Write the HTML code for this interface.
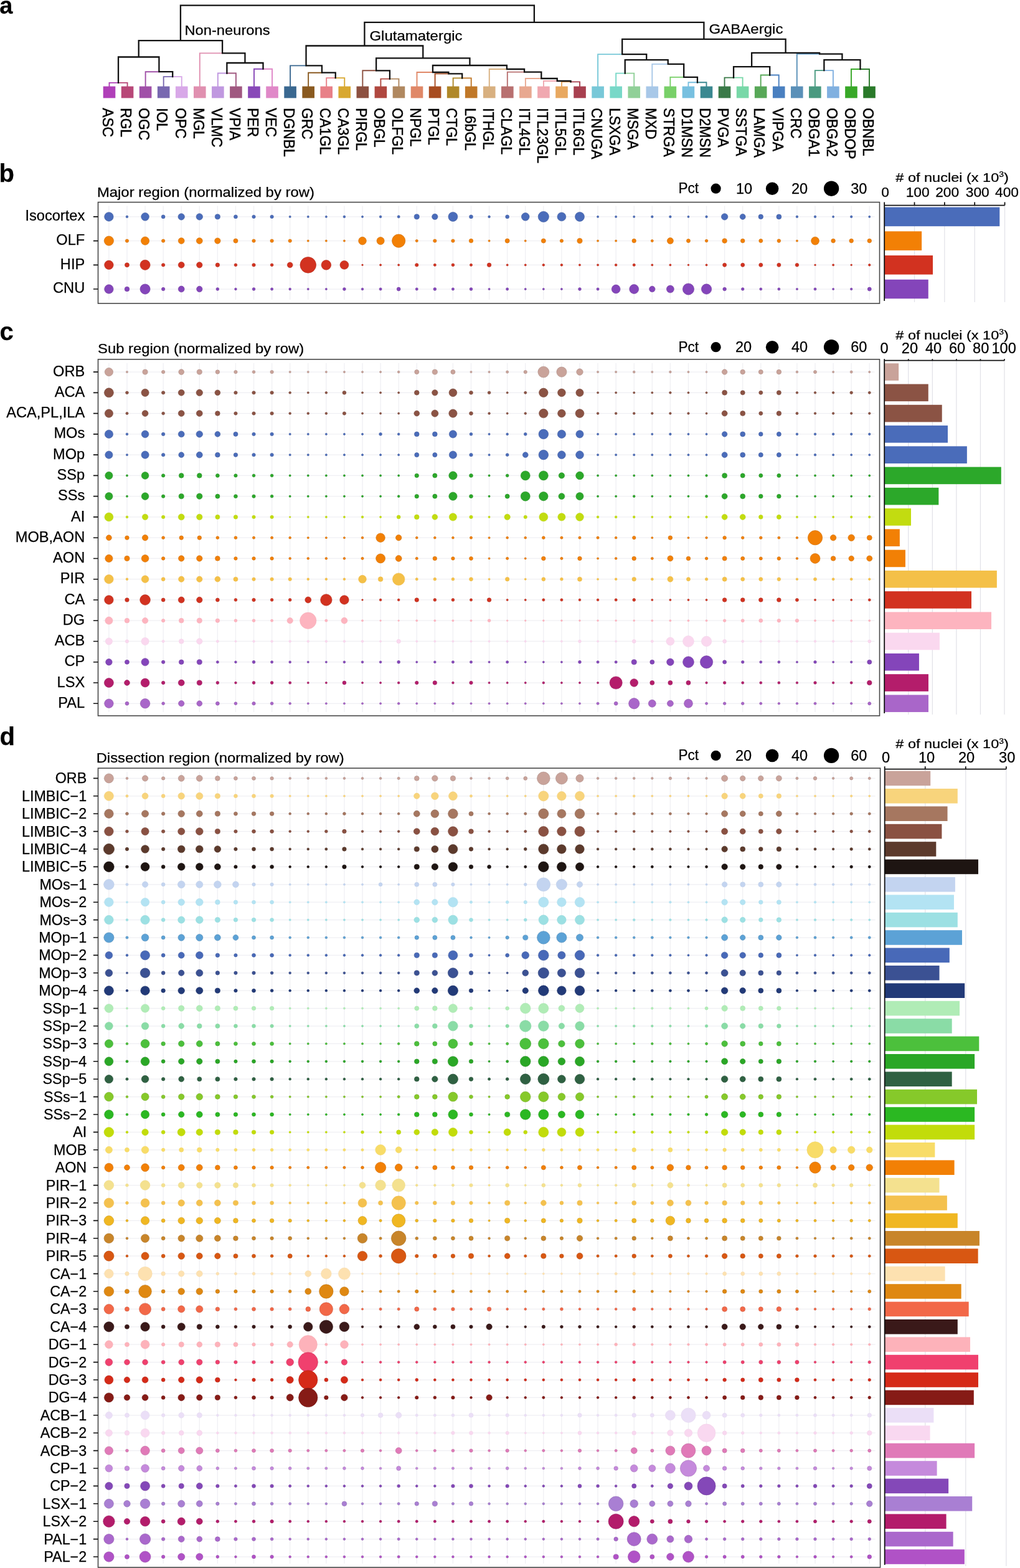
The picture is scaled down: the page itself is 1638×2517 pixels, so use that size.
<!DOCTYPE html>
<html><head><meta charset="utf-8"><title>Figure</title>
<style>html,body{margin:0;padding:0;background:#fff;overflow:hidden;}svg{display:block;}</style>
</head><body>
<svg xmlns="http://www.w3.org/2000/svg" width="1638" height="2517" viewBox="0 0 1638 2517" font-family="'Liberation Sans', Arial, Helvetica, sans-serif" fill="#000">
<style>text{stroke:#000;stroke-width:0.25px;}text.cl{stroke-width:0.5px;}</style>
<g fill="none" stroke-linecap="square" stroke-linejoin="miter">
<path d="M190.03 132.9H175.5V138.6" stroke="#b040b8" stroke-width="1.9"/>
<path d="M190.03 132.9H204.56V138.6" stroke="#b84878" stroke-width="1.9"/>
<path d="M277.21 123.1H262.68V138.6" stroke="#7868b0" stroke-width="1.9"/>
<path d="M277.21 123.1H291.74V138.6" stroke="#d8a8e8" stroke-width="1.9"/>
<path d="M255.42 115.2H233.62V138.6" stroke="#a050a8" stroke-width="1.9"/>
<path d="M364.39 117.5H349.86V138.6" stroke="#c098e0" stroke-width="1.9"/>
<path d="M364.39 117.5H378.92V138.6" stroke="#a05880" stroke-width="1.9"/>
<path d="M422.51 110.7H407.98V138.6" stroke="#8848b8" stroke-width="1.9"/>
<path d="M422.51 110.7H437.04V138.6" stroke="#e088c8" stroke-width="1.9"/>
<path d="M357.12 85.4H320.8V138.6" stroke="#e090b0" stroke-width="1.9"/>
<path d="M538.75 125.1H524.22V138.6" stroke="#e88088" stroke-width="1.9"/>
<path d="M538.75 125.1H553.28V138.6" stroke="#d8a830" stroke-width="1.9"/>
<path d="M516.95 116.7H495.16V138.6" stroke="#8a5a20" stroke-width="1.9"/>
<path d="M491.53 105.4H466.1V138.6" stroke="#3a6890" stroke-width="1.9"/>
<path d="M625.93 126.6H611.4V138.6" stroke="#b04840" stroke-width="1.9"/>
<path d="M625.93 126.6H640.46V138.6" stroke="#b08860" stroke-width="1.9"/>
<path d="M604.13 113.3H582.34V138.6" stroke="#8c5040" stroke-width="1.9"/>
<path d="M742.17 125.4H727.64V138.6" stroke="#b08828" stroke-width="1.9"/>
<path d="M742.17 125.4H756.7V138.6" stroke="#c07828" stroke-width="1.9"/>
<path d="M720.38 118.4H698.58V138.6" stroke="#a84c20" stroke-width="1.9"/>
<path d="M694.95 116H669.52V138.6" stroke="#e08868" stroke-width="1.9"/>
<path d="M916.53 131.4H902V138.6" stroke="#e8a860" stroke-width="1.9"/>
<path d="M916.53 131.4H931.06V138.6" stroke="#a84050" stroke-width="1.9"/>
<path d="M894.73 130H872.94V138.6" stroke="#f0a8b0" stroke-width="1.9"/>
<path d="M869.31 126H843.88V138.6" stroke="#e8a890" stroke-width="1.9"/>
<path d="M842.06 115.6H814.82V138.6" stroke="#b87070" stroke-width="1.9"/>
<path d="M813.91 111H785.76V138.6" stroke="#d8b080" stroke-width="1.9"/>
<path d="M1003.71 117.6H989.18V138.6" stroke="#78d8c8" stroke-width="1.9"/>
<path d="M1003.71 117.6H1018.24V138.6" stroke="#90d098" stroke-width="1.9"/>
<path d="M1119.95 132.3H1105.42V138.6" stroke="#78c0e0" stroke-width="1.9"/>
<path d="M1119.95 132.3H1134.48V138.6" stroke="#3a8890" stroke-width="1.9"/>
<path d="M1098.16 123.9H1076.36V138.6" stroke="#78d068" stroke-width="1.9"/>
<path d="M1072.73 102.9H1047.3V138.6" stroke="#a8c8e8" stroke-width="1.9"/>
<path d="M999.17 87.1H960.12V138.6" stroke="#78c8d8" stroke-width="1.9"/>
<path d="M1178.07 124.6H1163.54V138.6" stroke="#3a7a48" stroke-width="1.9"/>
<path d="M1178.07 124.6H1192.6V138.6" stroke="#78d8a8" stroke-width="1.9"/>
<path d="M1236.19 120.5H1221.66V138.6" stroke="#58a858" stroke-width="1.9"/>
<path d="M1236.19 120.5H1250.72V138.6" stroke="#4a80c0" stroke-width="1.9"/>
<path d="M1323.37 113.1H1308.84V138.6" stroke="#4a9a80" stroke-width="1.9"/>
<path d="M1323.37 113.1H1337.9V138.6" stroke="#80b0e0" stroke-width="1.9"/>
<path d="M1381.49 111H1366.96V138.6" stroke="#38a828" stroke-width="1.9"/>
<path d="M1381.49 111H1396.02V138.6" stroke="#2a7a2a" stroke-width="1.9"/>
<path d="M1316.11 86.6H1279.78V138.6" stroke="#5a90b8" stroke-width="1.9"/>
<path d="M255.42 115.2H277.21V123.1M222.72 91.5H190.03V132.9M222.72 91.5H255.42V115.2M393.45 101H364.39V117.5M393.45 101H422.51V110.7M357.12 85.4H393.45V101M289.92 65.1H222.72V91.5M289.92 65.1H357.12V85.4M516.95 116.7H538.75V125.1M491.53 105.4H516.95V116.7M604.13 113.3H625.93V126.6M720.38 118.4H742.17V125.4M694.95 116H720.38V118.4M894.73 130H916.53V131.4M869.31 126H894.73V130M842.06 115.6H869.31V126M813.91 111H842.06V115.6M754.43 105H694.95V116M754.43 105H813.91V111M679.28 93.4H604.13V113.3M679.28 93.4H754.43V105M585.4 73.5H491.53V105.4M585.4 73.5H679.28V93.4M1098.16 123.9H1119.95V132.3M1072.73 102.9H1098.16V123.9M1038.22 96.1H1003.71V117.6M1038.22 96.1H1072.73V102.9M999.17 87.1H1038.22V96.1M1207.13 107.1H1178.07V124.6M1207.13 107.1H1236.19V120.5M1352.43 96.2H1323.37V113.1M1352.43 96.2H1381.49V111M1316.11 86.6H1352.43V96.2M1261.62 84.9H1207.13V107.1M1261.62 84.9H1316.11V86.6M1130.39 62.9H999.17V87.1M1130.39 62.9H1261.62V84.9M857.9 35.8H585.4V73.5M857.9 35.8H1130.39V62.9M573.91 8.6H289.92V65.1M573.91 8.6H857.9V35.8" stroke="#111" stroke-width="2.3"/>
</g>
<rect x="165.7" y="138.6" width="19.6" height="18.8" fill="#b040b8"/>
<rect x="194.76" y="138.6" width="19.6" height="18.8" fill="#b84878"/>
<rect x="223.82" y="138.6" width="19.6" height="18.8" fill="#a050a8"/>
<rect x="252.88" y="138.6" width="19.6" height="18.8" fill="#7868b0"/>
<rect x="281.94" y="138.6" width="19.6" height="18.8" fill="#d8a8e8"/>
<rect x="311" y="138.6" width="19.6" height="18.8" fill="#e090b0"/>
<rect x="340.06" y="138.6" width="19.6" height="18.8" fill="#c098e0"/>
<rect x="369.12" y="138.6" width="19.6" height="18.8" fill="#a05880"/>
<rect x="398.18" y="138.6" width="19.6" height="18.8" fill="#8848b8"/>
<rect x="427.24" y="138.6" width="19.6" height="18.8" fill="#e088c8"/>
<rect x="456.3" y="138.6" width="19.6" height="18.8" fill="#3a6890"/>
<rect x="485.36" y="138.6" width="19.6" height="18.8" fill="#8a5a20"/>
<rect x="514.42" y="138.6" width="19.6" height="18.8" fill="#e88088"/>
<rect x="543.48" y="138.6" width="19.6" height="18.8" fill="#d8a830"/>
<rect x="572.54" y="138.6" width="19.6" height="18.8" fill="#8c5040"/>
<rect x="601.6" y="138.6" width="19.6" height="18.8" fill="#b04840"/>
<rect x="630.66" y="138.6" width="19.6" height="18.8" fill="#b08860"/>
<rect x="659.72" y="138.6" width="19.6" height="18.8" fill="#e08868"/>
<rect x="688.78" y="138.6" width="19.6" height="18.8" fill="#a84c20"/>
<rect x="717.84" y="138.6" width="19.6" height="18.8" fill="#b08828"/>
<rect x="746.9" y="138.6" width="19.6" height="18.8" fill="#c07828"/>
<rect x="775.96" y="138.6" width="19.6" height="18.8" fill="#d8b080"/>
<rect x="805.02" y="138.6" width="19.6" height="18.8" fill="#b87070"/>
<rect x="834.08" y="138.6" width="19.6" height="18.8" fill="#e8a890"/>
<rect x="863.14" y="138.6" width="19.6" height="18.8" fill="#f0a8b0"/>
<rect x="892.2" y="138.6" width="19.6" height="18.8" fill="#e8a860"/>
<rect x="921.26" y="138.6" width="19.6" height="18.8" fill="#a84050"/>
<rect x="950.32" y="138.6" width="19.6" height="18.8" fill="#78c8d8"/>
<rect x="979.38" y="138.6" width="19.6" height="18.8" fill="#78d8c8"/>
<rect x="1008.44" y="138.6" width="19.6" height="18.8" fill="#90d098"/>
<rect x="1037.5" y="138.6" width="19.6" height="18.8" fill="#a8c8e8"/>
<rect x="1066.56" y="138.6" width="19.6" height="18.8" fill="#78d068"/>
<rect x="1095.62" y="138.6" width="19.6" height="18.8" fill="#78c0e0"/>
<rect x="1124.68" y="138.6" width="19.6" height="18.8" fill="#3a8890"/>
<rect x="1153.74" y="138.6" width="19.6" height="18.8" fill="#3a7a48"/>
<rect x="1182.8" y="138.6" width="19.6" height="18.8" fill="#78d8a8"/>
<rect x="1211.86" y="138.6" width="19.6" height="18.8" fill="#58a858"/>
<rect x="1240.92" y="138.6" width="19.6" height="18.8" fill="#4a80c0"/>
<rect x="1269.98" y="138.6" width="19.6" height="18.8" fill="#5a90b8"/>
<rect x="1299.04" y="138.6" width="19.6" height="18.8" fill="#4a9a80"/>
<rect x="1328.1" y="138.6" width="19.6" height="18.8" fill="#80b0e0"/>
<rect x="1357.16" y="138.6" width="19.6" height="18.8" fill="#38a828"/>
<rect x="1386.22" y="138.6" width="19.6" height="18.8" fill="#2a7a2a"/>
<text x="296.5" y="56" font-size="22.3" textLength="137" lengthAdjust="spacingAndGlyphs">Non-neurons</text>
<text x="593.5" y="65.2" font-size="22.3" textLength="149" lengthAdjust="spacingAndGlyphs">Glutamatergic</text>
<text x="1138.5" y="54.3" font-size="22.3" textLength="119" lengthAdjust="spacingAndGlyphs">GABAergic</text>
<text class="cl" transform="translate(165.3 173.2) scale(1.09 1) rotate(90)" font-size="22.8">ASC</text>
<text class="cl" transform="translate(194.36 173.2) scale(1.09 1) rotate(90)" font-size="22.8">RGL</text>
<text class="cl" transform="translate(223.42 173.2) scale(1.09 1) rotate(90)" font-size="22.8">OGC</text>
<text class="cl" transform="translate(252.48 173.2) scale(1.09 1) rotate(90)" font-size="22.8">IOL</text>
<text class="cl" transform="translate(281.54 173.2) scale(1.09 1) rotate(90)" font-size="22.8">OPC</text>
<text class="cl" transform="translate(310.6 173.2) scale(1.09 1) rotate(90)" font-size="22.8">MGL</text>
<text class="cl" transform="translate(339.66 173.2) scale(1.09 1) rotate(90)" font-size="22.8">VLMC</text>
<text class="cl" transform="translate(368.72 173.2) scale(1.09 1) rotate(90)" font-size="22.8">VPIA</text>
<text class="cl" transform="translate(397.78 173.2) scale(1.09 1) rotate(90)" font-size="22.8">PER</text>
<text class="cl" transform="translate(426.84 173.2) scale(1.09 1) rotate(90)" font-size="22.8">VEC</text>
<text class="cl" transform="translate(455.9 173.2) scale(1.09 1) rotate(90)" font-size="22.8">DGNBL</text>
<text class="cl" transform="translate(484.96 173.2) scale(1.09 1) rotate(90)" font-size="22.8">GRC</text>
<text class="cl" transform="translate(514.02 173.2) scale(1.09 1) rotate(90)" font-size="22.8">CA1GL</text>
<text class="cl" transform="translate(543.08 173.2) scale(1.09 1) rotate(90)" font-size="22.8">CA3GL</text>
<text class="cl" transform="translate(572.14 173.2) scale(1.09 1) rotate(90)" font-size="22.8">PIRGL</text>
<text class="cl" transform="translate(601.2 173.2) scale(1.09 1) rotate(90)" font-size="22.8">OBGL</text>
<text class="cl" transform="translate(630.26 173.2) scale(1.09 1) rotate(90)" font-size="22.8">OLFGL</text>
<text class="cl" transform="translate(659.32 173.2) scale(1.09 1) rotate(90)" font-size="22.8">NPGL</text>
<text class="cl" transform="translate(688.38 173.2) scale(1.09 1) rotate(90)" font-size="22.8">PTGL</text>
<text class="cl" transform="translate(717.44 173.2) scale(1.09 1) rotate(90)" font-size="22.8">CTGL</text>
<text class="cl" transform="translate(746.5 173.2) scale(1.09 1) rotate(90)" font-size="22.8">L6bGL</text>
<text class="cl" transform="translate(775.56 173.2) scale(1.09 1) rotate(90)" font-size="22.8">ITHGL</text>
<text class="cl" transform="translate(804.62 173.2) scale(1.09 1) rotate(90)" font-size="22.8">CLAGL</text>
<text class="cl" transform="translate(833.68 173.2) scale(1.09 1) rotate(90)" font-size="22.8">ITL4GL</text>
<text class="cl" transform="translate(862.74 173.2) scale(1.09 1) rotate(90)" font-size="22.8">ITL23GL</text>
<text class="cl" transform="translate(891.8 173.2) scale(1.09 1) rotate(90)" font-size="22.8">ITL5GL</text>
<text class="cl" transform="translate(920.86 173.2) scale(1.09 1) rotate(90)" font-size="22.8">ITL6GL</text>
<text class="cl" transform="translate(949.92 173.2) scale(1.09 1) rotate(90)" font-size="22.8">CNUGA</text>
<text class="cl" transform="translate(978.98 173.2) scale(1.09 1) rotate(90)" font-size="22.8">LSXGA</text>
<text class="cl" transform="translate(1008.04 173.2) scale(1.09 1) rotate(90)" font-size="22.8">MSGA</text>
<text class="cl" transform="translate(1037.1 173.2) scale(1.09 1) rotate(90)" font-size="22.8">MXD</text>
<text class="cl" transform="translate(1066.16 173.2) scale(1.09 1) rotate(90)" font-size="22.8">STRGA</text>
<text class="cl" transform="translate(1095.22 173.2) scale(1.09 1) rotate(90)" font-size="22.8">D1MSN</text>
<text class="cl" transform="translate(1124.28 173.2) scale(1.09 1) rotate(90)" font-size="22.8">D2MSN</text>
<text class="cl" transform="translate(1153.34 173.2) scale(1.09 1) rotate(90)" font-size="22.8">PVGA</text>
<text class="cl" transform="translate(1182.4 173.2) scale(1.09 1) rotate(90)" font-size="22.8">SSTGA</text>
<text class="cl" transform="translate(1211.46 173.2) scale(1.09 1) rotate(90)" font-size="22.8">LAMGA</text>
<text class="cl" transform="translate(1240.52 173.2) scale(1.09 1) rotate(90)" font-size="22.8">VIPGA</text>
<text class="cl" transform="translate(1269.58 173.2) scale(1.09 1) rotate(90)" font-size="22.8">CRC</text>
<text class="cl" transform="translate(1298.64 173.2) scale(1.09 1) rotate(90)" font-size="22.8">OBGA1</text>
<text class="cl" transform="translate(1327.7 173.2) scale(1.09 1) rotate(90)" font-size="22.8">OBGA2</text>
<text class="cl" transform="translate(1356.76 173.2) scale(1.09 1) rotate(90)" font-size="22.8">OBDOP</text>
<text class="cl" transform="translate(1385.82 173.2) scale(1.09 1) rotate(90)" font-size="22.8">OBNBL</text>
<path d="M174.9 330.6V481.1M203.98 330.6V481.1M233.06 330.6V481.1M262.14 330.6V481.1M291.22 330.6V481.1M320.3 330.6V481.1M349.38 330.6V481.1M378.46 330.6V481.1M407.54 330.6V481.1M436.62 330.6V481.1M465.7 330.6V481.1M494.78 330.6V481.1M523.86 330.6V481.1M552.94 330.6V481.1M582.02 330.6V481.1M611.1 330.6V481.1M640.18 330.6V481.1M669.26 330.6V481.1M698.34 330.6V481.1M727.42 330.6V481.1M756.5 330.6V481.1M785.58 330.6V481.1M814.66 330.6V481.1M843.74 330.6V481.1M872.82 330.6V481.1M901.9 330.6V481.1M930.98 330.6V481.1M960.06 330.6V481.1M989.14 330.6V481.1M1018.22 330.6V481.1M1047.3 330.6V481.1M1076.38 330.6V481.1M1105.46 330.6V481.1M1134.54 330.6V481.1M1163.62 330.6V481.1M1192.7 330.6V481.1M1221.78 330.6V481.1M1250.86 330.6V481.1M1279.94 330.6V481.1M1309.02 330.6V481.1M1338.1 330.6V481.1M1367.18 330.6V481.1M1396.26 330.6V481.1M165.5 347.9H1404.5M165.5 386.62H1404.5M165.5 425.34H1404.5M165.5 464.06H1404.5" stroke="#efeff3" stroke-width="1.25" fill="none"/>
<rect x="157.5" y="324.6" width="1255" height="162.5" fill="none" stroke="#484848" stroke-width="1.6"/>
<text x="136.2" y="354.1" font-size="23.6" text-anchor="end">Isocortex</text>
<text x="136.2" y="392.82" font-size="23.6" text-anchor="end">OLF</text>
<text x="136.2" y="431.54" font-size="23.6" text-anchor="end">HIP</text>
<text x="136.2" y="470.26" font-size="23.6" text-anchor="end">CNU</text>
<path d="M149.9 347.9H157.5M149.9 386.62H157.5M149.9 425.34H157.5M149.9 464.06H157.5" stroke="#111" stroke-width="1.6"/>
<g fill="#4a6cba" stroke="#3e5a9c" stroke-width="0.55">
<circle cx="174.9" cy="347.9" r="7.25"/>
<circle cx="203.98" cy="347.9" r="1.85"/>
<circle cx="233.06" cy="347.9" r="6.35"/>
<circle cx="262.14" cy="347.9" r="2.95"/>
<circle cx="291.22" cy="347.9" r="5.25"/>
<circle cx="320.3" cy="347.9" r="5.25"/>
<circle cx="349.38" cy="347.9" r="4.1"/>
<circle cx="378.46" cy="347.9" r="2.95"/>
<circle cx="407.54" cy="347.9" r="2.7"/>
<circle cx="436.62" cy="347.9" r="2.7"/>
<circle cx="465.7" cy="347.9" r="1.55"/>
<circle cx="494.78" cy="347.9" r="1.55"/>
<circle cx="523.86" cy="347.9" r="1.55"/>
<circle cx="552.94" cy="347.9" r="1.85"/>
<circle cx="582.02" cy="347.9" r="1.55"/>
<circle cx="611.1" cy="347.9" r="1.85"/>
<circle cx="640.18" cy="347.9" r="2.1"/>
<circle cx="669.26" cy="347.9" r="4.1"/>
<circle cx="698.34" cy="347.9" r="4.7"/>
<circle cx="727.42" cy="347.9" r="7.5"/>
<circle cx="756.5" cy="347.9" r="2.95"/>
<circle cx="785.58" cy="347.9" r="1.85"/>
<circle cx="814.66" cy="347.9" r="2.95"/>
<circle cx="843.74" cy="347.9" r="6.35"/>
<circle cx="872.82" cy="347.9" r="8.65"/>
<circle cx="901.9" cy="347.9" r="6.95"/>
<circle cx="930.98" cy="347.9" r="7.5"/>
<circle cx="960.06" cy="347.9" r="1.55"/>
<circle cx="989.14" cy="347.9" r="1.55"/>
<circle cx="1018.22" cy="347.9" r="1.55"/>
<circle cx="1047.3" cy="347.9" r="1.8"/>
<circle cx="1076.38" cy="347.9" r="1.8"/>
<circle cx="1105.46" cy="347.9" r="1.55"/>
<circle cx="1134.54" cy="347.9" r="1.8"/>
<circle cx="1163.62" cy="347.9" r="5.25"/>
<circle cx="1192.7" cy="347.9" r="4.5"/>
<circle cx="1221.78" cy="347.9" r="3.8"/>
<circle cx="1250.86" cy="347.9" r="4"/>
<circle cx="1279.94" cy="347.9" r="1.8"/>
<circle cx="1309.02" cy="347.9" r="1.8"/>
<circle cx="1338.1" cy="347.9" r="1.55"/>
<circle cx="1367.18" cy="347.9" r="1.8"/>
<circle cx="1396.26" cy="347.9" r="1.55"/>
</g>
<g fill="#f28005" stroke="#cb6b04" stroke-width="0.55">
<circle cx="174.9" cy="386.62" r="7.65"/>
<circle cx="203.98" cy="386.62" r="2.7"/>
<circle cx="233.06" cy="386.62" r="6.65"/>
<circle cx="262.14" cy="386.62" r="2.7"/>
<circle cx="291.22" cy="386.62" r="4.95"/>
<circle cx="320.3" cy="386.62" r="4.95"/>
<circle cx="349.38" cy="386.62" r="4.7"/>
<circle cx="378.46" cy="386.62" r="3.55"/>
<circle cx="407.54" cy="386.62" r="2.7"/>
<circle cx="436.62" cy="386.62" r="2.7"/>
<circle cx="465.7" cy="386.62" r="2.7"/>
<circle cx="494.78" cy="386.62" r="1.55"/>
<circle cx="523.86" cy="386.62" r="1.55"/>
<circle cx="552.94" cy="386.62" r="1.55"/>
<circle cx="582.02" cy="386.62" r="6.35"/>
<circle cx="611.1" cy="386.62" r="6.1"/>
<circle cx="640.18" cy="386.62" r="10.65"/>
<circle cx="669.26" cy="386.62" r="2.1"/>
<circle cx="698.34" cy="386.62" r="2.7"/>
<circle cx="727.42" cy="386.62" r="2.7"/>
<circle cx="756.5" cy="386.62" r="3.25"/>
<circle cx="785.58" cy="386.62" r="1.55"/>
<circle cx="814.66" cy="386.62" r="3.55"/>
<circle cx="843.74" cy="386.62" r="1.55"/>
<circle cx="872.82" cy="386.62" r="3.55"/>
<circle cx="901.9" cy="386.62" r="2.7"/>
<circle cx="930.98" cy="386.62" r="4.1"/>
<circle cx="960.06" cy="386.62" r="1.55"/>
<circle cx="989.14" cy="386.62" r="1.55"/>
<circle cx="1018.22" cy="386.62" r="3.25"/>
<circle cx="1047.3" cy="386.62" r="2.05"/>
<circle cx="1076.38" cy="386.62" r="5"/>
<circle cx="1105.46" cy="386.62" r="3.05"/>
<circle cx="1134.54" cy="386.62" r="2.3"/>
<circle cx="1163.62" cy="386.62" r="3.8"/>
<circle cx="1192.7" cy="386.62" r="3.3"/>
<circle cx="1221.78" cy="386.62" r="3.05"/>
<circle cx="1250.86" cy="386.62" r="2.8"/>
<circle cx="1279.94" cy="386.62" r="1.55"/>
<circle cx="1309.02" cy="386.62" r="6.45"/>
<circle cx="1338.1" cy="386.62" r="3.3"/>
<circle cx="1367.18" cy="386.62" r="3.3"/>
<circle cx="1396.26" cy="386.62" r="3.3"/>
</g>
<g fill="#d23220" stroke="#b02a1a" stroke-width="0.55">
<circle cx="174.9" cy="425.34" r="7.25"/>
<circle cx="203.98" cy="425.34" r="3.55"/>
<circle cx="233.06" cy="425.34" r="8.1"/>
<circle cx="262.14" cy="425.34" r="2.7"/>
<circle cx="291.22" cy="425.34" r="4.95"/>
<circle cx="320.3" cy="425.34" r="4.7"/>
<circle cx="349.38" cy="425.34" r="3.25"/>
<circle cx="378.46" cy="425.34" r="2.4"/>
<circle cx="407.54" cy="425.34" r="2.7"/>
<circle cx="436.62" cy="425.34" r="2.4"/>
<circle cx="465.7" cy="425.34" r="4.4"/>
<circle cx="494.78" cy="425.34" r="12.85"/>
<circle cx="523.86" cy="425.34" r="7.85"/>
<circle cx="552.94" cy="425.34" r="6.95"/>
<circle cx="582.02" cy="425.34" r="1.25"/>
<circle cx="611.1" cy="425.34" r="1.55"/>
<circle cx="640.18" cy="425.34" r="1.55"/>
<circle cx="669.26" cy="425.34" r="2.7"/>
<circle cx="698.34" cy="425.34" r="2.1"/>
<circle cx="727.42" cy="425.34" r="2.4"/>
<circle cx="756.5" cy="425.34" r="2.1"/>
<circle cx="785.58" cy="425.34" r="3.25"/>
<circle cx="814.66" cy="425.34" r="1.55"/>
<circle cx="843.74" cy="425.34" r="1.55"/>
<circle cx="872.82" cy="425.34" r="1.85"/>
<circle cx="901.9" cy="425.34" r="1.85"/>
<circle cx="930.98" cy="425.34" r="1.55"/>
<circle cx="960.06" cy="425.34" r="1.55"/>
<circle cx="989.14" cy="425.34" r="1.85"/>
<circle cx="1018.22" cy="425.34" r="2.1"/>
<circle cx="1047.3" cy="425.34" r="1.55"/>
<circle cx="1076.38" cy="425.34" r="1.55"/>
<circle cx="1105.46" cy="425.34" r="1.3"/>
<circle cx="1134.54" cy="425.34" r="1.55"/>
<circle cx="1163.62" cy="425.34" r="3.05"/>
<circle cx="1192.7" cy="425.34" r="3.05"/>
<circle cx="1221.78" cy="425.34" r="3.05"/>
<circle cx="1250.86" cy="425.34" r="3.05"/>
<circle cx="1279.94" cy="425.34" r="2.8"/>
<circle cx="1309.02" cy="425.34" r="1.3"/>
<circle cx="1338.1" cy="425.34" r="1.55"/>
<circle cx="1367.18" cy="425.34" r="1.3"/>
<circle cx="1396.26" cy="425.34" r="1.8"/>
</g>
<g fill="#8445ba" stroke="#6e399c" stroke-width="0.55">
<circle cx="174.9" cy="464.06" r="7.25"/>
<circle cx="203.98" cy="464.06" r="3.85"/>
<circle cx="233.06" cy="464.06" r="8.1"/>
<circle cx="262.14" cy="464.06" r="2.7"/>
<circle cx="291.22" cy="464.06" r="4.95"/>
<circle cx="320.3" cy="464.06" r="4.7"/>
<circle cx="349.38" cy="464.06" r="2.4"/>
<circle cx="378.46" cy="464.06" r="1.85"/>
<circle cx="407.54" cy="464.06" r="2.4"/>
<circle cx="436.62" cy="464.06" r="2.1"/>
<circle cx="465.7" cy="464.06" r="1.85"/>
<circle cx="494.78" cy="464.06" r="1.55"/>
<circle cx="523.86" cy="464.06" r="1.55"/>
<circle cx="552.94" cy="464.06" r="2.4"/>
<circle cx="582.02" cy="464.06" r="1.85"/>
<circle cx="611.1" cy="464.06" r="2.1"/>
<circle cx="640.18" cy="464.06" r="2.95"/>
<circle cx="669.26" cy="464.06" r="2.1"/>
<circle cx="698.34" cy="464.06" r="2.4"/>
<circle cx="727.42" cy="464.06" r="2.1"/>
<circle cx="756.5" cy="464.06" r="2.4"/>
<circle cx="785.58" cy="464.06" r="1.55"/>
<circle cx="814.66" cy="464.06" r="2.1"/>
<circle cx="843.74" cy="464.06" r="1.55"/>
<circle cx="872.82" cy="464.06" r="1.55"/>
<circle cx="901.9" cy="464.06" r="1.55"/>
<circle cx="930.98" cy="464.06" r="2.4"/>
<circle cx="960.06" cy="464.06" r="2.1"/>
<circle cx="989.14" cy="464.06" r="6.95"/>
<circle cx="1018.22" cy="464.06" r="7.5"/>
<circle cx="1047.3" cy="464.06" r="4.75"/>
<circle cx="1076.38" cy="464.06" r="6"/>
<circle cx="1105.46" cy="464.06" r="9.15"/>
<circle cx="1134.54" cy="464.06" r="8.2"/>
<circle cx="1163.62" cy="464.06" r="2.8"/>
<circle cx="1192.7" cy="464.06" r="2.3"/>
<circle cx="1221.78" cy="464.06" r="2.05"/>
<circle cx="1250.86" cy="464.06" r="2.05"/>
<circle cx="1279.94" cy="464.06" r="1.55"/>
<circle cx="1309.02" cy="464.06" r="2.05"/>
<circle cx="1338.1" cy="464.06" r="1.55"/>
<circle cx="1367.18" cy="464.06" r="1.8"/>
<circle cx="1396.26" cy="464.06" r="3.05"/>
</g>
<text x="155.9" y="315.8" font-size="22.3" textLength="349" lengthAdjust="spacingAndGlyphs">Major region (normalized by row)</text>
<text x="1089.5" y="310.2" font-size="23" textLength="32.6" lengthAdjust="spacingAndGlyphs">Pct</text>
<circle cx="1149.6" cy="302.7" r="8.1" fill="#000"/>
<text x="1182" y="310.9" font-size="23.5">10</text>
<circle cx="1240.1" cy="302.7" r="10.3" fill="#000"/>
<text x="1271" y="310.9" font-size="23.5">20</text>
<circle cx="1335.1" cy="302.7" r="12.2" fill="#000"/>
<text x="1366.3" y="310.9" font-size="23.5">30</text>
<path d="M1468.53 329.6V485.1M1516.86 329.6V485.1M1565.19 329.6V485.1M1613.52 329.6V485.1" stroke="#e2e2e8" stroke-width="1.25"/>
<rect x="1420.2" y="332.6" width="185.1" height="30.6" fill="#4a6cba"/>
<rect x="1420.2" y="371.32" width="59.93" height="30.6" fill="#f28005"/>
<rect x="1420.2" y="410.04" width="77.81" height="30.6" fill="#d23220"/>
<rect x="1420.2" y="448.76" width="70.56" height="30.6" fill="#8445ba"/>
<path d="M1420.2 324.6V483.1M1420.2 329.6H1613.52M1468.53 329.6V324.6M1516.86 329.6V324.6M1565.19 329.6V324.6M1613.52 329.6V324.6" stroke="#111" stroke-width="1.8" fill="none"/>
<text x="1421.7" y="315.8" font-size="22.8" text-anchor="middle">0</text>
<text x="1473.7" y="315.8" font-size="22.8" text-anchor="middle">100</text>
<text x="1521.2" y="315.8" font-size="22.8" text-anchor="middle">200</text>
<text x="1569.8" y="315.8" font-size="22.8" text-anchor="middle">300</text>
<text x="1617" y="315.8" font-size="22.8" text-anchor="middle">400</text>
<text transform="translate(1438.3 291.5) scale(1.12 1)" font-size="21"># of nuclei (x 10<tspan dy="-7.2" font-size="12.5">3</tspan><tspan dy="7.2">)</tspan></text>
<path d="M174.9 582.8V1143M203.98 582.8V1143M233.06 582.8V1143M262.14 582.8V1143M291.22 582.8V1143M320.3 582.8V1143M349.38 582.8V1143M378.46 582.8V1143M407.54 582.8V1143M436.62 582.8V1143M465.7 582.8V1143M494.78 582.8V1143M523.86 582.8V1143M552.94 582.8V1143M582.02 582.8V1143M611.1 582.8V1143M640.18 582.8V1143M669.26 582.8V1143M698.34 582.8V1143M727.42 582.8V1143M756.5 582.8V1143M785.58 582.8V1143M814.66 582.8V1143M843.74 582.8V1143M872.82 582.8V1143M901.9 582.8V1143M930.98 582.8V1143M960.06 582.8V1143M989.14 582.8V1143M1018.22 582.8V1143M1047.3 582.8V1143M1076.38 582.8V1143M1105.46 582.8V1143M1134.54 582.8V1143M1163.62 582.8V1143M1192.7 582.8V1143M1221.78 582.8V1143M1250.86 582.8V1143M1279.94 582.8V1143M1309.02 582.8V1143M1338.1 582.8V1143M1367.18 582.8V1143M1396.26 582.8V1143M165.5 597.1H1404.5M165.5 630.36H1404.5M165.5 663.62H1404.5M165.5 696.88H1404.5M165.5 730.14H1404.5M165.5 763.4H1404.5M165.5 796.66H1404.5M165.5 829.92H1404.5M165.5 863.18H1404.5M165.5 896.44H1404.5M165.5 929.7H1404.5M165.5 962.96H1404.5M165.5 996.22H1404.5M165.5 1029.48H1404.5M165.5 1062.74H1404.5M165.5 1096H1404.5M165.5 1129.26H1404.5" stroke="#efeff3" stroke-width="1.25" fill="none"/>
<rect x="157.5" y="576.8" width="1255" height="572.2" fill="none" stroke="#484848" stroke-width="1.6"/>
<text x="136.2" y="603.7" font-size="23.6" text-anchor="end">ORB</text>
<text x="136.2" y="636.96" font-size="23.6" text-anchor="end">ACA</text>
<text x="136.2" y="670.22" font-size="23.6" text-anchor="end">ACA,PL,ILA</text>
<text x="136.2" y="703.48" font-size="23.6" text-anchor="end">MOs</text>
<text x="136.2" y="736.74" font-size="23.6" text-anchor="end">MOp</text>
<text x="136.2" y="770" font-size="23.6" text-anchor="end">SSp</text>
<text x="136.2" y="803.26" font-size="23.6" text-anchor="end">SSs</text>
<text x="136.2" y="836.52" font-size="23.6" text-anchor="end">AI</text>
<text x="136.2" y="869.78" font-size="23.6" text-anchor="end">MOB,AON</text>
<text x="136.2" y="903.04" font-size="23.6" text-anchor="end">AON</text>
<text x="136.2" y="936.3" font-size="23.6" text-anchor="end">PIR</text>
<text x="136.2" y="969.56" font-size="23.6" text-anchor="end">CA</text>
<text x="136.2" y="1002.82" font-size="23.6" text-anchor="end">DG</text>
<text x="136.2" y="1036.08" font-size="23.6" text-anchor="end">ACB</text>
<text x="136.2" y="1069.34" font-size="23.6" text-anchor="end">CP</text>
<text x="136.2" y="1102.6" font-size="23.6" text-anchor="end">LSX</text>
<text x="136.2" y="1135.86" font-size="23.6" text-anchor="end">PAL</text>
<path d="M149.9 597.1H157.5M149.9 630.36H157.5M149.9 663.62H157.5M149.9 696.88H157.5M149.9 730.14H157.5M149.9 763.4H157.5M149.9 796.66H157.5M149.9 829.92H157.5M149.9 863.18H157.5M149.9 896.44H157.5M149.9 929.7H157.5M149.9 962.96H157.5M149.9 996.22H157.5M149.9 1029.48H157.5M149.9 1062.74H157.5M149.9 1096H157.5M149.9 1129.26H157.5" stroke="#111" stroke-width="1.6"/>
<g fill="#c9a39a" stroke="#a88881" stroke-width="0.55">
<circle cx="174.9" cy="597.1" r="6.65"/>
<circle cx="203.98" cy="597.1" r="1.55"/>
<circle cx="233.06" cy="597.1" r="4.1"/>
<circle cx="262.14" cy="597.1" r="2.7"/>
<circle cx="291.22" cy="597.1" r="4.4"/>
<circle cx="320.3" cy="597.1" r="4.1"/>
<circle cx="349.38" cy="597.1" r="3.25"/>
<circle cx="378.46" cy="597.1" r="2.7"/>
<circle cx="407.54" cy="597.1" r="2.4"/>
<circle cx="436.62" cy="597.1" r="2.7"/>
<circle cx="465.7" cy="597.1" r="1.55"/>
<circle cx="494.78" cy="597.1" r="1.55"/>
<circle cx="523.86" cy="597.1" r="1.55"/>
<circle cx="552.94" cy="597.1" r="1.55"/>
<circle cx="582.02" cy="597.1" r="1.55"/>
<circle cx="611.1" cy="597.1" r="1.55"/>
<circle cx="640.18" cy="597.1" r="1.85"/>
<circle cx="669.26" cy="597.1" r="3.55"/>
<circle cx="698.34" cy="597.1" r="4.1"/>
<circle cx="727.42" cy="597.1" r="3.55"/>
<circle cx="756.5" cy="597.1" r="1.55"/>
<circle cx="785.58" cy="597.1" r="1.55"/>
<circle cx="814.66" cy="597.1" r="2.1"/>
<circle cx="843.74" cy="597.1" r="2.7"/>
<circle cx="872.82" cy="597.1" r="8.95"/>
<circle cx="901.9" cy="597.1" r="8.1"/>
<circle cx="930.98" cy="597.1" r="5.25"/>
<circle cx="960.06" cy="597.1" r="1.55"/>
<circle cx="989.14" cy="597.1" r="1.55"/>
<circle cx="1018.22" cy="597.1" r="1.85"/>
<circle cx="1047.3" cy="597.1" r="1.55"/>
<circle cx="1076.38" cy="597.1" r="1.8"/>
<circle cx="1105.46" cy="597.1" r="1.55"/>
<circle cx="1134.54" cy="597.1" r="1.55"/>
<circle cx="1163.62" cy="597.1" r="4.25"/>
<circle cx="1192.7" cy="597.1" r="3.8"/>
<circle cx="1221.78" cy="597.1" r="3.55"/>
<circle cx="1250.86" cy="597.1" r="3.8"/>
<circle cx="1279.94" cy="597.1" r="1.8"/>
<circle cx="1309.02" cy="597.1" r="2.55"/>
<circle cx="1338.1" cy="597.1" r="1.55"/>
<circle cx="1367.18" cy="597.1" r="2.05"/>
<circle cx="1396.26" cy="597.1" r="1.55"/>
</g>
<g fill="#8b5344" stroke="#744539" stroke-width="0.55">
<circle cx="174.9" cy="630.36" r="7.5"/>
<circle cx="203.98" cy="630.36" r="2.4"/>
<circle cx="233.06" cy="630.36" r="6.1"/>
<circle cx="262.14" cy="630.36" r="2.7"/>
<circle cx="291.22" cy="630.36" r="4.95"/>
<circle cx="320.3" cy="630.36" r="5.25"/>
<circle cx="349.38" cy="630.36" r="4.4"/>
<circle cx="378.46" cy="630.36" r="2.7"/>
<circle cx="407.54" cy="630.36" r="2.7"/>
<circle cx="436.62" cy="630.36" r="2.7"/>
<circle cx="465.7" cy="630.36" r="1.85"/>
<circle cx="494.78" cy="630.36" r="1.55"/>
<circle cx="523.86" cy="630.36" r="1.85"/>
<circle cx="552.94" cy="630.36" r="2.95"/>
<circle cx="582.02" cy="630.36" r="1.55"/>
<circle cx="611.1" cy="630.36" r="1.55"/>
<circle cx="640.18" cy="630.36" r="1.55"/>
<circle cx="669.26" cy="630.36" r="3.85"/>
<circle cx="698.34" cy="630.36" r="4.7"/>
<circle cx="727.42" cy="630.36" r="6.35"/>
<circle cx="756.5" cy="630.36" r="2.95"/>
<circle cx="785.58" cy="630.36" r="2.4"/>
<circle cx="814.66" cy="630.36" r="1.55"/>
<circle cx="843.74" cy="630.36" r="2.1"/>
<circle cx="872.82" cy="630.36" r="7.25"/>
<circle cx="901.9" cy="630.36" r="6.35"/>
<circle cx="930.98" cy="630.36" r="6.1"/>
<circle cx="960.06" cy="630.36" r="1.55"/>
<circle cx="989.14" cy="630.36" r="1.55"/>
<circle cx="1018.22" cy="630.36" r="1.55"/>
<circle cx="1047.3" cy="630.36" r="1.55"/>
<circle cx="1076.38" cy="630.36" r="1.8"/>
<circle cx="1105.46" cy="630.36" r="1.55"/>
<circle cx="1134.54" cy="630.36" r="1.55"/>
<circle cx="1163.62" cy="630.36" r="4"/>
<circle cx="1192.7" cy="630.36" r="3.55"/>
<circle cx="1221.78" cy="630.36" r="3.05"/>
<circle cx="1250.86" cy="630.36" r="3.55"/>
<circle cx="1279.94" cy="630.36" r="1.8"/>
<circle cx="1309.02" cy="630.36" r="1.8"/>
<circle cx="1338.1" cy="630.36" r="1.8"/>
<circle cx="1367.18" cy="630.36" r="2.3"/>
<circle cx="1396.26" cy="630.36" r="2.05"/>
</g>
<g fill="#8b5344" stroke="#744539" stroke-width="0.55">
<circle cx="174.9" cy="663.62" r="6.65"/>
<circle cx="203.98" cy="663.62" r="2.1"/>
<circle cx="233.06" cy="663.62" r="4.95"/>
<circle cx="262.14" cy="663.62" r="2.4"/>
<circle cx="291.22" cy="663.62" r="4.95"/>
<circle cx="320.3" cy="663.62" r="4.95"/>
<circle cx="349.38" cy="663.62" r="3.85"/>
<circle cx="378.46" cy="663.62" r="2.7"/>
<circle cx="407.54" cy="663.62" r="2.7"/>
<circle cx="436.62" cy="663.62" r="2.7"/>
<circle cx="465.7" cy="663.62" r="1.85"/>
<circle cx="494.78" cy="663.62" r="1.85"/>
<circle cx="523.86" cy="663.62" r="1.85"/>
<circle cx="552.94" cy="663.62" r="2.7"/>
<circle cx="582.02" cy="663.62" r="1.55"/>
<circle cx="611.1" cy="663.62" r="1.55"/>
<circle cx="640.18" cy="663.62" r="1.55"/>
<circle cx="669.26" cy="663.62" r="4.4"/>
<circle cx="698.34" cy="663.62" r="5.55"/>
<circle cx="727.42" cy="663.62" r="6.65"/>
<circle cx="756.5" cy="663.62" r="2.95"/>
<circle cx="785.58" cy="663.62" r="1.85"/>
<circle cx="814.66" cy="663.62" r="1.55"/>
<circle cx="843.74" cy="663.62" r="1.85"/>
<circle cx="872.82" cy="663.62" r="7.25"/>
<circle cx="901.9" cy="663.62" r="6.35"/>
<circle cx="930.98" cy="663.62" r="6.95"/>
<circle cx="960.06" cy="663.62" r="1.85"/>
<circle cx="989.14" cy="663.62" r="1.85"/>
<circle cx="1018.22" cy="663.62" r="1.85"/>
<circle cx="1047.3" cy="663.62" r="1.8"/>
<circle cx="1076.38" cy="663.62" r="1.8"/>
<circle cx="1105.46" cy="663.62" r="1.8"/>
<circle cx="1134.54" cy="663.62" r="1.55"/>
<circle cx="1163.62" cy="663.62" r="4.5"/>
<circle cx="1192.7" cy="663.62" r="4"/>
<circle cx="1221.78" cy="663.62" r="3.05"/>
<circle cx="1250.86" cy="663.62" r="3.8"/>
<circle cx="1279.94" cy="663.62" r="2.05"/>
<circle cx="1309.02" cy="663.62" r="1.8"/>
<circle cx="1338.1" cy="663.62" r="1.8"/>
<circle cx="1367.18" cy="663.62" r="1.8"/>
<circle cx="1396.26" cy="663.62" r="1.8"/>
</g>
<g fill="#4a6cba" stroke="#3e5a9c" stroke-width="0.55">
<circle cx="174.9" cy="696.88" r="6.65"/>
<circle cx="203.98" cy="696.88" r="1.85"/>
<circle cx="233.06" cy="696.88" r="5.85"/>
<circle cx="262.14" cy="696.88" r="2.7"/>
<circle cx="291.22" cy="696.88" r="4.95"/>
<circle cx="320.3" cy="696.88" r="5.25"/>
<circle cx="349.38" cy="696.88" r="4.4"/>
<circle cx="378.46" cy="696.88" r="3.55"/>
<circle cx="407.54" cy="696.88" r="2.7"/>
<circle cx="436.62" cy="696.88" r="2.7"/>
<circle cx="465.7" cy="696.88" r="1.55"/>
<circle cx="494.78" cy="696.88" r="1.55"/>
<circle cx="523.86" cy="696.88" r="1.55"/>
<circle cx="552.94" cy="696.88" r="1.55"/>
<circle cx="582.02" cy="696.88" r="1.55"/>
<circle cx="611.1" cy="696.88" r="2.4"/>
<circle cx="640.18" cy="696.88" r="1.85"/>
<circle cx="669.26" cy="696.88" r="3.85"/>
<circle cx="698.34" cy="696.88" r="3.85"/>
<circle cx="727.42" cy="696.88" r="6.1"/>
<circle cx="756.5" cy="696.88" r="2.4"/>
<circle cx="785.58" cy="696.88" r="1.55"/>
<circle cx="814.66" cy="696.88" r="1.85"/>
<circle cx="843.74" cy="696.88" r="2.4"/>
<circle cx="872.82" cy="696.88" r="7.8"/>
<circle cx="901.9" cy="696.88" r="6.65"/>
<circle cx="930.98" cy="696.88" r="6.1"/>
<circle cx="960.06" cy="696.88" r="1.55"/>
<circle cx="989.14" cy="696.88" r="1.55"/>
<circle cx="1018.22" cy="696.88" r="1.55"/>
<circle cx="1047.3" cy="696.88" r="1.55"/>
<circle cx="1076.38" cy="696.88" r="1.8"/>
<circle cx="1105.46" cy="696.88" r="1.55"/>
<circle cx="1134.54" cy="696.88" r="1.55"/>
<circle cx="1163.62" cy="696.88" r="4.25"/>
<circle cx="1192.7" cy="696.88" r="4"/>
<circle cx="1221.78" cy="696.88" r="3.3"/>
<circle cx="1250.86" cy="696.88" r="3.55"/>
<circle cx="1279.94" cy="696.88" r="1.8"/>
<circle cx="1309.02" cy="696.88" r="1.8"/>
<circle cx="1338.1" cy="696.88" r="1.8"/>
<circle cx="1367.18" cy="696.88" r="1.8"/>
<circle cx="1396.26" cy="696.88" r="1.8"/>
</g>
<g fill="#4a6cba" stroke="#3e5a9c" stroke-width="0.55">
<circle cx="174.9" cy="730.14" r="6.1"/>
<circle cx="203.98" cy="730.14" r="1.55"/>
<circle cx="233.06" cy="730.14" r="6.1"/>
<circle cx="262.14" cy="730.14" r="2.7"/>
<circle cx="291.22" cy="730.14" r="4.4"/>
<circle cx="320.3" cy="730.14" r="4.95"/>
<circle cx="349.38" cy="730.14" r="3.85"/>
<circle cx="378.46" cy="730.14" r="3.25"/>
<circle cx="407.54" cy="730.14" r="2.7"/>
<circle cx="436.62" cy="730.14" r="2.7"/>
<circle cx="465.7" cy="730.14" r="1.55"/>
<circle cx="494.78" cy="730.14" r="1.55"/>
<circle cx="523.86" cy="730.14" r="1.55"/>
<circle cx="552.94" cy="730.14" r="1.55"/>
<circle cx="582.02" cy="730.14" r="1.55"/>
<circle cx="611.1" cy="730.14" r="1.55"/>
<circle cx="640.18" cy="730.14" r="1.55"/>
<circle cx="669.26" cy="730.14" r="3.55"/>
<circle cx="698.34" cy="730.14" r="3.55"/>
<circle cx="727.42" cy="730.14" r="6.1"/>
<circle cx="756.5" cy="730.14" r="2.7"/>
<circle cx="785.58" cy="730.14" r="1.55"/>
<circle cx="814.66" cy="730.14" r="2.4"/>
<circle cx="843.74" cy="730.14" r="4.4"/>
<circle cx="872.82" cy="730.14" r="7.8"/>
<circle cx="901.9" cy="730.14" r="6.35"/>
<circle cx="930.98" cy="730.14" r="6.35"/>
<circle cx="960.06" cy="730.14" r="1.55"/>
<circle cx="989.14" cy="730.14" r="1.55"/>
<circle cx="1018.22" cy="730.14" r="1.55"/>
<circle cx="1047.3" cy="730.14" r="1.55"/>
<circle cx="1076.38" cy="730.14" r="1.55"/>
<circle cx="1105.46" cy="730.14" r="1.55"/>
<circle cx="1134.54" cy="730.14" r="1.55"/>
<circle cx="1163.62" cy="730.14" r="4.5"/>
<circle cx="1192.7" cy="730.14" r="4"/>
<circle cx="1221.78" cy="730.14" r="3.55"/>
<circle cx="1250.86" cy="730.14" r="3.55"/>
<circle cx="1279.94" cy="730.14" r="1.55"/>
<circle cx="1309.02" cy="730.14" r="1.8"/>
<circle cx="1338.1" cy="730.14" r="1.55"/>
<circle cx="1367.18" cy="730.14" r="1.55"/>
<circle cx="1396.26" cy="730.14" r="1.55"/>
</g>
<g fill="#2ca82a" stroke="#248d23" stroke-width="0.55">
<circle cx="174.9" cy="763.4" r="6.1"/>
<circle cx="203.98" cy="763.4" r="1.55"/>
<circle cx="233.06" cy="763.4" r="5.85"/>
<circle cx="262.14" cy="763.4" r="2.7"/>
<circle cx="291.22" cy="763.4" r="3.85"/>
<circle cx="320.3" cy="763.4" r="3.85"/>
<circle cx="349.38" cy="763.4" r="2.95"/>
<circle cx="378.46" cy="763.4" r="2.7"/>
<circle cx="407.54" cy="763.4" r="2.4"/>
<circle cx="436.62" cy="763.4" r="2.4"/>
<circle cx="465.7" cy="763.4" r="1.55"/>
<circle cx="494.78" cy="763.4" r="1.55"/>
<circle cx="523.86" cy="763.4" r="1.55"/>
<circle cx="552.94" cy="763.4" r="1.55"/>
<circle cx="582.02" cy="763.4" r="1.55"/>
<circle cx="611.1" cy="763.4" r="1.55"/>
<circle cx="640.18" cy="763.4" r="1.55"/>
<circle cx="669.26" cy="763.4" r="3.25"/>
<circle cx="698.34" cy="763.4" r="3.55"/>
<circle cx="727.42" cy="763.4" r="6.65"/>
<circle cx="756.5" cy="763.4" r="2.95"/>
<circle cx="785.58" cy="763.4" r="1.55"/>
<circle cx="814.66" cy="763.4" r="2.4"/>
<circle cx="843.74" cy="763.4" r="7.5"/>
<circle cx="872.82" cy="763.4" r="7.5"/>
<circle cx="901.9" cy="763.4" r="4.7"/>
<circle cx="930.98" cy="763.4" r="6.35"/>
<circle cx="960.06" cy="763.4" r="1.55"/>
<circle cx="989.14" cy="763.4" r="1.55"/>
<circle cx="1018.22" cy="763.4" r="1.55"/>
<circle cx="1047.3" cy="763.4" r="1.55"/>
<circle cx="1076.38" cy="763.4" r="1.55"/>
<circle cx="1105.46" cy="763.4" r="1.55"/>
<circle cx="1134.54" cy="763.4" r="1.8"/>
<circle cx="1163.62" cy="763.4" r="4"/>
<circle cx="1192.7" cy="763.4" r="3.55"/>
<circle cx="1221.78" cy="763.4" r="3.05"/>
<circle cx="1250.86" cy="763.4" r="3.05"/>
<circle cx="1279.94" cy="763.4" r="1.55"/>
<circle cx="1309.02" cy="763.4" r="1.55"/>
<circle cx="1338.1" cy="763.4" r="1.55"/>
<circle cx="1367.18" cy="763.4" r="1.55"/>
<circle cx="1396.26" cy="763.4" r="1.55"/>
</g>
<g fill="#2ca82a" stroke="#248d23" stroke-width="0.55">
<circle cx="174.9" cy="796.66" r="6.1"/>
<circle cx="203.98" cy="796.66" r="1.55"/>
<circle cx="233.06" cy="796.66" r="5.85"/>
<circle cx="262.14" cy="796.66" r="2.7"/>
<circle cx="291.22" cy="796.66" r="4.1"/>
<circle cx="320.3" cy="796.66" r="4.7"/>
<circle cx="349.38" cy="796.66" r="3.55"/>
<circle cx="378.46" cy="796.66" r="2.95"/>
<circle cx="407.54" cy="796.66" r="2.7"/>
<circle cx="436.62" cy="796.66" r="2.4"/>
<circle cx="465.7" cy="796.66" r="1.55"/>
<circle cx="494.78" cy="796.66" r="1.55"/>
<circle cx="523.86" cy="796.66" r="1.55"/>
<circle cx="552.94" cy="796.66" r="1.55"/>
<circle cx="582.02" cy="796.66" r="1.55"/>
<circle cx="611.1" cy="796.66" r="1.55"/>
<circle cx="640.18" cy="796.66" r="1.85"/>
<circle cx="669.26" cy="796.66" r="3.25"/>
<circle cx="698.34" cy="796.66" r="3.55"/>
<circle cx="727.42" cy="796.66" r="6.65"/>
<circle cx="756.5" cy="796.66" r="2.95"/>
<circle cx="785.58" cy="796.66" r="1.55"/>
<circle cx="814.66" cy="796.66" r="3.55"/>
<circle cx="843.74" cy="796.66" r="7.5"/>
<circle cx="872.82" cy="796.66" r="7.25"/>
<circle cx="901.9" cy="796.66" r="4.95"/>
<circle cx="930.98" cy="796.66" r="6.1"/>
<circle cx="960.06" cy="796.66" r="1.55"/>
<circle cx="989.14" cy="796.66" r="1.55"/>
<circle cx="1018.22" cy="796.66" r="1.85"/>
<circle cx="1047.3" cy="796.66" r="1.55"/>
<circle cx="1076.38" cy="796.66" r="1.55"/>
<circle cx="1105.46" cy="796.66" r="1.55"/>
<circle cx="1134.54" cy="796.66" r="2.05"/>
<circle cx="1163.62" cy="796.66" r="4.5"/>
<circle cx="1192.7" cy="796.66" r="4"/>
<circle cx="1221.78" cy="796.66" r="3.3"/>
<circle cx="1250.86" cy="796.66" r="3.3"/>
<circle cx="1279.94" cy="796.66" r="1.55"/>
<circle cx="1309.02" cy="796.66" r="1.55"/>
<circle cx="1338.1" cy="796.66" r="1.55"/>
<circle cx="1367.18" cy="796.66" r="1.55"/>
<circle cx="1396.26" cy="796.66" r="1.55"/>
</g>
<g fill="#c2dc10" stroke="#bcd50f" stroke-width="0.55">
<circle cx="174.9" cy="829.92" r="6.95"/>
<circle cx="203.98" cy="829.92" r="1.85"/>
<circle cx="233.06" cy="829.92" r="4.7"/>
<circle cx="262.14" cy="829.92" r="2.7"/>
<circle cx="291.22" cy="829.92" r="4.95"/>
<circle cx="320.3" cy="829.92" r="4.7"/>
<circle cx="349.38" cy="829.92" r="3.55"/>
<circle cx="378.46" cy="829.92" r="3.25"/>
<circle cx="407.54" cy="829.92" r="2.7"/>
<circle cx="436.62" cy="829.92" r="2.7"/>
<circle cx="465.7" cy="829.92" r="1.25"/>
<circle cx="494.78" cy="829.92" r="1.55"/>
<circle cx="523.86" cy="829.92" r="1.55"/>
<circle cx="552.94" cy="829.92" r="1.55"/>
<circle cx="582.02" cy="829.92" r="1.85"/>
<circle cx="611.1" cy="829.92" r="1.55"/>
<circle cx="640.18" cy="829.92" r="2.95"/>
<circle cx="669.26" cy="829.92" r="3.85"/>
<circle cx="698.34" cy="829.92" r="4.4"/>
<circle cx="727.42" cy="829.92" r="6.1"/>
<circle cx="756.5" cy="829.92" r="2.7"/>
<circle cx="785.58" cy="829.92" r="1.55"/>
<circle cx="814.66" cy="829.92" r="4.7"/>
<circle cx="843.74" cy="829.92" r="2.7"/>
<circle cx="872.82" cy="829.92" r="6.95"/>
<circle cx="901.9" cy="829.92" r="6.1"/>
<circle cx="930.98" cy="829.92" r="6.35"/>
<circle cx="960.06" cy="829.92" r="1.85"/>
<circle cx="989.14" cy="829.92" r="1.85"/>
<circle cx="1018.22" cy="829.92" r="1.85"/>
<circle cx="1047.3" cy="829.92" r="1.55"/>
<circle cx="1076.38" cy="829.92" r="1.8"/>
<circle cx="1105.46" cy="829.92" r="1.55"/>
<circle cx="1134.54" cy="829.92" r="1.8"/>
<circle cx="1163.62" cy="829.92" r="4.5"/>
<circle cx="1192.7" cy="829.92" r="4.5"/>
<circle cx="1221.78" cy="829.92" r="3.3"/>
<circle cx="1250.86" cy="829.92" r="3.55"/>
<circle cx="1279.94" cy="829.92" r="1.55"/>
<circle cx="1309.02" cy="829.92" r="1.55"/>
<circle cx="1338.1" cy="829.92" r="1.55"/>
<circle cx="1367.18" cy="829.92" r="1.8"/>
<circle cx="1396.26" cy="829.92" r="1.8"/>
</g>
<g fill="#f28005" stroke="#cb6b04" stroke-width="0.55">
<circle cx="174.9" cy="863.18" r="4.4"/>
<circle cx="203.98" cy="863.18" r="3.25"/>
<circle cx="233.06" cy="863.18" r="4.7"/>
<circle cx="262.14" cy="863.18" r="2.4"/>
<circle cx="291.22" cy="863.18" r="3.25"/>
<circle cx="320.3" cy="863.18" r="3.25"/>
<circle cx="349.38" cy="863.18" r="2.4"/>
<circle cx="378.46" cy="863.18" r="2.4"/>
<circle cx="407.54" cy="863.18" r="2.1"/>
<circle cx="436.62" cy="863.18" r="2.1"/>
<circle cx="465.7" cy="863.18" r="1.85"/>
<circle cx="494.78" cy="863.18" r="1.55"/>
<circle cx="523.86" cy="863.18" r="1.55"/>
<circle cx="552.94" cy="863.18" r="1.55"/>
<circle cx="582.02" cy="863.18" r="1.85"/>
<circle cx="611.1" cy="863.18" r="7.25"/>
<circle cx="640.18" cy="863.18" r="4.7"/>
<circle cx="669.26" cy="863.18" r="1.85"/>
<circle cx="698.34" cy="863.18" r="1.85"/>
<circle cx="727.42" cy="863.18" r="1.85"/>
<circle cx="756.5" cy="863.18" r="2.1"/>
<circle cx="785.58" cy="863.18" r="1.55"/>
<circle cx="814.66" cy="863.18" r="1.85"/>
<circle cx="843.74" cy="863.18" r="1.85"/>
<circle cx="872.82" cy="863.18" r="2.4"/>
<circle cx="901.9" cy="863.18" r="2.1"/>
<circle cx="930.98" cy="863.18" r="2.1"/>
<circle cx="960.06" cy="863.18" r="2.1"/>
<circle cx="989.14" cy="863.18" r="1.85"/>
<circle cx="1018.22" cy="863.18" r="2.7"/>
<circle cx="1047.3" cy="863.18" r="1.55"/>
<circle cx="1076.38" cy="863.18" r="3.3"/>
<circle cx="1105.46" cy="863.18" r="1.55"/>
<circle cx="1134.54" cy="863.18" r="1.8"/>
<circle cx="1163.62" cy="863.18" r="2.8"/>
<circle cx="1192.7" cy="863.18" r="2.3"/>
<circle cx="1221.78" cy="863.18" r="2.3"/>
<circle cx="1250.86" cy="863.18" r="2.05"/>
<circle cx="1279.94" cy="863.18" r="1.8"/>
<circle cx="1309.02" cy="863.18" r="11.65"/>
<circle cx="1338.1" cy="863.18" r="4.75"/>
<circle cx="1367.18" cy="863.18" r="5.25"/>
<circle cx="1396.26" cy="863.18" r="4"/>
</g>
<g fill="#f28005" stroke="#cb6b04" stroke-width="0.55">
<circle cx="174.9" cy="896.44" r="6.1"/>
<circle cx="203.98" cy="896.44" r="4.1"/>
<circle cx="233.06" cy="896.44" r="5.85"/>
<circle cx="262.14" cy="896.44" r="2.7"/>
<circle cx="291.22" cy="896.44" r="4.7"/>
<circle cx="320.3" cy="896.44" r="4.7"/>
<circle cx="349.38" cy="896.44" r="3.85"/>
<circle cx="378.46" cy="896.44" r="2.7"/>
<circle cx="407.54" cy="896.44" r="2.7"/>
<circle cx="436.62" cy="896.44" r="2.7"/>
<circle cx="465.7" cy="896.44" r="1.85"/>
<circle cx="494.78" cy="896.44" r="1.85"/>
<circle cx="523.86" cy="896.44" r="1.85"/>
<circle cx="552.94" cy="896.44" r="1.85"/>
<circle cx="582.02" cy="896.44" r="2.1"/>
<circle cx="611.1" cy="896.44" r="7.5"/>
<circle cx="640.18" cy="896.44" r="4.95"/>
<circle cx="669.26" cy="896.44" r="2.1"/>
<circle cx="698.34" cy="896.44" r="3.25"/>
<circle cx="727.42" cy="896.44" r="2.7"/>
<circle cx="756.5" cy="896.44" r="2.95"/>
<circle cx="785.58" cy="896.44" r="1.55"/>
<circle cx="814.66" cy="896.44" r="2.1"/>
<circle cx="843.74" cy="896.44" r="1.55"/>
<circle cx="872.82" cy="896.44" r="3.25"/>
<circle cx="901.9" cy="896.44" r="2.1"/>
<circle cx="930.98" cy="896.44" r="3.25"/>
<circle cx="960.06" cy="896.44" r="1.55"/>
<circle cx="989.14" cy="896.44" r="1.85"/>
<circle cx="1018.22" cy="896.44" r="3.25"/>
<circle cx="1047.3" cy="896.44" r="2.05"/>
<circle cx="1076.38" cy="896.44" r="4.5"/>
<circle cx="1105.46" cy="896.44" r="3.3"/>
<circle cx="1134.54" cy="896.44" r="2.3"/>
<circle cx="1163.62" cy="896.44" r="3.55"/>
<circle cx="1192.7" cy="896.44" r="3.05"/>
<circle cx="1221.78" cy="896.44" r="2.55"/>
<circle cx="1250.86" cy="896.44" r="2.8"/>
<circle cx="1279.94" cy="896.44" r="1.8"/>
<circle cx="1309.02" cy="896.44" r="7.95"/>
<circle cx="1338.1" cy="896.44" r="3.8"/>
<circle cx="1367.18" cy="896.44" r="4.25"/>
<circle cx="1396.26" cy="896.44" r="4.5"/>
</g>
<g fill="#f4c048" stroke="#ecba45" stroke-width="0.55">
<circle cx="174.9" cy="929.7" r="7.25"/>
<circle cx="203.98" cy="929.7" r="1.85"/>
<circle cx="233.06" cy="929.7" r="5.85"/>
<circle cx="262.14" cy="929.7" r="2.95"/>
<circle cx="291.22" cy="929.7" r="4.7"/>
<circle cx="320.3" cy="929.7" r="4.7"/>
<circle cx="349.38" cy="929.7" r="4.4"/>
<circle cx="378.46" cy="929.7" r="3.55"/>
<circle cx="407.54" cy="929.7" r="2.7"/>
<circle cx="436.62" cy="929.7" r="2.7"/>
<circle cx="465.7" cy="929.7" r="2.7"/>
<circle cx="494.78" cy="929.7" r="1.85"/>
<circle cx="523.86" cy="929.7" r="1.85"/>
<circle cx="552.94" cy="929.7" r="1.85"/>
<circle cx="582.02" cy="929.7" r="6.35"/>
<circle cx="611.1" cy="929.7" r="3.85"/>
<circle cx="640.18" cy="929.7" r="9.8"/>
<circle cx="669.26" cy="929.7" r="2.1"/>
<circle cx="698.34" cy="929.7" r="2.4"/>
<circle cx="727.42" cy="929.7" r="2.4"/>
<circle cx="756.5" cy="929.7" r="2.95"/>
<circle cx="785.58" cy="929.7" r="1.55"/>
<circle cx="814.66" cy="929.7" r="3.25"/>
<circle cx="843.74" cy="929.7" r="1.55"/>
<circle cx="872.82" cy="929.7" r="2.95"/>
<circle cx="901.9" cy="929.7" r="2.4"/>
<circle cx="930.98" cy="929.7" r="3.55"/>
<circle cx="960.06" cy="929.7" r="1.55"/>
<circle cx="989.14" cy="929.7" r="1.85"/>
<circle cx="1018.22" cy="929.7" r="3.25"/>
<circle cx="1047.3" cy="929.7" r="2.05"/>
<circle cx="1076.38" cy="929.7" r="4.5"/>
<circle cx="1105.46" cy="929.7" r="3.05"/>
<circle cx="1134.54" cy="929.7" r="2.3"/>
<circle cx="1163.62" cy="929.7" r="3.55"/>
<circle cx="1192.7" cy="929.7" r="3.05"/>
<circle cx="1221.78" cy="929.7" r="3.05"/>
<circle cx="1250.86" cy="929.7" r="2.8"/>
<circle cx="1279.94" cy="929.7" r="1.8"/>
<circle cx="1309.02" cy="929.7" r="2.55"/>
<circle cx="1338.1" cy="929.7" r="2.05"/>
<circle cx="1367.18" cy="929.7" r="2.05"/>
<circle cx="1396.26" cy="929.7" r="1.8"/>
</g>
<g fill="#d23220" stroke="#b02a1a" stroke-width="0.55">
<circle cx="174.9" cy="962.96" r="7.25"/>
<circle cx="203.98" cy="962.96" r="3.25"/>
<circle cx="233.06" cy="962.96" r="8.35"/>
<circle cx="262.14" cy="962.96" r="2.95"/>
<circle cx="291.22" cy="962.96" r="4.95"/>
<circle cx="320.3" cy="962.96" r="4.7"/>
<circle cx="349.38" cy="962.96" r="2.95"/>
<circle cx="378.46" cy="962.96" r="2.4"/>
<circle cx="407.54" cy="962.96" r="2.7"/>
<circle cx="436.62" cy="962.96" r="2.4"/>
<circle cx="465.7" cy="962.96" r="2.4"/>
<circle cx="494.78" cy="962.96" r="4.95"/>
<circle cx="523.86" cy="962.96" r="9.25"/>
<circle cx="552.94" cy="962.96" r="7.25"/>
<circle cx="582.02" cy="962.96" r="1.25"/>
<circle cx="611.1" cy="962.96" r="1.85"/>
<circle cx="640.18" cy="962.96" r="1.85"/>
<circle cx="669.26" cy="962.96" r="3.25"/>
<circle cx="698.34" cy="962.96" r="2.4"/>
<circle cx="727.42" cy="962.96" r="2.4"/>
<circle cx="756.5" cy="962.96" r="2.1"/>
<circle cx="785.58" cy="962.96" r="3.25"/>
<circle cx="814.66" cy="962.96" r="1.55"/>
<circle cx="843.74" cy="962.96" r="1.55"/>
<circle cx="872.82" cy="962.96" r="2.1"/>
<circle cx="901.9" cy="962.96" r="2.1"/>
<circle cx="930.98" cy="962.96" r="1.85"/>
<circle cx="960.06" cy="962.96" r="1.85"/>
<circle cx="989.14" cy="962.96" r="2.1"/>
<circle cx="1018.22" cy="962.96" r="2.4"/>
<circle cx="1047.3" cy="962.96" r="1.55"/>
<circle cx="1076.38" cy="962.96" r="1.55"/>
<circle cx="1105.46" cy="962.96" r="1.55"/>
<circle cx="1134.54" cy="962.96" r="1.55"/>
<circle cx="1163.62" cy="962.96" r="3.3"/>
<circle cx="1192.7" cy="962.96" r="3.3"/>
<circle cx="1221.78" cy="962.96" r="3.3"/>
<circle cx="1250.86" cy="962.96" r="3.3"/>
<circle cx="1279.94" cy="962.96" r="2.55"/>
<circle cx="1309.02" cy="962.96" r="1.55"/>
<circle cx="1338.1" cy="962.96" r="1.55"/>
<circle cx="1367.18" cy="962.96" r="1.55"/>
<circle cx="1396.26" cy="962.96" r="2.05"/>
</g>
<g fill="#fdb4bf" stroke="#f5aeb9" stroke-width="0.55">
<circle cx="174.9" cy="996.22" r="6.1"/>
<circle cx="203.98" cy="996.22" r="3.85"/>
<circle cx="233.06" cy="996.22" r="4.7"/>
<circle cx="262.14" cy="996.22" r="2.7"/>
<circle cx="291.22" cy="996.22" r="3.85"/>
<circle cx="320.3" cy="996.22" r="4.1"/>
<circle cx="349.38" cy="996.22" r="3.25"/>
<circle cx="378.46" cy="996.22" r="2.4"/>
<circle cx="407.54" cy="996.22" r="2.4"/>
<circle cx="436.62" cy="996.22" r="2.1"/>
<circle cx="465.7" cy="996.22" r="4.7"/>
<circle cx="494.78" cy="996.22" r="13.2"/>
<circle cx="523.86" cy="996.22" r="2.1"/>
<circle cx="552.94" cy="996.22" r="4.95"/>
<circle cx="582.02" cy="996.22" r="1.55"/>
<circle cx="611.1" cy="996.22" r="1.25"/>
<circle cx="640.18" cy="996.22" r="1.25"/>
<circle cx="669.26" cy="996.22" r="1.55"/>
<circle cx="698.34" cy="996.22" r="1.55"/>
<circle cx="727.42" cy="996.22" r="1.55"/>
<circle cx="756.5" cy="996.22" r="1.55"/>
<circle cx="785.58" cy="996.22" r="2.4"/>
<circle cx="814.66" cy="996.22" r="1.25"/>
<circle cx="843.74" cy="996.22" r="1.25"/>
<circle cx="872.82" cy="996.22" r="1.35"/>
<circle cx="901.9" cy="996.22" r="1.35"/>
<circle cx="930.98" cy="996.22" r="1.35"/>
<circle cx="960.06" cy="996.22" r="1.35"/>
<circle cx="989.14" cy="996.22" r="1.35"/>
<circle cx="1018.22" cy="996.22" r="1.35"/>
<circle cx="1047.3" cy="996.22" r="1.55"/>
<circle cx="1076.38" cy="996.22" r="1.55"/>
<circle cx="1105.46" cy="996.22" r="1.55"/>
<circle cx="1134.54" cy="996.22" r="1.55"/>
<circle cx="1163.62" cy="996.22" r="2.3"/>
<circle cx="1192.7" cy="996.22" r="2.55"/>
<circle cx="1221.78" cy="996.22" r="3.05"/>
<circle cx="1250.86" cy="996.22" r="2.8"/>
<circle cx="1279.94" cy="996.22" r="2.8"/>
<circle cx="1309.02" cy="996.22" r="1.55"/>
<circle cx="1338.1" cy="996.22" r="1.55"/>
<circle cx="1367.18" cy="996.22" r="1.55"/>
<circle cx="1396.26" cy="996.22" r="1.55"/>
</g>
<g fill="#fad8ef" stroke="#f2d1e7" stroke-width="0.55">
<circle cx="174.9" cy="1029.48" r="5.55"/>
<circle cx="203.98" cy="1029.48" r="2.7"/>
<circle cx="233.06" cy="1029.48" r="6.1"/>
<circle cx="262.14" cy="1029.48" r="2.1"/>
<circle cx="291.22" cy="1029.48" r="3.85"/>
<circle cx="320.3" cy="1029.48" r="4.7"/>
<circle cx="349.38" cy="1029.48" r="2.1"/>
<circle cx="378.46" cy="1029.48" r="1.55"/>
<circle cx="407.54" cy="1029.48" r="1.85"/>
<circle cx="436.62" cy="1029.48" r="1.85"/>
<circle cx="465.7" cy="1029.48" r="1.85"/>
<circle cx="494.78" cy="1029.48" r="1.85"/>
<circle cx="523.86" cy="1029.48" r="1.85"/>
<circle cx="552.94" cy="1029.48" r="1.85"/>
<circle cx="582.02" cy="1029.48" r="1.85"/>
<circle cx="611.1" cy="1029.48" r="1.55"/>
<circle cx="640.18" cy="1029.48" r="3.25"/>
<circle cx="669.26" cy="1029.48" r="1.55"/>
<circle cx="698.34" cy="1029.48" r="1.55"/>
<circle cx="727.42" cy="1029.48" r="1.55"/>
<circle cx="756.5" cy="1029.48" r="1.55"/>
<circle cx="785.58" cy="1029.48" r="1.55"/>
<circle cx="814.66" cy="1029.48" r="1.55"/>
<circle cx="843.74" cy="1029.48" r="1.55"/>
<circle cx="872.82" cy="1029.48" r="1.55"/>
<circle cx="901.9" cy="1029.48" r="1.55"/>
<circle cx="930.98" cy="1029.48" r="2.4"/>
<circle cx="960.06" cy="1029.48" r="1.55"/>
<circle cx="989.14" cy="1029.48" r="1.55"/>
<circle cx="1018.22" cy="1029.48" r="2.95"/>
<circle cx="1047.3" cy="1029.48" r="2.05"/>
<circle cx="1076.38" cy="1029.48" r="6.45"/>
<circle cx="1105.46" cy="1029.48" r="8.95"/>
<circle cx="1134.54" cy="1029.48" r="8.2"/>
<circle cx="1163.62" cy="1029.48" r="3.05"/>
<circle cx="1192.7" cy="1029.48" r="2.05"/>
<circle cx="1221.78" cy="1029.48" r="1.8"/>
<circle cx="1250.86" cy="1029.48" r="1.8"/>
<circle cx="1279.94" cy="1029.48" r="1.8"/>
<circle cx="1309.02" cy="1029.48" r="1.8"/>
<circle cx="1338.1" cy="1029.48" r="1.8"/>
<circle cx="1367.18" cy="1029.48" r="1.8"/>
<circle cx="1396.26" cy="1029.48" r="2.55"/>
</g>
<g fill="#8445ba" stroke="#6e399c" stroke-width="0.55">
<circle cx="174.9" cy="1062.74" r="5.25"/>
<circle cx="203.98" cy="1062.74" r="3.55"/>
<circle cx="233.06" cy="1062.74" r="6.1"/>
<circle cx="262.14" cy="1062.74" r="2.7"/>
<circle cx="291.22" cy="1062.74" r="3.85"/>
<circle cx="320.3" cy="1062.74" r="4.1"/>
<circle cx="349.38" cy="1062.74" r="2.1"/>
<circle cx="378.46" cy="1062.74" r="1.85"/>
<circle cx="407.54" cy="1062.74" r="2.4"/>
<circle cx="436.62" cy="1062.74" r="2.1"/>
<circle cx="465.7" cy="1062.74" r="1.85"/>
<circle cx="494.78" cy="1062.74" r="1.55"/>
<circle cx="523.86" cy="1062.74" r="1.55"/>
<circle cx="552.94" cy="1062.74" r="1.85"/>
<circle cx="582.02" cy="1062.74" r="1.85"/>
<circle cx="611.1" cy="1062.74" r="1.85"/>
<circle cx="640.18" cy="1062.74" r="2.4"/>
<circle cx="669.26" cy="1062.74" r="1.55"/>
<circle cx="698.34" cy="1062.74" r="1.85"/>
<circle cx="727.42" cy="1062.74" r="2.1"/>
<circle cx="756.5" cy="1062.74" r="2.1"/>
<circle cx="785.58" cy="1062.74" r="1.55"/>
<circle cx="814.66" cy="1062.74" r="2.1"/>
<circle cx="843.74" cy="1062.74" r="1.55"/>
<circle cx="872.82" cy="1062.74" r="1.55"/>
<circle cx="901.9" cy="1062.74" r="1.55"/>
<circle cx="930.98" cy="1062.74" r="2.4"/>
<circle cx="960.06" cy="1062.74" r="2.1"/>
<circle cx="989.14" cy="1062.74" r="2.1"/>
<circle cx="1018.22" cy="1062.74" r="4.1"/>
<circle cx="1047.3" cy="1062.74" r="3.55"/>
<circle cx="1076.38" cy="1062.74" r="5.75"/>
<circle cx="1105.46" cy="1062.74" r="8.95"/>
<circle cx="1134.54" cy="1062.74" r="10.15"/>
<circle cx="1163.62" cy="1062.74" r="3.05"/>
<circle cx="1192.7" cy="1062.74" r="2.3"/>
<circle cx="1221.78" cy="1062.74" r="2.05"/>
<circle cx="1250.86" cy="1062.74" r="2.05"/>
<circle cx="1279.94" cy="1062.74" r="1.55"/>
<circle cx="1309.02" cy="1062.74" r="2.3"/>
<circle cx="1338.1" cy="1062.74" r="1.55"/>
<circle cx="1367.18" cy="1062.74" r="1.8"/>
<circle cx="1396.26" cy="1062.74" r="3.55"/>
</g>
<g fill="#b41d6b" stroke="#971859" stroke-width="0.55">
<circle cx="174.9" cy="1096" r="7.5"/>
<circle cx="203.98" cy="1096" r="4.4"/>
<circle cx="233.06" cy="1096" r="6.95"/>
<circle cx="262.14" cy="1096" r="2.7"/>
<circle cx="291.22" cy="1096" r="4.95"/>
<circle cx="320.3" cy="1096" r="4.1"/>
<circle cx="349.38" cy="1096" r="2.4"/>
<circle cx="378.46" cy="1096" r="1.85"/>
<circle cx="407.54" cy="1096" r="2.4"/>
<circle cx="436.62" cy="1096" r="2.4"/>
<circle cx="465.7" cy="1096" r="2.1"/>
<circle cx="494.78" cy="1096" r="1.55"/>
<circle cx="523.86" cy="1096" r="1.55"/>
<circle cx="552.94" cy="1096" r="2.95"/>
<circle cx="582.02" cy="1096" r="1.55"/>
<circle cx="611.1" cy="1096" r="1.55"/>
<circle cx="640.18" cy="1096" r="1.85"/>
<circle cx="669.26" cy="1096" r="2.7"/>
<circle cx="698.34" cy="1096" r="3.25"/>
<circle cx="727.42" cy="1096" r="1.85"/>
<circle cx="756.5" cy="1096" r="2.7"/>
<circle cx="785.58" cy="1096" r="1.55"/>
<circle cx="814.66" cy="1096" r="1.55"/>
<circle cx="843.74" cy="1096" r="1.55"/>
<circle cx="872.82" cy="1096" r="1.85"/>
<circle cx="901.9" cy="1096" r="1.55"/>
<circle cx="930.98" cy="1096" r="1.55"/>
<circle cx="960.06" cy="1096" r="1.55"/>
<circle cx="989.14" cy="1096" r="10.1"/>
<circle cx="1018.22" cy="1096" r="6.35"/>
<circle cx="1047.3" cy="1096" r="3.55"/>
<circle cx="1076.38" cy="1096" r="3.55"/>
<circle cx="1105.46" cy="1096" r="3.55"/>
<circle cx="1134.54" cy="1096" r="1.8"/>
<circle cx="1163.62" cy="1096" r="2.3"/>
<circle cx="1192.7" cy="1096" r="2.05"/>
<circle cx="1221.78" cy="1096" r="2.05"/>
<circle cx="1250.86" cy="1096" r="2.05"/>
<circle cx="1279.94" cy="1096" r="1.8"/>
<circle cx="1309.02" cy="1096" r="2.3"/>
<circle cx="1338.1" cy="1096" r="1.8"/>
<circle cx="1367.18" cy="1096" r="2.05"/>
<circle cx="1396.26" cy="1096" r="3.8"/>
</g>
<g fill="#a966c9" stroke="#8d55a8" stroke-width="0.55">
<circle cx="174.9" cy="1129.26" r="7.25"/>
<circle cx="203.98" cy="1129.26" r="2.95"/>
<circle cx="233.06" cy="1129.26" r="7.8"/>
<circle cx="262.14" cy="1129.26" r="2.4"/>
<circle cx="291.22" cy="1129.26" r="4.7"/>
<circle cx="320.3" cy="1129.26" r="4.4"/>
<circle cx="349.38" cy="1129.26" r="2.95"/>
<circle cx="378.46" cy="1129.26" r="2.4"/>
<circle cx="407.54" cy="1129.26" r="2.7"/>
<circle cx="436.62" cy="1129.26" r="2.4"/>
<circle cx="465.7" cy="1129.26" r="1.85"/>
<circle cx="494.78" cy="1129.26" r="1.55"/>
<circle cx="523.86" cy="1129.26" r="1.55"/>
<circle cx="552.94" cy="1129.26" r="1.55"/>
<circle cx="582.02" cy="1129.26" r="1.55"/>
<circle cx="611.1" cy="1129.26" r="1.55"/>
<circle cx="640.18" cy="1129.26" r="1.85"/>
<circle cx="669.26" cy="1129.26" r="1.55"/>
<circle cx="698.34" cy="1129.26" r="1.55"/>
<circle cx="727.42" cy="1129.26" r="1.85"/>
<circle cx="756.5" cy="1129.26" r="1.55"/>
<circle cx="785.58" cy="1129.26" r="1.55"/>
<circle cx="814.66" cy="1129.26" r="1.55"/>
<circle cx="843.74" cy="1129.26" r="1.55"/>
<circle cx="872.82" cy="1129.26" r="1.55"/>
<circle cx="901.9" cy="1129.26" r="1.55"/>
<circle cx="930.98" cy="1129.26" r="1.55"/>
<circle cx="960.06" cy="1129.26" r="2.1"/>
<circle cx="989.14" cy="1129.26" r="2.95"/>
<circle cx="1018.22" cy="1129.26" r="8.65"/>
<circle cx="1047.3" cy="1129.26" r="6"/>
<circle cx="1076.38" cy="1129.26" r="5"/>
<circle cx="1105.46" cy="1129.26" r="6.95"/>
<circle cx="1134.54" cy="1129.26" r="2.05"/>
<circle cx="1163.62" cy="1129.26" r="2.3"/>
<circle cx="1192.7" cy="1129.26" r="2.3"/>
<circle cx="1221.78" cy="1129.26" r="2.05"/>
<circle cx="1250.86" cy="1129.26" r="1.8"/>
<circle cx="1279.94" cy="1129.26" r="1.8"/>
<circle cx="1309.02" cy="1129.26" r="2.05"/>
<circle cx="1338.1" cy="1129.26" r="1.55"/>
<circle cx="1367.18" cy="1129.26" r="1.8"/>
<circle cx="1396.26" cy="1129.26" r="2.55"/>
</g>
<text x="157.1" y="567.4" font-size="22.3" textLength="331" lengthAdjust="spacingAndGlyphs">Sub region (normalized by row)</text>
<text x="1089.5" y="564.7" font-size="23" textLength="32.6" lengthAdjust="spacingAndGlyphs">Pct</text>
<circle cx="1149.6" cy="557.2" r="8.1" fill="#000"/>
<text x="1181" y="565.4" font-size="23.5">20</text>
<circle cx="1240.1" cy="557.2" r="10.3" fill="#000"/>
<text x="1271" y="565.4" font-size="23.5">40</text>
<circle cx="1335.1" cy="557.2" r="12.2" fill="#000"/>
<text x="1366.3" y="565.4" font-size="23.5">60</text>
<path d="M1458.76 578.7V1147M1497.32 578.7V1147M1535.88 578.7V1147M1574.44 578.7V1147M1613 578.7V1147" stroke="#e2e2e8" stroke-width="1.25"/>
<rect x="1420.2" y="583.3" width="22.94" height="27.6" fill="#c9a39a"/>
<rect x="1420.2" y="616.56" width="70.56" height="27.6" fill="#8b5344"/>
<rect x="1420.2" y="649.82" width="92.54" height="27.6" fill="#8b5344"/>
<rect x="1420.2" y="683.08" width="101.8" height="27.6" fill="#4a6cba"/>
<rect x="1420.2" y="716.34" width="132.65" height="27.6" fill="#4a6cba"/>
<rect x="1420.2" y="749.6" width="187.59" height="27.6" fill="#2ca82a"/>
<rect x="1420.2" y="782.86" width="87.15" height="27.6" fill="#2ca82a"/>
<rect x="1420.2" y="816.12" width="42.8" height="27.6" fill="#c2dc10"/>
<rect x="1420.2" y="849.38" width="24.68" height="27.6" fill="#f28005"/>
<rect x="1420.2" y="882.64" width="33.74" height="27.6" fill="#f28005"/>
<rect x="1420.2" y="915.9" width="180.65" height="27.6" fill="#f4c048"/>
<rect x="1420.2" y="949.16" width="139.78" height="27.6" fill="#d23220"/>
<rect x="1420.2" y="982.42" width="171.78" height="27.6" fill="#fdb4bf"/>
<rect x="1420.2" y="1015.68" width="88.69" height="27.6" fill="#fad8ef"/>
<rect x="1420.2" y="1048.94" width="55.72" height="27.6" fill="#8445ba"/>
<rect x="1420.2" y="1082.2" width="70.76" height="27.6" fill="#b41d6b"/>
<rect x="1420.2" y="1115.46" width="70.76" height="27.6" fill="#a966c9"/>
<path d="M1420.2 576.2V1145M1420.2 578.7H1613M1458.76 578.7V576.2M1497.32 578.7V576.2M1535.88 578.7V576.2M1574.44 578.7V576.2M1613 578.7V576.2" stroke="#111" stroke-width="1.8" fill="none"/>
<text x="1420" y="566.9" font-size="23.6" text-anchor="middle">0</text>
<text x="1460.9" y="566.9" font-size="23.6" text-anchor="middle">20</text>
<text x="1499" y="566.9" font-size="23.6" text-anchor="middle">40</text>
<text x="1537" y="566.9" font-size="23.6" text-anchor="middle">60</text>
<text x="1575.2" y="566.9" font-size="23.6" text-anchor="middle">80</text>
<text x="1612.2" y="566.9" font-size="23.6" text-anchor="middle">100</text>
<text transform="translate(1438.3 544.6) scale(1.12 1)" font-size="21"># of nuclei (x 10<tspan dy="-7.2" font-size="12.5">3</tspan><tspan dy="7.2">)</tspan></text>
<path d="M174.9 1239.1V2510M203.98 1239.1V2510M233.06 1239.1V2510M262.14 1239.1V2510M291.22 1239.1V2510M320.3 1239.1V2510M349.38 1239.1V2510M378.46 1239.1V2510M407.54 1239.1V2510M436.62 1239.1V2510M465.7 1239.1V2510M494.78 1239.1V2510M523.86 1239.1V2510M552.94 1239.1V2510M582.02 1239.1V2510M611.1 1239.1V2510M640.18 1239.1V2510M669.26 1239.1V2510M698.34 1239.1V2510M727.42 1239.1V2510M756.5 1239.1V2510M785.58 1239.1V2510M814.66 1239.1V2510M843.74 1239.1V2510M872.82 1239.1V2510M901.9 1239.1V2510M930.98 1239.1V2510M960.06 1239.1V2510M989.14 1239.1V2510M1018.22 1239.1V2510M1047.3 1239.1V2510M1076.38 1239.1V2510M1105.46 1239.1V2510M1134.54 1239.1V2510M1163.62 1239.1V2510M1192.7 1239.1V2510M1221.78 1239.1V2510M1250.86 1239.1V2510M1279.94 1239.1V2510M1309.02 1239.1V2510M1338.1 1239.1V2510M1367.18 1239.1V2510M1396.26 1239.1V2510M165.5 1249.4H1405.6M165.5 1277.8H1405.6M165.5 1306.2H1405.6M165.5 1334.6H1405.6M165.5 1363H1405.6M165.5 1391.4H1405.6M165.5 1419.8H1405.6M165.5 1448.2H1405.6M165.5 1476.6H1405.6M165.5 1505H1405.6M165.5 1533.4H1405.6M165.5 1561.8H1405.6M165.5 1590.2H1405.6M165.5 1618.6H1405.6M165.5 1647H1405.6M165.5 1675.4H1405.6M165.5 1703.8H1405.6M165.5 1732.2H1405.6M165.5 1760.6H1405.6M165.5 1789H1405.6M165.5 1817.4H1405.6M165.5 1845.8H1405.6M165.5 1874.2H1405.6M165.5 1902.6H1405.6M165.5 1931H1405.6M165.5 1959.4H1405.6M165.5 1987.8H1405.6M165.5 2016.2H1405.6M165.5 2044.6H1405.6M165.5 2073H1405.6M165.5 2101.4H1405.6M165.5 2129.8H1405.6M165.5 2158.2H1405.6M165.5 2186.6H1405.6M165.5 2215H1405.6M165.5 2243.4H1405.6M165.5 2271.8H1405.6M165.5 2300.2H1405.6M165.5 2328.6H1405.6M165.5 2357H1405.6M165.5 2385.4H1405.6M165.5 2413.8H1405.6M165.5 2442.2H1405.6M165.5 2470.6H1405.6M165.5 2499H1405.6" stroke="#efeff3" stroke-width="1.25" fill="none"/>
<rect x="157.5" y="1233.1" width="1256.1" height="1282.9" fill="none" stroke="#484848" stroke-width="1.6"/>
<text x="139.2" y="1257.3" font-size="23.3" text-anchor="end">ORB</text>
<text x="139.2" y="1285.7" font-size="23.3" text-anchor="end">LIMBIC−1</text>
<text x="139.2" y="1314.1" font-size="23.3" text-anchor="end">LIMBIC−2</text>
<text x="139.2" y="1342.5" font-size="23.3" text-anchor="end">LIMBIC−3</text>
<text x="139.2" y="1370.9" font-size="23.3" text-anchor="end">LIMBIC−4</text>
<text x="139.2" y="1399.3" font-size="23.3" text-anchor="end">LIMBIC−5</text>
<text x="139.2" y="1427.7" font-size="23.3" text-anchor="end">MOs−1</text>
<text x="139.2" y="1456.1" font-size="23.3" text-anchor="end">MOs−2</text>
<text x="139.2" y="1484.5" font-size="23.3" text-anchor="end">MOs−3</text>
<text x="139.2" y="1512.9" font-size="23.3" text-anchor="end">MOp−1</text>
<text x="139.2" y="1541.3" font-size="23.3" text-anchor="end">MOp−2</text>
<text x="139.2" y="1569.7" font-size="23.3" text-anchor="end">MOp−3</text>
<text x="139.2" y="1598.1" font-size="23.3" text-anchor="end">MOp−4</text>
<text x="139.2" y="1626.5" font-size="23.3" text-anchor="end">SSp−1</text>
<text x="139.2" y="1654.9" font-size="23.3" text-anchor="end">SSp−2</text>
<text x="139.2" y="1683.3" font-size="23.3" text-anchor="end">SSp−3</text>
<text x="139.2" y="1711.7" font-size="23.3" text-anchor="end">SSp−4</text>
<text x="139.2" y="1740.1" font-size="23.3" text-anchor="end">SSp−5</text>
<text x="139.2" y="1768.5" font-size="23.3" text-anchor="end">SSs−1</text>
<text x="139.2" y="1796.9" font-size="23.3" text-anchor="end">SSs−2</text>
<text x="139.2" y="1825.3" font-size="23.3" text-anchor="end">AI</text>
<text x="139.2" y="1853.7" font-size="23.3" text-anchor="end">MOB</text>
<text x="139.2" y="1882.1" font-size="23.3" text-anchor="end">AON</text>
<text x="139.2" y="1910.5" font-size="23.3" text-anchor="end">PIR−1</text>
<text x="139.2" y="1938.9" font-size="23.3" text-anchor="end">PIR−2</text>
<text x="139.2" y="1967.3" font-size="23.3" text-anchor="end">PIR−3</text>
<text x="139.2" y="1995.7" font-size="23.3" text-anchor="end">PIR−4</text>
<text x="139.2" y="2024.1" font-size="23.3" text-anchor="end">PIR−5</text>
<text x="139.2" y="2052.5" font-size="23.3" text-anchor="end">CA−1</text>
<text x="139.2" y="2080.9" font-size="23.3" text-anchor="end">CA−2</text>
<text x="139.2" y="2109.3" font-size="23.3" text-anchor="end">CA−3</text>
<text x="139.2" y="2137.7" font-size="23.3" text-anchor="end">CA−4</text>
<text x="139.2" y="2166.1" font-size="23.3" text-anchor="end">DG−1</text>
<text x="139.2" y="2194.5" font-size="23.3" text-anchor="end">DG−2</text>
<text x="139.2" y="2222.9" font-size="23.3" text-anchor="end">DG−3</text>
<text x="139.2" y="2251.3" font-size="23.3" text-anchor="end">DG−4</text>
<text x="139.2" y="2279.7" font-size="23.3" text-anchor="end">ACB−1</text>
<text x="139.2" y="2308.1" font-size="23.3" text-anchor="end">ACB−2</text>
<text x="139.2" y="2336.5" font-size="23.3" text-anchor="end">ACB−3</text>
<text x="139.2" y="2364.9" font-size="23.3" text-anchor="end">CP−1</text>
<text x="139.2" y="2393.3" font-size="23.3" text-anchor="end">CP−2</text>
<text x="139.2" y="2421.7" font-size="23.3" text-anchor="end">LSX−1</text>
<text x="139.2" y="2450.1" font-size="23.3" text-anchor="end">LSX−2</text>
<text x="139.2" y="2478.5" font-size="23.3" text-anchor="end">PAL−1</text>
<text x="139.2" y="2506.9" font-size="23.3" text-anchor="end">PAL−2</text>
<path d="M149.9 1249.4H157.5M149.9 1277.8H157.5M149.9 1306.2H157.5M149.9 1334.6H157.5M149.9 1363H157.5M149.9 1391.4H157.5M149.9 1419.8H157.5M149.9 1448.2H157.5M149.9 1476.6H157.5M149.9 1505H157.5M149.9 1533.4H157.5M149.9 1561.8H157.5M149.9 1590.2H157.5M149.9 1618.6H157.5M149.9 1647H157.5M149.9 1675.4H157.5M149.9 1703.8H157.5M149.9 1732.2H157.5M149.9 1760.6H157.5M149.9 1789H157.5M149.9 1817.4H157.5M149.9 1845.8H157.5M149.9 1874.2H157.5M149.9 1902.6H157.5M149.9 1931H157.5M149.9 1959.4H157.5M149.9 1987.8H157.5M149.9 2016.2H157.5M149.9 2044.6H157.5M149.9 2073H157.5M149.9 2101.4H157.5M149.9 2129.8H157.5M149.9 2158.2H157.5M149.9 2186.6H157.5M149.9 2215H157.5M149.9 2243.4H157.5M149.9 2271.8H157.5M149.9 2300.2H157.5M149.9 2328.6H157.5M149.9 2357H157.5M149.9 2385.4H157.5M149.9 2413.8H157.5M149.9 2442.2H157.5M149.9 2470.6H157.5M149.9 2499H157.5" stroke="#111" stroke-width="1.6"/>
<g fill="#c9a39a" stroke="#a88881" stroke-width="0.55">
<circle cx="174.9" cy="1249.4" r="7.5"/>
<circle cx="203.98" cy="1249.4" r="1.85"/>
<circle cx="233.06" cy="1249.4" r="4.7"/>
<circle cx="262.14" cy="1249.4" r="2.7"/>
<circle cx="291.22" cy="1249.4" r="4.95"/>
<circle cx="320.3" cy="1249.4" r="4.95"/>
<circle cx="349.38" cy="1249.4" r="3.85"/>
<circle cx="378.46" cy="1249.4" r="2.95"/>
<circle cx="407.54" cy="1249.4" r="2.95"/>
<circle cx="436.62" cy="1249.4" r="2.7"/>
<circle cx="465.7" cy="1249.4" r="1.85"/>
<circle cx="494.78" cy="1249.4" r="1.85"/>
<circle cx="523.86" cy="1249.4" r="1.85"/>
<circle cx="552.94" cy="1249.4" r="1.85"/>
<circle cx="582.02" cy="1249.4" r="1.85"/>
<circle cx="611.1" cy="1249.4" r="1.85"/>
<circle cx="640.18" cy="1249.4" r="2.1"/>
<circle cx="669.26" cy="1249.4" r="3.85"/>
<circle cx="698.34" cy="1249.4" r="4.7"/>
<circle cx="727.42" cy="1249.4" r="4.1"/>
<circle cx="756.5" cy="1249.4" r="1.85"/>
<circle cx="785.58" cy="1249.4" r="1.85"/>
<circle cx="814.66" cy="1249.4" r="2.4"/>
<circle cx="843.74" cy="1249.4" r="2.95"/>
<circle cx="872.82" cy="1249.4" r="10.35"/>
<circle cx="901.9" cy="1249.4" r="9.5"/>
<circle cx="930.98" cy="1249.4" r="6.1"/>
<circle cx="960.06" cy="1249.4" r="1.85"/>
<circle cx="989.14" cy="1249.4" r="1.85"/>
<circle cx="1018.22" cy="1249.4" r="1.85"/>
<circle cx="1047.3" cy="1249.4" r="1.8"/>
<circle cx="1076.38" cy="1249.4" r="2.3"/>
<circle cx="1105.46" cy="1249.4" r="1.8"/>
<circle cx="1134.54" cy="1249.4" r="1.8"/>
<circle cx="1163.62" cy="1249.4" r="5"/>
<circle cx="1192.7" cy="1249.4" r="4.25"/>
<circle cx="1221.78" cy="1249.4" r="4.25"/>
<circle cx="1250.86" cy="1249.4" r="4.5"/>
<circle cx="1279.94" cy="1249.4" r="2.05"/>
<circle cx="1309.02" cy="1249.4" r="2.8"/>
<circle cx="1338.1" cy="1249.4" r="1.8"/>
<circle cx="1367.18" cy="1249.4" r="2.55"/>
<circle cx="1396.26" cy="1249.4" r="2.05"/>
</g>
<g fill="#f8d47c" stroke="#f0cd78" stroke-width="0.55">
<circle cx="174.9" cy="1277.8" r="7.5"/>
<circle cx="203.98" cy="1277.8" r="2.1"/>
<circle cx="233.06" cy="1277.8" r="4.95"/>
<circle cx="262.14" cy="1277.8" r="2.95"/>
<circle cx="291.22" cy="1277.8" r="5.25"/>
<circle cx="320.3" cy="1277.8" r="5.55"/>
<circle cx="349.38" cy="1277.8" r="4.1"/>
<circle cx="378.46" cy="1277.8" r="2.95"/>
<circle cx="407.54" cy="1277.8" r="2.95"/>
<circle cx="436.62" cy="1277.8" r="2.7"/>
<circle cx="465.7" cy="1277.8" r="1.55"/>
<circle cx="494.78" cy="1277.8" r="1.55"/>
<circle cx="523.86" cy="1277.8" r="1.55"/>
<circle cx="552.94" cy="1277.8" r="1.55"/>
<circle cx="582.02" cy="1277.8" r="1.55"/>
<circle cx="611.1" cy="1277.8" r="1.55"/>
<circle cx="640.18" cy="1277.8" r="1.55"/>
<circle cx="669.26" cy="1277.8" r="4.7"/>
<circle cx="698.34" cy="1277.8" r="5.85"/>
<circle cx="727.42" cy="1277.8" r="6.95"/>
<circle cx="756.5" cy="1277.8" r="2.1"/>
<circle cx="785.58" cy="1277.8" r="1.55"/>
<circle cx="814.66" cy="1277.8" r="1.55"/>
<circle cx="843.74" cy="1277.8" r="1.55"/>
<circle cx="872.82" cy="1277.8" r="8.1"/>
<circle cx="901.9" cy="1277.8" r="7.25"/>
<circle cx="930.98" cy="1277.8" r="7.5"/>
<circle cx="960.06" cy="1277.8" r="1.55"/>
<circle cx="989.14" cy="1277.8" r="1.55"/>
<circle cx="1018.22" cy="1277.8" r="1.85"/>
<circle cx="1047.3" cy="1277.8" r="1.55"/>
<circle cx="1076.38" cy="1277.8" r="1.55"/>
<circle cx="1105.46" cy="1277.8" r="1.55"/>
<circle cx="1134.54" cy="1277.8" r="1.55"/>
<circle cx="1163.62" cy="1277.8" r="4.75"/>
<circle cx="1192.7" cy="1277.8" r="4.5"/>
<circle cx="1221.78" cy="1277.8" r="3.55"/>
<circle cx="1250.86" cy="1277.8" r="3.8"/>
<circle cx="1279.94" cy="1277.8" r="1.55"/>
<circle cx="1309.02" cy="1277.8" r="1.55"/>
<circle cx="1338.1" cy="1277.8" r="1.55"/>
<circle cx="1367.18" cy="1277.8" r="1.8"/>
<circle cx="1396.26" cy="1277.8" r="1.55"/>
</g>
<g fill="#a67760" stroke="#8b6350" stroke-width="0.55">
<circle cx="174.9" cy="1306.2" r="7.25"/>
<circle cx="203.98" cy="1306.2" r="2.4"/>
<circle cx="233.06" cy="1306.2" r="5.55"/>
<circle cx="262.14" cy="1306.2" r="2.7"/>
<circle cx="291.22" cy="1306.2" r="5.25"/>
<circle cx="320.3" cy="1306.2" r="4.95"/>
<circle cx="349.38" cy="1306.2" r="4.1"/>
<circle cx="378.46" cy="1306.2" r="2.95"/>
<circle cx="407.54" cy="1306.2" r="3.25"/>
<circle cx="436.62" cy="1306.2" r="3.25"/>
<circle cx="465.7" cy="1306.2" r="1.85"/>
<circle cx="494.78" cy="1306.2" r="1.85"/>
<circle cx="523.86" cy="1306.2" r="1.85"/>
<circle cx="552.94" cy="1306.2" r="2.4"/>
<circle cx="582.02" cy="1306.2" r="1.85"/>
<circle cx="611.1" cy="1306.2" r="1.85"/>
<circle cx="640.18" cy="1306.2" r="1.85"/>
<circle cx="669.26" cy="1306.2" r="4.95"/>
<circle cx="698.34" cy="1306.2" r="6.35"/>
<circle cx="727.42" cy="1306.2" r="7.8"/>
<circle cx="756.5" cy="1306.2" r="3.55"/>
<circle cx="785.58" cy="1306.2" r="1.85"/>
<circle cx="814.66" cy="1306.2" r="1.85"/>
<circle cx="843.74" cy="1306.2" r="2.1"/>
<circle cx="872.82" cy="1306.2" r="8.1"/>
<circle cx="901.9" cy="1306.2" r="6.95"/>
<circle cx="930.98" cy="1306.2" r="7.8"/>
<circle cx="960.06" cy="1306.2" r="1.85"/>
<circle cx="989.14" cy="1306.2" r="1.85"/>
<circle cx="1018.22" cy="1306.2" r="2.1"/>
<circle cx="1047.3" cy="1306.2" r="1.8"/>
<circle cx="1076.38" cy="1306.2" r="2.05"/>
<circle cx="1105.46" cy="1306.2" r="1.8"/>
<circle cx="1134.54" cy="1306.2" r="1.8"/>
<circle cx="1163.62" cy="1306.2" r="5"/>
<circle cx="1192.7" cy="1306.2" r="4.5"/>
<circle cx="1221.78" cy="1306.2" r="3.55"/>
<circle cx="1250.86" cy="1306.2" r="4.5"/>
<circle cx="1279.94" cy="1306.2" r="2.05"/>
<circle cx="1309.02" cy="1306.2" r="1.8"/>
<circle cx="1338.1" cy="1306.2" r="1.8"/>
<circle cx="1367.18" cy="1306.2" r="2.3"/>
<circle cx="1396.26" cy="1306.2" r="2.05"/>
</g>
<g fill="#8a5142" stroke="#734437" stroke-width="0.55">
<circle cx="174.9" cy="1334.6" r="7.25"/>
<circle cx="203.98" cy="1334.6" r="2.4"/>
<circle cx="233.06" cy="1334.6" r="6.1"/>
<circle cx="262.14" cy="1334.6" r="2.7"/>
<circle cx="291.22" cy="1334.6" r="5.55"/>
<circle cx="320.3" cy="1334.6" r="5.85"/>
<circle cx="349.38" cy="1334.6" r="4.1"/>
<circle cx="378.46" cy="1334.6" r="2.7"/>
<circle cx="407.54" cy="1334.6" r="2.95"/>
<circle cx="436.62" cy="1334.6" r="2.95"/>
<circle cx="465.7" cy="1334.6" r="1.85"/>
<circle cx="494.78" cy="1334.6" r="1.85"/>
<circle cx="523.86" cy="1334.6" r="2.4"/>
<circle cx="552.94" cy="1334.6" r="3.25"/>
<circle cx="582.02" cy="1334.6" r="1.85"/>
<circle cx="611.1" cy="1334.6" r="1.85"/>
<circle cx="640.18" cy="1334.6" r="1.85"/>
<circle cx="669.26" cy="1334.6" r="4.95"/>
<circle cx="698.34" cy="1334.6" r="6.35"/>
<circle cx="727.42" cy="1334.6" r="7.8"/>
<circle cx="756.5" cy="1334.6" r="3.85"/>
<circle cx="785.58" cy="1334.6" r="1.85"/>
<circle cx="814.66" cy="1334.6" r="1.85"/>
<circle cx="843.74" cy="1334.6" r="2.1"/>
<circle cx="872.82" cy="1334.6" r="8.1"/>
<circle cx="901.9" cy="1334.6" r="7.25"/>
<circle cx="930.98" cy="1334.6" r="8.1"/>
<circle cx="960.06" cy="1334.6" r="1.85"/>
<circle cx="989.14" cy="1334.6" r="1.85"/>
<circle cx="1018.22" cy="1334.6" r="1.85"/>
<circle cx="1047.3" cy="1334.6" r="1.8"/>
<circle cx="1076.38" cy="1334.6" r="1.8"/>
<circle cx="1105.46" cy="1334.6" r="1.8"/>
<circle cx="1134.54" cy="1334.6" r="1.8"/>
<circle cx="1163.62" cy="1334.6" r="5"/>
<circle cx="1192.7" cy="1334.6" r="4.5"/>
<circle cx="1221.78" cy="1334.6" r="3.55"/>
<circle cx="1250.86" cy="1334.6" r="4.25"/>
<circle cx="1279.94" cy="1334.6" r="2.05"/>
<circle cx="1309.02" cy="1334.6" r="1.8"/>
<circle cx="1338.1" cy="1334.6" r="1.8"/>
<circle cx="1367.18" cy="1334.6" r="2.3"/>
<circle cx="1396.26" cy="1334.6" r="2.05"/>
</g>
<g fill="#5c3a2c" stroke="#4d3024" stroke-width="0.55">
<circle cx="174.9" cy="1363" r="8.65"/>
<circle cx="203.98" cy="1363" r="2.7"/>
<circle cx="233.06" cy="1363" r="6.35"/>
<circle cx="262.14" cy="1363" r="2.7"/>
<circle cx="291.22" cy="1363" r="5.85"/>
<circle cx="320.3" cy="1363" r="5.85"/>
<circle cx="349.38" cy="1363" r="5.25"/>
<circle cx="378.46" cy="1363" r="2.7"/>
<circle cx="407.54" cy="1363" r="2.95"/>
<circle cx="436.62" cy="1363" r="2.95"/>
<circle cx="465.7" cy="1363" r="1.85"/>
<circle cx="494.78" cy="1363" r="1.85"/>
<circle cx="523.86" cy="1363" r="2.1"/>
<circle cx="552.94" cy="1363" r="3.25"/>
<circle cx="582.02" cy="1363" r="1.85"/>
<circle cx="611.1" cy="1363" r="1.85"/>
<circle cx="640.18" cy="1363" r="1.85"/>
<circle cx="669.26" cy="1363" r="4.1"/>
<circle cx="698.34" cy="1363" r="5.55"/>
<circle cx="727.42" cy="1363" r="7.5"/>
<circle cx="756.5" cy="1363" r="3.25"/>
<circle cx="785.58" cy="1363" r="1.85"/>
<circle cx="814.66" cy="1363" r="1.85"/>
<circle cx="843.74" cy="1363" r="2.4"/>
<circle cx="872.82" cy="1363" r="8.1"/>
<circle cx="901.9" cy="1363" r="7.25"/>
<circle cx="930.98" cy="1363" r="7.25"/>
<circle cx="960.06" cy="1363" r="1.85"/>
<circle cx="989.14" cy="1363" r="1.85"/>
<circle cx="1018.22" cy="1363" r="1.85"/>
<circle cx="1047.3" cy="1363" r="2.05"/>
<circle cx="1076.38" cy="1363" r="2.05"/>
<circle cx="1105.46" cy="1363" r="1.8"/>
<circle cx="1134.54" cy="1363" r="1.8"/>
<circle cx="1163.62" cy="1363" r="4.75"/>
<circle cx="1192.7" cy="1363" r="4"/>
<circle cx="1221.78" cy="1363" r="3.3"/>
<circle cx="1250.86" cy="1363" r="3.8"/>
<circle cx="1279.94" cy="1363" r="2.05"/>
<circle cx="1309.02" cy="1363" r="2.05"/>
<circle cx="1338.1" cy="1363" r="1.8"/>
<circle cx="1367.18" cy="1363" r="2.3"/>
<circle cx="1396.26" cy="1363" r="2.05"/>
</g>
<g fill="#1e1512" stroke="#19110f" stroke-width="0.55">
<circle cx="174.9" cy="1391.4" r="8.35"/>
<circle cx="203.98" cy="1391.4" r="2.4"/>
<circle cx="233.06" cy="1391.4" r="6.95"/>
<circle cx="262.14" cy="1391.4" r="2.95"/>
<circle cx="291.22" cy="1391.4" r="5.85"/>
<circle cx="320.3" cy="1391.4" r="5.85"/>
<circle cx="349.38" cy="1391.4" r="4.95"/>
<circle cx="378.46" cy="1391.4" r="2.7"/>
<circle cx="407.54" cy="1391.4" r="2.95"/>
<circle cx="436.62" cy="1391.4" r="2.95"/>
<circle cx="465.7" cy="1391.4" r="1.85"/>
<circle cx="494.78" cy="1391.4" r="1.85"/>
<circle cx="523.86" cy="1391.4" r="1.85"/>
<circle cx="552.94" cy="1391.4" r="3.25"/>
<circle cx="582.02" cy="1391.4" r="1.85"/>
<circle cx="611.1" cy="1391.4" r="1.85"/>
<circle cx="640.18" cy="1391.4" r="1.85"/>
<circle cx="669.26" cy="1391.4" r="4.1"/>
<circle cx="698.34" cy="1391.4" r="5.25"/>
<circle cx="727.42" cy="1391.4" r="7.25"/>
<circle cx="756.5" cy="1391.4" r="3.25"/>
<circle cx="785.58" cy="1391.4" r="2.95"/>
<circle cx="814.66" cy="1391.4" r="1.85"/>
<circle cx="843.74" cy="1391.4" r="2.1"/>
<circle cx="872.82" cy="1391.4" r="8.35"/>
<circle cx="901.9" cy="1391.4" r="7.5"/>
<circle cx="930.98" cy="1391.4" r="6.65"/>
<circle cx="960.06" cy="1391.4" r="1.85"/>
<circle cx="989.14" cy="1391.4" r="1.85"/>
<circle cx="1018.22" cy="1391.4" r="1.85"/>
<circle cx="1047.3" cy="1391.4" r="2.05"/>
<circle cx="1076.38" cy="1391.4" r="1.8"/>
<circle cx="1105.46" cy="1391.4" r="1.8"/>
<circle cx="1134.54" cy="1391.4" r="2.05"/>
<circle cx="1163.62" cy="1391.4" r="4.75"/>
<circle cx="1192.7" cy="1391.4" r="4.25"/>
<circle cx="1221.78" cy="1391.4" r="3.8"/>
<circle cx="1250.86" cy="1391.4" r="4.25"/>
<circle cx="1279.94" cy="1391.4" r="2.05"/>
<circle cx="1309.02" cy="1391.4" r="1.8"/>
<circle cx="1338.1" cy="1391.4" r="1.8"/>
<circle cx="1367.18" cy="1391.4" r="2.3"/>
<circle cx="1396.26" cy="1391.4" r="2.05"/>
</g>
<g fill="#c3d4f0" stroke="#bdcde8" stroke-width="0.55">
<circle cx="174.9" cy="1419.8" r="8.35"/>
<circle cx="203.98" cy="1419.8" r="2.1"/>
<circle cx="233.06" cy="1419.8" r="4.7"/>
<circle cx="262.14" cy="1419.8" r="2.95"/>
<circle cx="291.22" cy="1419.8" r="5.85"/>
<circle cx="320.3" cy="1419.8" r="5.55"/>
<circle cx="349.38" cy="1419.8" r="5.85"/>
<circle cx="378.46" cy="1419.8" r="4.95"/>
<circle cx="407.54" cy="1419.8" r="2.7"/>
<circle cx="436.62" cy="1419.8" r="2.7"/>
<circle cx="465.7" cy="1419.8" r="1.55"/>
<circle cx="494.78" cy="1419.8" r="1.55"/>
<circle cx="523.86" cy="1419.8" r="1.55"/>
<circle cx="552.94" cy="1419.8" r="1.55"/>
<circle cx="582.02" cy="1419.8" r="1.55"/>
<circle cx="611.1" cy="1419.8" r="2.95"/>
<circle cx="640.18" cy="1419.8" r="1.55"/>
<circle cx="669.26" cy="1419.8" r="3.55"/>
<circle cx="698.34" cy="1419.8" r="3.55"/>
<circle cx="727.42" cy="1419.8" r="2.7"/>
<circle cx="756.5" cy="1419.8" r="1.55"/>
<circle cx="785.58" cy="1419.8" r="1.55"/>
<circle cx="814.66" cy="1419.8" r="1.55"/>
<circle cx="843.74" cy="1419.8" r="2.4"/>
<circle cx="872.82" cy="1419.8" r="10.85"/>
<circle cx="901.9" cy="1419.8" r="8.65"/>
<circle cx="930.98" cy="1419.8" r="4.7"/>
<circle cx="960.06" cy="1419.8" r="1.55"/>
<circle cx="989.14" cy="1419.8" r="1.55"/>
<circle cx="1018.22" cy="1419.8" r="1.55"/>
<circle cx="1047.3" cy="1419.8" r="1.55"/>
<circle cx="1076.38" cy="1419.8" r="1.55"/>
<circle cx="1105.46" cy="1419.8" r="1.55"/>
<circle cx="1134.54" cy="1419.8" r="1.55"/>
<circle cx="1163.62" cy="1419.8" r="4.25"/>
<circle cx="1192.7" cy="1419.8" r="4"/>
<circle cx="1221.78" cy="1419.8" r="4"/>
<circle cx="1250.86" cy="1419.8" r="4.25"/>
<circle cx="1279.94" cy="1419.8" r="1.8"/>
<circle cx="1309.02" cy="1419.8" r="2.05"/>
<circle cx="1338.1" cy="1419.8" r="1.8"/>
<circle cx="1367.18" cy="1419.8" r="1.8"/>
<circle cx="1396.26" cy="1419.8" r="1.8"/>
</g>
<g fill="#b3e3f3" stroke="#addceb" stroke-width="0.55">
<circle cx="174.9" cy="1448.2" r="7.25"/>
<circle cx="203.98" cy="1448.2" r="1.55"/>
<circle cx="233.06" cy="1448.2" r="6.65"/>
<circle cx="262.14" cy="1448.2" r="2.95"/>
<circle cx="291.22" cy="1448.2" r="5.25"/>
<circle cx="320.3" cy="1448.2" r="5.85"/>
<circle cx="349.38" cy="1448.2" r="3.85"/>
<circle cx="378.46" cy="1448.2" r="3.25"/>
<circle cx="407.54" cy="1448.2" r="2.95"/>
<circle cx="436.62" cy="1448.2" r="2.95"/>
<circle cx="465.7" cy="1448.2" r="1.55"/>
<circle cx="494.78" cy="1448.2" r="1.55"/>
<circle cx="523.86" cy="1448.2" r="1.55"/>
<circle cx="552.94" cy="1448.2" r="1.55"/>
<circle cx="582.02" cy="1448.2" r="1.55"/>
<circle cx="611.1" cy="1448.2" r="1.55"/>
<circle cx="640.18" cy="1448.2" r="1.55"/>
<circle cx="669.26" cy="1448.2" r="4.4"/>
<circle cx="698.34" cy="1448.2" r="4.7"/>
<circle cx="727.42" cy="1448.2" r="7.8"/>
<circle cx="756.5" cy="1448.2" r="2.1"/>
<circle cx="785.58" cy="1448.2" r="1.55"/>
<circle cx="814.66" cy="1448.2" r="2.4"/>
<circle cx="843.74" cy="1448.2" r="2.7"/>
<circle cx="872.82" cy="1448.2" r="8.1"/>
<circle cx="901.9" cy="1448.2" r="7.25"/>
<circle cx="930.98" cy="1448.2" r="7.8"/>
<circle cx="960.06" cy="1448.2" r="1.55"/>
<circle cx="989.14" cy="1448.2" r="1.55"/>
<circle cx="1018.22" cy="1448.2" r="1.55"/>
<circle cx="1047.3" cy="1448.2" r="1.55"/>
<circle cx="1076.38" cy="1448.2" r="1.8"/>
<circle cx="1105.46" cy="1448.2" r="1.55"/>
<circle cx="1134.54" cy="1448.2" r="1.55"/>
<circle cx="1163.62" cy="1448.2" r="4.75"/>
<circle cx="1192.7" cy="1448.2" r="4.25"/>
<circle cx="1221.78" cy="1448.2" r="3.3"/>
<circle cx="1250.86" cy="1448.2" r="3.55"/>
<circle cx="1279.94" cy="1448.2" r="1.55"/>
<circle cx="1309.02" cy="1448.2" r="1.8"/>
<circle cx="1338.1" cy="1448.2" r="1.55"/>
<circle cx="1367.18" cy="1448.2" r="1.55"/>
<circle cx="1396.26" cy="1448.2" r="1.55"/>
</g>
<g fill="#9ce0e3" stroke="#97d9dc" stroke-width="0.55">
<circle cx="174.9" cy="1476.6" r="7.25"/>
<circle cx="203.98" cy="1476.6" r="1.85"/>
<circle cx="233.06" cy="1476.6" r="7.25"/>
<circle cx="262.14" cy="1476.6" r="2.95"/>
<circle cx="291.22" cy="1476.6" r="5.55"/>
<circle cx="320.3" cy="1476.6" r="5.85"/>
<circle cx="349.38" cy="1476.6" r="4.1"/>
<circle cx="378.46" cy="1476.6" r="3.25"/>
<circle cx="407.54" cy="1476.6" r="3.25"/>
<circle cx="436.62" cy="1476.6" r="2.95"/>
<circle cx="465.7" cy="1476.6" r="1.55"/>
<circle cx="494.78" cy="1476.6" r="1.55"/>
<circle cx="523.86" cy="1476.6" r="1.55"/>
<circle cx="552.94" cy="1476.6" r="1.55"/>
<circle cx="582.02" cy="1476.6" r="1.55"/>
<circle cx="611.1" cy="1476.6" r="1.55"/>
<circle cx="640.18" cy="1476.6" r="1.55"/>
<circle cx="669.26" cy="1476.6" r="4.4"/>
<circle cx="698.34" cy="1476.6" r="4.4"/>
<circle cx="727.42" cy="1476.6" r="7.5"/>
<circle cx="756.5" cy="1476.6" r="2.95"/>
<circle cx="785.58" cy="1476.6" r="1.55"/>
<circle cx="814.66" cy="1476.6" r="1.55"/>
<circle cx="843.74" cy="1476.6" r="2.4"/>
<circle cx="872.82" cy="1476.6" r="7.8"/>
<circle cx="901.9" cy="1476.6" r="7.25"/>
<circle cx="930.98" cy="1476.6" r="7.5"/>
<circle cx="960.06" cy="1476.6" r="1.55"/>
<circle cx="989.14" cy="1476.6" r="1.55"/>
<circle cx="1018.22" cy="1476.6" r="1.85"/>
<circle cx="1047.3" cy="1476.6" r="1.55"/>
<circle cx="1076.38" cy="1476.6" r="1.8"/>
<circle cx="1105.46" cy="1476.6" r="1.55"/>
<circle cx="1134.54" cy="1476.6" r="1.8"/>
<circle cx="1163.62" cy="1476.6" r="4.75"/>
<circle cx="1192.7" cy="1476.6" r="4.25"/>
<circle cx="1221.78" cy="1476.6" r="3.3"/>
<circle cx="1250.86" cy="1476.6" r="3.8"/>
<circle cx="1279.94" cy="1476.6" r="1.55"/>
<circle cx="1309.02" cy="1476.6" r="1.8"/>
<circle cx="1338.1" cy="1476.6" r="1.55"/>
<circle cx="1367.18" cy="1476.6" r="1.8"/>
<circle cx="1396.26" cy="1476.6" r="1.55"/>
</g>
<g fill="#5ca2d6" stroke="#4d88b3" stroke-width="0.55">
<circle cx="174.9" cy="1505" r="8.1"/>
<circle cx="203.98" cy="1505" r="2.1"/>
<circle cx="233.06" cy="1505" r="5.85"/>
<circle cx="262.14" cy="1505" r="2.95"/>
<circle cx="291.22" cy="1505" r="5.25"/>
<circle cx="320.3" cy="1505" r="5.55"/>
<circle cx="349.38" cy="1505" r="4.95"/>
<circle cx="378.46" cy="1505" r="4.4"/>
<circle cx="407.54" cy="1505" r="2.95"/>
<circle cx="436.62" cy="1505" r="2.95"/>
<circle cx="465.7" cy="1505" r="1.85"/>
<circle cx="494.78" cy="1505" r="1.85"/>
<circle cx="523.86" cy="1505" r="1.85"/>
<circle cx="552.94" cy="1505" r="1.85"/>
<circle cx="582.02" cy="1505" r="1.85"/>
<circle cx="611.1" cy="1505" r="1.85"/>
<circle cx="640.18" cy="1505" r="1.85"/>
<circle cx="669.26" cy="1505" r="3.25"/>
<circle cx="698.34" cy="1505" r="3.55"/>
<circle cx="727.42" cy="1505" r="3.55"/>
<circle cx="756.5" cy="1505" r="1.85"/>
<circle cx="785.58" cy="1505" r="1.55"/>
<circle cx="814.66" cy="1505" r="2.7"/>
<circle cx="843.74" cy="1505" r="4.1"/>
<circle cx="872.82" cy="1505" r="10.35"/>
<circle cx="901.9" cy="1505" r="8.1"/>
<circle cx="930.98" cy="1505" r="5.55"/>
<circle cx="960.06" cy="1505" r="1.85"/>
<circle cx="989.14" cy="1505" r="1.85"/>
<circle cx="1018.22" cy="1505" r="1.85"/>
<circle cx="1047.3" cy="1505" r="2.05"/>
<circle cx="1076.38" cy="1505" r="1.8"/>
<circle cx="1105.46" cy="1505" r="1.8"/>
<circle cx="1134.54" cy="1505" r="1.8"/>
<circle cx="1163.62" cy="1505" r="5"/>
<circle cx="1192.7" cy="1505" r="4.25"/>
<circle cx="1221.78" cy="1505" r="4"/>
<circle cx="1250.86" cy="1505" r="4.25"/>
<circle cx="1279.94" cy="1505" r="1.8"/>
<circle cx="1309.02" cy="1505" r="2.05"/>
<circle cx="1338.1" cy="1505" r="1.8"/>
<circle cx="1367.18" cy="1505" r="2.05"/>
<circle cx="1396.26" cy="1505" r="2.05"/>
</g>
<g fill="#4869b8" stroke="#3c589a" stroke-width="0.55">
<circle cx="174.9" cy="1533.4" r="5.85"/>
<circle cx="203.98" cy="1533.4" r="1.85"/>
<circle cx="233.06" cy="1533.4" r="7.5"/>
<circle cx="262.14" cy="1533.4" r="2.95"/>
<circle cx="291.22" cy="1533.4" r="4.95"/>
<circle cx="320.3" cy="1533.4" r="5.85"/>
<circle cx="349.38" cy="1533.4" r="3.25"/>
<circle cx="378.46" cy="1533.4" r="2.7"/>
<circle cx="407.54" cy="1533.4" r="2.95"/>
<circle cx="436.62" cy="1533.4" r="2.95"/>
<circle cx="465.7" cy="1533.4" r="1.85"/>
<circle cx="494.78" cy="1533.4" r="1.85"/>
<circle cx="523.86" cy="1533.4" r="1.85"/>
<circle cx="552.94" cy="1533.4" r="1.85"/>
<circle cx="582.02" cy="1533.4" r="1.85"/>
<circle cx="611.1" cy="1533.4" r="1.85"/>
<circle cx="640.18" cy="1533.4" r="1.85"/>
<circle cx="669.26" cy="1533.4" r="4.1"/>
<circle cx="698.34" cy="1533.4" r="4.1"/>
<circle cx="727.42" cy="1533.4" r="7.5"/>
<circle cx="756.5" cy="1533.4" r="2.95"/>
<circle cx="785.58" cy="1533.4" r="1.55"/>
<circle cx="814.66" cy="1533.4" r="2.95"/>
<circle cx="843.74" cy="1533.4" r="5.85"/>
<circle cx="872.82" cy="1533.4" r="8.35"/>
<circle cx="901.9" cy="1533.4" r="6.1"/>
<circle cx="930.98" cy="1533.4" r="7.8"/>
<circle cx="960.06" cy="1533.4" r="1.85"/>
<circle cx="989.14" cy="1533.4" r="1.85"/>
<circle cx="1018.22" cy="1533.4" r="1.85"/>
<circle cx="1047.3" cy="1533.4" r="1.8"/>
<circle cx="1076.38" cy="1533.4" r="1.8"/>
<circle cx="1105.46" cy="1533.4" r="1.55"/>
<circle cx="1134.54" cy="1533.4" r="1.8"/>
<circle cx="1163.62" cy="1533.4" r="5.25"/>
<circle cx="1192.7" cy="1533.4" r="4.75"/>
<circle cx="1221.78" cy="1533.4" r="3.8"/>
<circle cx="1250.86" cy="1533.4" r="4"/>
<circle cx="1279.94" cy="1533.4" r="1.55"/>
<circle cx="1309.02" cy="1533.4" r="1.8"/>
<circle cx="1338.1" cy="1533.4" r="1.55"/>
<circle cx="1367.18" cy="1533.4" r="1.8"/>
<circle cx="1396.26" cy="1533.4" r="1.8"/>
</g>
<g fill="#3b5193" stroke="#31447b" stroke-width="0.55">
<circle cx="174.9" cy="1561.8" r="5.85"/>
<circle cx="203.98" cy="1561.8" r="1.55"/>
<circle cx="233.06" cy="1561.8" r="7.8"/>
<circle cx="262.14" cy="1561.8" r="2.95"/>
<circle cx="291.22" cy="1561.8" r="4.7"/>
<circle cx="320.3" cy="1561.8" r="5.55"/>
<circle cx="349.38" cy="1561.8" r="3.25"/>
<circle cx="378.46" cy="1561.8" r="2.7"/>
<circle cx="407.54" cy="1561.8" r="2.7"/>
<circle cx="436.62" cy="1561.8" r="2.4"/>
<circle cx="465.7" cy="1561.8" r="1.85"/>
<circle cx="494.78" cy="1561.8" r="1.85"/>
<circle cx="523.86" cy="1561.8" r="1.85"/>
<circle cx="552.94" cy="1561.8" r="1.85"/>
<circle cx="582.02" cy="1561.8" r="1.85"/>
<circle cx="611.1" cy="1561.8" r="1.85"/>
<circle cx="640.18" cy="1561.8" r="1.85"/>
<circle cx="669.26" cy="1561.8" r="4.1"/>
<circle cx="698.34" cy="1561.8" r="4.4"/>
<circle cx="727.42" cy="1561.8" r="8.1"/>
<circle cx="756.5" cy="1561.8" r="3.25"/>
<circle cx="785.58" cy="1561.8" r="1.55"/>
<circle cx="814.66" cy="1561.8" r="1.55"/>
<circle cx="843.74" cy="1561.8" r="4.95"/>
<circle cx="872.82" cy="1561.8" r="8.65"/>
<circle cx="901.9" cy="1561.8" r="6.65"/>
<circle cx="930.98" cy="1561.8" r="7.8"/>
<circle cx="960.06" cy="1561.8" r="1.85"/>
<circle cx="989.14" cy="1561.8" r="1.85"/>
<circle cx="1018.22" cy="1561.8" r="1.85"/>
<circle cx="1047.3" cy="1561.8" r="2.05"/>
<circle cx="1076.38" cy="1561.8" r="2.05"/>
<circle cx="1105.46" cy="1561.8" r="2.05"/>
<circle cx="1134.54" cy="1561.8" r="2.05"/>
<circle cx="1163.62" cy="1561.8" r="5.5"/>
<circle cx="1192.7" cy="1561.8" r="4.75"/>
<circle cx="1221.78" cy="1561.8" r="4"/>
<circle cx="1250.86" cy="1561.8" r="3.8"/>
<circle cx="1279.94" cy="1561.8" r="2.05"/>
<circle cx="1309.02" cy="1561.8" r="2.05"/>
<circle cx="1338.1" cy="1561.8" r="2.05"/>
<circle cx="1367.18" cy="1561.8" r="2.05"/>
<circle cx="1396.26" cy="1561.8" r="2.05"/>
</g>
<g fill="#223a78" stroke="#1c3064" stroke-width="0.55">
<circle cx="174.9" cy="1590.2" r="7.5"/>
<circle cx="203.98" cy="1590.2" r="1.85"/>
<circle cx="233.06" cy="1590.2" r="7.25"/>
<circle cx="262.14" cy="1590.2" r="3.25"/>
<circle cx="291.22" cy="1590.2" r="5.25"/>
<circle cx="320.3" cy="1590.2" r="5.55"/>
<circle cx="349.38" cy="1590.2" r="4.1"/>
<circle cx="378.46" cy="1590.2" r="2.7"/>
<circle cx="407.54" cy="1590.2" r="2.95"/>
<circle cx="436.62" cy="1590.2" r="2.4"/>
<circle cx="465.7" cy="1590.2" r="1.85"/>
<circle cx="494.78" cy="1590.2" r="1.85"/>
<circle cx="523.86" cy="1590.2" r="1.85"/>
<circle cx="552.94" cy="1590.2" r="1.85"/>
<circle cx="582.02" cy="1590.2" r="1.85"/>
<circle cx="611.1" cy="1590.2" r="1.85"/>
<circle cx="640.18" cy="1590.2" r="1.85"/>
<circle cx="669.26" cy="1590.2" r="4.4"/>
<circle cx="698.34" cy="1590.2" r="4.7"/>
<circle cx="727.42" cy="1590.2" r="8.1"/>
<circle cx="756.5" cy="1590.2" r="3.25"/>
<circle cx="785.58" cy="1590.2" r="1.55"/>
<circle cx="814.66" cy="1590.2" r="1.55"/>
<circle cx="843.74" cy="1590.2" r="4.7"/>
<circle cx="872.82" cy="1590.2" r="8.35"/>
<circle cx="901.9" cy="1590.2" r="7.25"/>
<circle cx="930.98" cy="1590.2" r="7.8"/>
<circle cx="960.06" cy="1590.2" r="1.85"/>
<circle cx="989.14" cy="1590.2" r="1.85"/>
<circle cx="1018.22" cy="1590.2" r="1.85"/>
<circle cx="1047.3" cy="1590.2" r="2.05"/>
<circle cx="1076.38" cy="1590.2" r="2.05"/>
<circle cx="1105.46" cy="1590.2" r="2.05"/>
<circle cx="1134.54" cy="1590.2" r="1.8"/>
<circle cx="1163.62" cy="1590.2" r="5.25"/>
<circle cx="1192.7" cy="1590.2" r="4.75"/>
<circle cx="1221.78" cy="1590.2" r="4"/>
<circle cx="1250.86" cy="1590.2" r="4"/>
<circle cx="1279.94" cy="1590.2" r="1.8"/>
<circle cx="1309.02" cy="1590.2" r="2.05"/>
<circle cx="1338.1" cy="1590.2" r="1.8"/>
<circle cx="1367.18" cy="1590.2" r="2.05"/>
<circle cx="1396.26" cy="1590.2" r="2.05"/>
</g>
<g fill="#b0ecb6" stroke="#aae4b0" stroke-width="0.55">
<circle cx="174.9" cy="1618.6" r="6.95"/>
<circle cx="203.98" cy="1618.6" r="1.55"/>
<circle cx="233.06" cy="1618.6" r="6.65"/>
<circle cx="262.14" cy="1618.6" r="2.95"/>
<circle cx="291.22" cy="1618.6" r="4.7"/>
<circle cx="320.3" cy="1618.6" r="4.95"/>
<circle cx="349.38" cy="1618.6" r="4.1"/>
<circle cx="378.46" cy="1618.6" r="3.55"/>
<circle cx="407.54" cy="1618.6" r="3.25"/>
<circle cx="436.62" cy="1618.6" r="3.25"/>
<circle cx="465.7" cy="1618.6" r="1.55"/>
<circle cx="494.78" cy="1618.6" r="1.55"/>
<circle cx="523.86" cy="1618.6" r="1.55"/>
<circle cx="552.94" cy="1618.6" r="1.55"/>
<circle cx="582.02" cy="1618.6" r="1.55"/>
<circle cx="611.1" cy="1618.6" r="1.55"/>
<circle cx="640.18" cy="1618.6" r="1.55"/>
<circle cx="669.26" cy="1618.6" r="3.55"/>
<circle cx="698.34" cy="1618.6" r="3.85"/>
<circle cx="727.42" cy="1618.6" r="6.95"/>
<circle cx="756.5" cy="1618.6" r="2.7"/>
<circle cx="785.58" cy="1618.6" r="1.55"/>
<circle cx="814.66" cy="1618.6" r="2.95"/>
<circle cx="843.74" cy="1618.6" r="8.35"/>
<circle cx="872.82" cy="1618.6" r="8.1"/>
<circle cx="901.9" cy="1618.6" r="4.95"/>
<circle cx="930.98" cy="1618.6" r="6.95"/>
<circle cx="960.06" cy="1618.6" r="1.55"/>
<circle cx="989.14" cy="1618.6" r="1.55"/>
<circle cx="1018.22" cy="1618.6" r="1.55"/>
<circle cx="1047.3" cy="1618.6" r="1.8"/>
<circle cx="1076.38" cy="1618.6" r="1.8"/>
<circle cx="1105.46" cy="1618.6" r="1.55"/>
<circle cx="1134.54" cy="1618.6" r="2.55"/>
<circle cx="1163.62" cy="1618.6" r="4.75"/>
<circle cx="1192.7" cy="1618.6" r="4"/>
<circle cx="1221.78" cy="1618.6" r="3.55"/>
<circle cx="1250.86" cy="1618.6" r="3.3"/>
<circle cx="1279.94" cy="1618.6" r="1.55"/>
<circle cx="1309.02" cy="1618.6" r="1.55"/>
<circle cx="1338.1" cy="1618.6" r="1.55"/>
<circle cx="1367.18" cy="1618.6" r="1.55"/>
<circle cx="1396.26" cy="1618.6" r="1.55"/>
</g>
<g fill="#8adca6" stroke="#85d5a1" stroke-width="0.55">
<circle cx="174.9" cy="1647" r="6.35"/>
<circle cx="203.98" cy="1647" r="1.55"/>
<circle cx="233.06" cy="1647" r="5.85"/>
<circle cx="262.14" cy="1647" r="2.95"/>
<circle cx="291.22" cy="1647" r="4.4"/>
<circle cx="320.3" cy="1647" r="3.85"/>
<circle cx="349.38" cy="1647" r="3.55"/>
<circle cx="378.46" cy="1647" r="2.95"/>
<circle cx="407.54" cy="1647" r="2.95"/>
<circle cx="436.62" cy="1647" r="2.7"/>
<circle cx="465.7" cy="1647" r="1.55"/>
<circle cx="494.78" cy="1647" r="1.55"/>
<circle cx="523.86" cy="1647" r="1.55"/>
<circle cx="552.94" cy="1647" r="1.55"/>
<circle cx="582.02" cy="1647" r="1.55"/>
<circle cx="611.1" cy="1647" r="1.55"/>
<circle cx="640.18" cy="1647" r="1.55"/>
<circle cx="669.26" cy="1647" r="3.55"/>
<circle cx="698.34" cy="1647" r="3.85"/>
<circle cx="727.42" cy="1647" r="7.8"/>
<circle cx="756.5" cy="1647" r="2.95"/>
<circle cx="785.58" cy="1647" r="1.55"/>
<circle cx="814.66" cy="1647" r="2.7"/>
<circle cx="843.74" cy="1647" r="9.25"/>
<circle cx="872.82" cy="1647" r="8.35"/>
<circle cx="901.9" cy="1647" r="4.7"/>
<circle cx="930.98" cy="1647" r="7.25"/>
<circle cx="960.06" cy="1647" r="1.55"/>
<circle cx="989.14" cy="1647" r="1.55"/>
<circle cx="1018.22" cy="1647" r="1.85"/>
<circle cx="1047.3" cy="1647" r="1.8"/>
<circle cx="1076.38" cy="1647" r="1.8"/>
<circle cx="1105.46" cy="1647" r="1.55"/>
<circle cx="1134.54" cy="1647" r="2.3"/>
<circle cx="1163.62" cy="1647" r="5"/>
<circle cx="1192.7" cy="1647" r="4.25"/>
<circle cx="1221.78" cy="1647" r="3.8"/>
<circle cx="1250.86" cy="1647" r="3.3"/>
<circle cx="1279.94" cy="1647" r="1.55"/>
<circle cx="1309.02" cy="1647" r="1.55"/>
<circle cx="1338.1" cy="1647" r="1.55"/>
<circle cx="1367.18" cy="1647" r="1.55"/>
<circle cx="1396.26" cy="1647" r="1.55"/>
</g>
<g fill="#4cc03c" stroke="#3fa132" stroke-width="0.55">
<circle cx="174.9" cy="1675.4" r="6.65"/>
<circle cx="203.98" cy="1675.4" r="1.85"/>
<circle cx="233.06" cy="1675.4" r="6.95"/>
<circle cx="262.14" cy="1675.4" r="3.25"/>
<circle cx="291.22" cy="1675.4" r="4.7"/>
<circle cx="320.3" cy="1675.4" r="4.95"/>
<circle cx="349.38" cy="1675.4" r="3.55"/>
<circle cx="378.46" cy="1675.4" r="2.95"/>
<circle cx="407.54" cy="1675.4" r="2.95"/>
<circle cx="436.62" cy="1675.4" r="2.95"/>
<circle cx="465.7" cy="1675.4" r="1.55"/>
<circle cx="494.78" cy="1675.4" r="1.55"/>
<circle cx="523.86" cy="1675.4" r="1.55"/>
<circle cx="552.94" cy="1675.4" r="1.55"/>
<circle cx="582.02" cy="1675.4" r="1.55"/>
<circle cx="611.1" cy="1675.4" r="1.55"/>
<circle cx="640.18" cy="1675.4" r="1.85"/>
<circle cx="669.26" cy="1675.4" r="3.85"/>
<circle cx="698.34" cy="1675.4" r="3.55"/>
<circle cx="727.42" cy="1675.4" r="7.5"/>
<circle cx="756.5" cy="1675.4" r="2.95"/>
<circle cx="785.58" cy="1675.4" r="1.55"/>
<circle cx="814.66" cy="1675.4" r="2.1"/>
<circle cx="843.74" cy="1675.4" r="8.95"/>
<circle cx="872.82" cy="1675.4" r="8.35"/>
<circle cx="901.9" cy="1675.4" r="5.25"/>
<circle cx="930.98" cy="1675.4" r="7.25"/>
<circle cx="960.06" cy="1675.4" r="1.55"/>
<circle cx="989.14" cy="1675.4" r="1.55"/>
<circle cx="1018.22" cy="1675.4" r="1.55"/>
<circle cx="1047.3" cy="1675.4" r="1.8"/>
<circle cx="1076.38" cy="1675.4" r="1.8"/>
<circle cx="1105.46" cy="1675.4" r="1.55"/>
<circle cx="1134.54" cy="1675.4" r="2.05"/>
<circle cx="1163.62" cy="1675.4" r="4.75"/>
<circle cx="1192.7" cy="1675.4" r="4"/>
<circle cx="1221.78" cy="1675.4" r="3.3"/>
<circle cx="1250.86" cy="1675.4" r="3.55"/>
<circle cx="1279.94" cy="1675.4" r="1.55"/>
<circle cx="1309.02" cy="1675.4" r="1.55"/>
<circle cx="1338.1" cy="1675.4" r="1.55"/>
<circle cx="1367.18" cy="1675.4" r="1.55"/>
<circle cx="1396.26" cy="1675.4" r="1.55"/>
</g>
<g fill="#2aa726" stroke="#238c1f" stroke-width="0.55">
<circle cx="174.9" cy="1703.8" r="6.95"/>
<circle cx="203.98" cy="1703.8" r="2.1"/>
<circle cx="233.06" cy="1703.8" r="6.95"/>
<circle cx="262.14" cy="1703.8" r="2.95"/>
<circle cx="291.22" cy="1703.8" r="4.7"/>
<circle cx="320.3" cy="1703.8" r="4.7"/>
<circle cx="349.38" cy="1703.8" r="3.55"/>
<circle cx="378.46" cy="1703.8" r="2.7"/>
<circle cx="407.54" cy="1703.8" r="2.95"/>
<circle cx="436.62" cy="1703.8" r="2.7"/>
<circle cx="465.7" cy="1703.8" r="1.85"/>
<circle cx="494.78" cy="1703.8" r="1.85"/>
<circle cx="523.86" cy="1703.8" r="1.85"/>
<circle cx="552.94" cy="1703.8" r="1.85"/>
<circle cx="582.02" cy="1703.8" r="1.85"/>
<circle cx="611.1" cy="1703.8" r="1.85"/>
<circle cx="640.18" cy="1703.8" r="1.85"/>
<circle cx="669.26" cy="1703.8" r="3.85"/>
<circle cx="698.34" cy="1703.8" r="4.1"/>
<circle cx="727.42" cy="1703.8" r="8.1"/>
<circle cx="756.5" cy="1703.8" r="3.25"/>
<circle cx="785.58" cy="1703.8" r="1.55"/>
<circle cx="814.66" cy="1703.8" r="2.1"/>
<circle cx="843.74" cy="1703.8" r="8.35"/>
<circle cx="872.82" cy="1703.8" r="8.35"/>
<circle cx="901.9" cy="1703.8" r="5.85"/>
<circle cx="930.98" cy="1703.8" r="7.5"/>
<circle cx="960.06" cy="1703.8" r="1.85"/>
<circle cx="989.14" cy="1703.8" r="1.85"/>
<circle cx="1018.22" cy="1703.8" r="1.85"/>
<circle cx="1047.3" cy="1703.8" r="1.8"/>
<circle cx="1076.38" cy="1703.8" r="1.8"/>
<circle cx="1105.46" cy="1703.8" r="1.8"/>
<circle cx="1134.54" cy="1703.8" r="1.8"/>
<circle cx="1163.62" cy="1703.8" r="5"/>
<circle cx="1192.7" cy="1703.8" r="4.25"/>
<circle cx="1221.78" cy="1703.8" r="3.55"/>
<circle cx="1250.86" cy="1703.8" r="3.8"/>
<circle cx="1279.94" cy="1703.8" r="1.8"/>
<circle cx="1309.02" cy="1703.8" r="1.8"/>
<circle cx="1338.1" cy="1703.8" r="1.55"/>
<circle cx="1367.18" cy="1703.8" r="1.8"/>
<circle cx="1396.26" cy="1703.8" r="1.8"/>
</g>
<g fill="#2f6142" stroke="#275137" stroke-width="0.55">
<circle cx="174.9" cy="1732.2" r="6.65"/>
<circle cx="203.98" cy="1732.2" r="2.1"/>
<circle cx="233.06" cy="1732.2" r="5.85"/>
<circle cx="262.14" cy="1732.2" r="2.7"/>
<circle cx="291.22" cy="1732.2" r="4.4"/>
<circle cx="320.3" cy="1732.2" r="3.55"/>
<circle cx="349.38" cy="1732.2" r="3.55"/>
<circle cx="378.46" cy="1732.2" r="2.7"/>
<circle cx="407.54" cy="1732.2" r="2.7"/>
<circle cx="436.62" cy="1732.2" r="2.7"/>
<circle cx="465.7" cy="1732.2" r="1.85"/>
<circle cx="494.78" cy="1732.2" r="1.85"/>
<circle cx="523.86" cy="1732.2" r="1.85"/>
<circle cx="552.94" cy="1732.2" r="1.85"/>
<circle cx="582.02" cy="1732.2" r="1.85"/>
<circle cx="611.1" cy="1732.2" r="1.85"/>
<circle cx="640.18" cy="1732.2" r="1.85"/>
<circle cx="669.26" cy="1732.2" r="3.85"/>
<circle cx="698.34" cy="1732.2" r="4.7"/>
<circle cx="727.42" cy="1732.2" r="8.1"/>
<circle cx="756.5" cy="1732.2" r="3.25"/>
<circle cx="785.58" cy="1732.2" r="2.1"/>
<circle cx="814.66" cy="1732.2" r="2.4"/>
<circle cx="843.74" cy="1732.2" r="8.35"/>
<circle cx="872.82" cy="1732.2" r="8.95"/>
<circle cx="901.9" cy="1732.2" r="6.35"/>
<circle cx="930.98" cy="1732.2" r="7.8"/>
<circle cx="960.06" cy="1732.2" r="1.85"/>
<circle cx="989.14" cy="1732.2" r="1.85"/>
<circle cx="1018.22" cy="1732.2" r="2.1"/>
<circle cx="1047.3" cy="1732.2" r="2.05"/>
<circle cx="1076.38" cy="1732.2" r="1.8"/>
<circle cx="1105.46" cy="1732.2" r="1.8"/>
<circle cx="1134.54" cy="1732.2" r="1.8"/>
<circle cx="1163.62" cy="1732.2" r="5.25"/>
<circle cx="1192.7" cy="1732.2" r="4.5"/>
<circle cx="1221.78" cy="1732.2" r="4"/>
<circle cx="1250.86" cy="1732.2" r="4"/>
<circle cx="1279.94" cy="1732.2" r="1.8"/>
<circle cx="1309.02" cy="1732.2" r="2.05"/>
<circle cx="1338.1" cy="1732.2" r="1.8"/>
<circle cx="1367.18" cy="1732.2" r="2.05"/>
<circle cx="1396.26" cy="1732.2" r="2.05"/>
</g>
<g fill="#86c92a" stroke="#70a823" stroke-width="0.55">
<circle cx="174.9" cy="1760.6" r="7.25"/>
<circle cx="203.98" cy="1760.6" r="1.85"/>
<circle cx="233.06" cy="1760.6" r="6.1"/>
<circle cx="262.14" cy="1760.6" r="2.95"/>
<circle cx="291.22" cy="1760.6" r="4.7"/>
<circle cx="320.3" cy="1760.6" r="5.25"/>
<circle cx="349.38" cy="1760.6" r="3.85"/>
<circle cx="378.46" cy="1760.6" r="3.25"/>
<circle cx="407.54" cy="1760.6" r="2.95"/>
<circle cx="436.62" cy="1760.6" r="2.4"/>
<circle cx="465.7" cy="1760.6" r="1.55"/>
<circle cx="494.78" cy="1760.6" r="1.55"/>
<circle cx="523.86" cy="1760.6" r="1.55"/>
<circle cx="552.94" cy="1760.6" r="1.55"/>
<circle cx="582.02" cy="1760.6" r="1.55"/>
<circle cx="611.1" cy="1760.6" r="1.55"/>
<circle cx="640.18" cy="1760.6" r="2.1"/>
<circle cx="669.26" cy="1760.6" r="3.85"/>
<circle cx="698.34" cy="1760.6" r="3.85"/>
<circle cx="727.42" cy="1760.6" r="7.5"/>
<circle cx="756.5" cy="1760.6" r="2.95"/>
<circle cx="785.58" cy="1760.6" r="1.55"/>
<circle cx="814.66" cy="1760.6" r="3.85"/>
<circle cx="843.74" cy="1760.6" r="8.35"/>
<circle cx="872.82" cy="1760.6" r="8.1"/>
<circle cx="901.9" cy="1760.6" r="5.85"/>
<circle cx="930.98" cy="1760.6" r="6.65"/>
<circle cx="960.06" cy="1760.6" r="1.55"/>
<circle cx="989.14" cy="1760.6" r="1.55"/>
<circle cx="1018.22" cy="1760.6" r="1.85"/>
<circle cx="1047.3" cy="1760.6" r="1.8"/>
<circle cx="1076.38" cy="1760.6" r="1.8"/>
<circle cx="1105.46" cy="1760.6" r="1.55"/>
<circle cx="1134.54" cy="1760.6" r="2.55"/>
<circle cx="1163.62" cy="1760.6" r="5"/>
<circle cx="1192.7" cy="1760.6" r="4.5"/>
<circle cx="1221.78" cy="1760.6" r="3.8"/>
<circle cx="1250.86" cy="1760.6" r="3.8"/>
<circle cx="1279.94" cy="1760.6" r="1.55"/>
<circle cx="1309.02" cy="1760.6" r="1.55"/>
<circle cx="1338.1" cy="1760.6" r="1.55"/>
<circle cx="1367.18" cy="1760.6" r="1.55"/>
<circle cx="1396.26" cy="1760.6" r="1.55"/>
</g>
<g fill="#2bb822" stroke="#249a1c" stroke-width="0.55">
<circle cx="174.9" cy="1789" r="7.25"/>
<circle cx="203.98" cy="1789" r="1.85"/>
<circle cx="233.06" cy="1789" r="6.65"/>
<circle cx="262.14" cy="1789" r="2.95"/>
<circle cx="291.22" cy="1789" r="4.7"/>
<circle cx="320.3" cy="1789" r="4.95"/>
<circle cx="349.38" cy="1789" r="3.55"/>
<circle cx="378.46" cy="1789" r="3.25"/>
<circle cx="407.54" cy="1789" r="2.95"/>
<circle cx="436.62" cy="1789" r="2.95"/>
<circle cx="465.7" cy="1789" r="1.55"/>
<circle cx="494.78" cy="1789" r="1.55"/>
<circle cx="523.86" cy="1789" r="1.55"/>
<circle cx="552.94" cy="1789" r="1.55"/>
<circle cx="582.02" cy="1789" r="1.55"/>
<circle cx="611.1" cy="1789" r="1.55"/>
<circle cx="640.18" cy="1789" r="1.85"/>
<circle cx="669.26" cy="1789" r="3.85"/>
<circle cx="698.34" cy="1789" r="3.85"/>
<circle cx="727.42" cy="1789" r="7.5"/>
<circle cx="756.5" cy="1789" r="2.95"/>
<circle cx="785.58" cy="1789" r="1.55"/>
<circle cx="814.66" cy="1789" r="4.1"/>
<circle cx="843.74" cy="1789" r="8.35"/>
<circle cx="872.82" cy="1789" r="8.1"/>
<circle cx="901.9" cy="1789" r="5.55"/>
<circle cx="930.98" cy="1789" r="6.95"/>
<circle cx="960.06" cy="1789" r="1.55"/>
<circle cx="989.14" cy="1789" r="1.55"/>
<circle cx="1018.22" cy="1789" r="1.85"/>
<circle cx="1047.3" cy="1789" r="1.8"/>
<circle cx="1076.38" cy="1789" r="1.8"/>
<circle cx="1105.46" cy="1789" r="1.8"/>
<circle cx="1134.54" cy="1789" r="2.3"/>
<circle cx="1163.62" cy="1789" r="5.25"/>
<circle cx="1192.7" cy="1789" r="4.75"/>
<circle cx="1221.78" cy="1789" r="4"/>
<circle cx="1250.86" cy="1789" r="3.8"/>
<circle cx="1279.94" cy="1789" r="1.55"/>
<circle cx="1309.02" cy="1789" r="1.55"/>
<circle cx="1338.1" cy="1789" r="1.55"/>
<circle cx="1367.18" cy="1789" r="1.8"/>
<circle cx="1396.26" cy="1789" r="1.8"/>
</g>
<g fill="#c2dc0a" stroke="#bcd509" stroke-width="0.55">
<circle cx="174.9" cy="1817.4" r="7.8"/>
<circle cx="203.98" cy="1817.4" r="1.85"/>
<circle cx="233.06" cy="1817.4" r="5.25"/>
<circle cx="262.14" cy="1817.4" r="2.95"/>
<circle cx="291.22" cy="1817.4" r="6.1"/>
<circle cx="320.3" cy="1817.4" r="5.25"/>
<circle cx="349.38" cy="1817.4" r="4.1"/>
<circle cx="378.46" cy="1817.4" r="3.85"/>
<circle cx="407.54" cy="1817.4" r="3.25"/>
<circle cx="436.62" cy="1817.4" r="3.25"/>
<circle cx="465.7" cy="1817.4" r="1.55"/>
<circle cx="494.78" cy="1817.4" r="1.55"/>
<circle cx="523.86" cy="1817.4" r="1.55"/>
<circle cx="552.94" cy="1817.4" r="1.55"/>
<circle cx="582.02" cy="1817.4" r="2.4"/>
<circle cx="611.1" cy="1817.4" r="1.85"/>
<circle cx="640.18" cy="1817.4" r="3.55"/>
<circle cx="669.26" cy="1817.4" r="4.4"/>
<circle cx="698.34" cy="1817.4" r="5.25"/>
<circle cx="727.42" cy="1817.4" r="6.95"/>
<circle cx="756.5" cy="1817.4" r="2.95"/>
<circle cx="785.58" cy="1817.4" r="1.55"/>
<circle cx="814.66" cy="1817.4" r="5.55"/>
<circle cx="843.74" cy="1817.4" r="2.95"/>
<circle cx="872.82" cy="1817.4" r="8.1"/>
<circle cx="901.9" cy="1817.4" r="6.95"/>
<circle cx="930.98" cy="1817.4" r="6.95"/>
<circle cx="960.06" cy="1817.4" r="1.85"/>
<circle cx="989.14" cy="1817.4" r="1.85"/>
<circle cx="1018.22" cy="1817.4" r="2.1"/>
<circle cx="1047.3" cy="1817.4" r="2.05"/>
<circle cx="1076.38" cy="1817.4" r="2.05"/>
<circle cx="1105.46" cy="1817.4" r="1.8"/>
<circle cx="1134.54" cy="1817.4" r="2.3"/>
<circle cx="1163.62" cy="1817.4" r="5.25"/>
<circle cx="1192.7" cy="1817.4" r="4.75"/>
<circle cx="1221.78" cy="1817.4" r="3.8"/>
<circle cx="1250.86" cy="1817.4" r="4"/>
<circle cx="1279.94" cy="1817.4" r="1.8"/>
<circle cx="1309.02" cy="1817.4" r="1.8"/>
<circle cx="1338.1" cy="1817.4" r="1.8"/>
<circle cx="1367.18" cy="1817.4" r="1.8"/>
<circle cx="1396.26" cy="1817.4" r="1.8"/>
</g>
<g fill="#f8dc68" stroke="#f0d564" stroke-width="0.55">
<circle cx="174.9" cy="1845.8" r="5.55"/>
<circle cx="203.98" cy="1845.8" r="3.55"/>
<circle cx="233.06" cy="1845.8" r="5.85"/>
<circle cx="262.14" cy="1845.8" r="2.7"/>
<circle cx="291.22" cy="1845.8" r="3.55"/>
<circle cx="320.3" cy="1845.8" r="3.85"/>
<circle cx="349.38" cy="1845.8" r="2.7"/>
<circle cx="378.46" cy="1845.8" r="2.4"/>
<circle cx="407.54" cy="1845.8" r="2.4"/>
<circle cx="436.62" cy="1845.8" r="2.4"/>
<circle cx="465.7" cy="1845.8" r="2.1"/>
<circle cx="494.78" cy="1845.8" r="2.1"/>
<circle cx="523.86" cy="1845.8" r="2.1"/>
<circle cx="552.94" cy="1845.8" r="2.1"/>
<circle cx="582.02" cy="1845.8" r="2.1"/>
<circle cx="611.1" cy="1845.8" r="8.35"/>
<circle cx="640.18" cy="1845.8" r="4.95"/>
<circle cx="669.26" cy="1845.8" r="1.85"/>
<circle cx="698.34" cy="1845.8" r="1.85"/>
<circle cx="727.42" cy="1845.8" r="1.85"/>
<circle cx="756.5" cy="1845.8" r="2.1"/>
<circle cx="785.58" cy="1845.8" r="1.85"/>
<circle cx="814.66" cy="1845.8" r="1.85"/>
<circle cx="843.74" cy="1845.8" r="1.85"/>
<circle cx="872.82" cy="1845.8" r="2.4"/>
<circle cx="901.9" cy="1845.8" r="2.1"/>
<circle cx="930.98" cy="1845.8" r="2.1"/>
<circle cx="960.06" cy="1845.8" r="2.1"/>
<circle cx="989.14" cy="1845.8" r="1.85"/>
<circle cx="1018.22" cy="1845.8" r="3.25"/>
<circle cx="1047.3" cy="1845.8" r="1.8"/>
<circle cx="1076.38" cy="1845.8" r="3.55"/>
<circle cx="1105.46" cy="1845.8" r="1.8"/>
<circle cx="1134.54" cy="1845.8" r="2.05"/>
<circle cx="1163.62" cy="1845.8" r="2.8"/>
<circle cx="1192.7" cy="1845.8" r="2.55"/>
<circle cx="1221.78" cy="1845.8" r="2.55"/>
<circle cx="1250.86" cy="1845.8" r="2.55"/>
<circle cx="1279.94" cy="1845.8" r="2.05"/>
<circle cx="1309.02" cy="1845.8" r="13.1"/>
<circle cx="1338.1" cy="1845.8" r="5.25"/>
<circle cx="1367.18" cy="1845.8" r="5.75"/>
<circle cx="1396.26" cy="1845.8" r="4.75"/>
</g>
<g fill="#f28005" stroke="#cb6b04" stroke-width="0.55">
<circle cx="174.9" cy="1874.2" r="6.95"/>
<circle cx="203.98" cy="1874.2" r="4.4"/>
<circle cx="233.06" cy="1874.2" r="6.35"/>
<circle cx="262.14" cy="1874.2" r="2.7"/>
<circle cx="291.22" cy="1874.2" r="4.95"/>
<circle cx="320.3" cy="1874.2" r="4.95"/>
<circle cx="349.38" cy="1874.2" r="3.85"/>
<circle cx="378.46" cy="1874.2" r="2.95"/>
<circle cx="407.54" cy="1874.2" r="2.7"/>
<circle cx="436.62" cy="1874.2" r="2.7"/>
<circle cx="465.7" cy="1874.2" r="2.1"/>
<circle cx="494.78" cy="1874.2" r="2.1"/>
<circle cx="523.86" cy="1874.2" r="2.1"/>
<circle cx="552.94" cy="1874.2" r="2.1"/>
<circle cx="582.02" cy="1874.2" r="2.4"/>
<circle cx="611.1" cy="1874.2" r="8.65"/>
<circle cx="640.18" cy="1874.2" r="5.85"/>
<circle cx="669.26" cy="1874.2" r="2.4"/>
<circle cx="698.34" cy="1874.2" r="3.55"/>
<circle cx="727.42" cy="1874.2" r="2.95"/>
<circle cx="756.5" cy="1874.2" r="3.25"/>
<circle cx="785.58" cy="1874.2" r="1.55"/>
<circle cx="814.66" cy="1874.2" r="2.4"/>
<circle cx="843.74" cy="1874.2" r="1.85"/>
<circle cx="872.82" cy="1874.2" r="3.55"/>
<circle cx="901.9" cy="1874.2" r="2.4"/>
<circle cx="930.98" cy="1874.2" r="3.55"/>
<circle cx="960.06" cy="1874.2" r="1.85"/>
<circle cx="989.14" cy="1874.2" r="2.1"/>
<circle cx="1018.22" cy="1874.2" r="3.55"/>
<circle cx="1047.3" cy="1874.2" r="2.55"/>
<circle cx="1076.38" cy="1874.2" r="5.25"/>
<circle cx="1105.46" cy="1874.2" r="3.8"/>
<circle cx="1134.54" cy="1874.2" r="2.55"/>
<circle cx="1163.62" cy="1874.2" r="3.8"/>
<circle cx="1192.7" cy="1874.2" r="3.3"/>
<circle cx="1221.78" cy="1874.2" r="2.8"/>
<circle cx="1250.86" cy="1874.2" r="3.05"/>
<circle cx="1279.94" cy="1874.2" r="1.8"/>
<circle cx="1309.02" cy="1874.2" r="9.15"/>
<circle cx="1338.1" cy="1874.2" r="4.25"/>
<circle cx="1367.18" cy="1874.2" r="4.75"/>
<circle cx="1396.26" cy="1874.2" r="5.25"/>
</g>
<g fill="#f4e18f" stroke="#ecda8a" stroke-width="0.55">
<circle cx="174.9" cy="1902.6" r="7.8"/>
<circle cx="203.98" cy="1902.6" r="2.4"/>
<circle cx="233.06" cy="1902.6" r="7.8"/>
<circle cx="262.14" cy="1902.6" r="2.95"/>
<circle cx="291.22" cy="1902.6" r="4.95"/>
<circle cx="320.3" cy="1902.6" r="4.7"/>
<circle cx="349.38" cy="1902.6" r="4.7"/>
<circle cx="378.46" cy="1902.6" r="4.1"/>
<circle cx="407.54" cy="1902.6" r="2.95"/>
<circle cx="436.62" cy="1902.6" r="2.7"/>
<circle cx="465.7" cy="1902.6" r="1.85"/>
<circle cx="494.78" cy="1902.6" r="1.55"/>
<circle cx="523.86" cy="1902.6" r="1.55"/>
<circle cx="552.94" cy="1902.6" r="1.55"/>
<circle cx="582.02" cy="1902.6" r="4.95"/>
<circle cx="611.1" cy="1902.6" r="8.35"/>
<circle cx="640.18" cy="1902.6" r="10.35"/>
<circle cx="669.26" cy="1902.6" r="1.85"/>
<circle cx="698.34" cy="1902.6" r="1.85"/>
<circle cx="727.42" cy="1902.6" r="2.1"/>
<circle cx="756.5" cy="1902.6" r="2.7"/>
<circle cx="785.58" cy="1902.6" r="1.55"/>
<circle cx="814.66" cy="1902.6" r="2.95"/>
<circle cx="843.74" cy="1902.6" r="1.55"/>
<circle cx="872.82" cy="1902.6" r="2.95"/>
<circle cx="901.9" cy="1902.6" r="1.85"/>
<circle cx="930.98" cy="1902.6" r="2.95"/>
<circle cx="960.06" cy="1902.6" r="1.55"/>
<circle cx="989.14" cy="1902.6" r="1.85"/>
<circle cx="1018.22" cy="1902.6" r="3.25"/>
<circle cx="1047.3" cy="1902.6" r="1.55"/>
<circle cx="1076.38" cy="1902.6" r="4.5"/>
<circle cx="1105.46" cy="1902.6" r="2.05"/>
<circle cx="1134.54" cy="1902.6" r="1.8"/>
<circle cx="1163.62" cy="1902.6" r="3.55"/>
<circle cx="1192.7" cy="1902.6" r="3.05"/>
<circle cx="1221.78" cy="1902.6" r="3.05"/>
<circle cx="1250.86" cy="1902.6" r="2.8"/>
<circle cx="1279.94" cy="1902.6" r="1.55"/>
<circle cx="1309.02" cy="1902.6" r="3.55"/>
<circle cx="1338.1" cy="1902.6" r="2.3"/>
<circle cx="1367.18" cy="1902.6" r="2.8"/>
<circle cx="1396.26" cy="1902.6" r="1.8"/>
</g>
<g fill="#f4c14e" stroke="#ecbb4b" stroke-width="0.55">
<circle cx="174.9" cy="1931" r="7.8"/>
<circle cx="203.98" cy="1931" r="2.4"/>
<circle cx="233.06" cy="1931" r="6.95"/>
<circle cx="262.14" cy="1931" r="2.95"/>
<circle cx="291.22" cy="1931" r="5.25"/>
<circle cx="320.3" cy="1931" r="4.95"/>
<circle cx="349.38" cy="1931" r="4.95"/>
<circle cx="378.46" cy="1931" r="4.1"/>
<circle cx="407.54" cy="1931" r="2.95"/>
<circle cx="436.62" cy="1931" r="2.95"/>
<circle cx="465.7" cy="1931" r="1.85"/>
<circle cx="494.78" cy="1931" r="1.85"/>
<circle cx="523.86" cy="1931" r="1.85"/>
<circle cx="552.94" cy="1931" r="1.85"/>
<circle cx="582.02" cy="1931" r="6.95"/>
<circle cx="611.1" cy="1931" r="3.55"/>
<circle cx="640.18" cy="1931" r="11.2"/>
<circle cx="669.26" cy="1931" r="2.7"/>
<circle cx="698.34" cy="1931" r="2.95"/>
<circle cx="727.42" cy="1931" r="3.25"/>
<circle cx="756.5" cy="1931" r="2.7"/>
<circle cx="785.58" cy="1931" r="1.85"/>
<circle cx="814.66" cy="1931" r="4.1"/>
<circle cx="843.74" cy="1931" r="1.85"/>
<circle cx="872.82" cy="1931" r="4.4"/>
<circle cx="901.9" cy="1931" r="2.95"/>
<circle cx="930.98" cy="1931" r="4.1"/>
<circle cx="960.06" cy="1931" r="1.85"/>
<circle cx="989.14" cy="1931" r="2.1"/>
<circle cx="1018.22" cy="1931" r="3.55"/>
<circle cx="1047.3" cy="1931" r="2.55"/>
<circle cx="1076.38" cy="1931" r="5"/>
<circle cx="1105.46" cy="1931" r="4.5"/>
<circle cx="1134.54" cy="1931" r="2.8"/>
<circle cx="1163.62" cy="1931" r="3.8"/>
<circle cx="1192.7" cy="1931" r="3.3"/>
<circle cx="1221.78" cy="1931" r="3.05"/>
<circle cx="1250.86" cy="1931" r="2.3"/>
<circle cx="1279.94" cy="1931" r="1.55"/>
<circle cx="1309.02" cy="1931" r="2.05"/>
<circle cx="1338.1" cy="1931" r="1.55"/>
<circle cx="1367.18" cy="1931" r="2.05"/>
<circle cx="1396.26" cy="1931" r="2.05"/>
</g>
<g fill="#f0b722" stroke="#c9991c" stroke-width="0.55">
<circle cx="174.9" cy="1959.4" r="7.8"/>
<circle cx="203.98" cy="1959.4" r="1.85"/>
<circle cx="233.06" cy="1959.4" r="6.65"/>
<circle cx="262.14" cy="1959.4" r="2.95"/>
<circle cx="291.22" cy="1959.4" r="5.25"/>
<circle cx="320.3" cy="1959.4" r="5.25"/>
<circle cx="349.38" cy="1959.4" r="4.95"/>
<circle cx="378.46" cy="1959.4" r="3.85"/>
<circle cx="407.54" cy="1959.4" r="2.95"/>
<circle cx="436.62" cy="1959.4" r="3.25"/>
<circle cx="465.7" cy="1959.4" r="2.7"/>
<circle cx="494.78" cy="1959.4" r="1.85"/>
<circle cx="523.86" cy="1959.4" r="1.85"/>
<circle cx="552.94" cy="1959.4" r="1.85"/>
<circle cx="582.02" cy="1959.4" r="6.95"/>
<circle cx="611.1" cy="1959.4" r="2.1"/>
<circle cx="640.18" cy="1959.4" r="10.65"/>
<circle cx="669.26" cy="1959.4" r="2.4"/>
<circle cx="698.34" cy="1959.4" r="2.7"/>
<circle cx="727.42" cy="1959.4" r="2.7"/>
<circle cx="756.5" cy="1959.4" r="3.25"/>
<circle cx="785.58" cy="1959.4" r="1.55"/>
<circle cx="814.66" cy="1959.4" r="4.1"/>
<circle cx="843.74" cy="1959.4" r="1.85"/>
<circle cx="872.82" cy="1959.4" r="3.55"/>
<circle cx="901.9" cy="1959.4" r="2.7"/>
<circle cx="930.98" cy="1959.4" r="4.1"/>
<circle cx="960.06" cy="1959.4" r="1.85"/>
<circle cx="989.14" cy="1959.4" r="2.1"/>
<circle cx="1018.22" cy="1959.4" r="3.55"/>
<circle cx="1047.3" cy="1959.4" r="2.8"/>
<circle cx="1076.38" cy="1959.4" r="7.2"/>
<circle cx="1105.46" cy="1959.4" r="3.8"/>
<circle cx="1134.54" cy="1959.4" r="3.3"/>
<circle cx="1163.62" cy="1959.4" r="3.8"/>
<circle cx="1192.7" cy="1959.4" r="3.3"/>
<circle cx="1221.78" cy="1959.4" r="3.05"/>
<circle cx="1250.86" cy="1959.4" r="2.55"/>
<circle cx="1279.94" cy="1959.4" r="2.05"/>
<circle cx="1309.02" cy="1959.4" r="2.05"/>
<circle cx="1338.1" cy="1959.4" r="1.8"/>
<circle cx="1367.18" cy="1959.4" r="2.3"/>
<circle cx="1396.26" cy="1959.4" r="2.05"/>
</g>
<g fill="#c8852a" stroke="#a86f23" stroke-width="0.55">
<circle cx="174.9" cy="1987.8" r="7.8"/>
<circle cx="203.98" cy="1987.8" r="1.85"/>
<circle cx="233.06" cy="1987.8" r="6.65"/>
<circle cx="262.14" cy="1987.8" r="2.95"/>
<circle cx="291.22" cy="1987.8" r="5.25"/>
<circle cx="320.3" cy="1987.8" r="5.55"/>
<circle cx="349.38" cy="1987.8" r="4.95"/>
<circle cx="378.46" cy="1987.8" r="3.85"/>
<circle cx="407.54" cy="1987.8" r="2.95"/>
<circle cx="436.62" cy="1987.8" r="2.7"/>
<circle cx="465.7" cy="1987.8" r="2.95"/>
<circle cx="494.78" cy="1987.8" r="1.85"/>
<circle cx="523.86" cy="1987.8" r="1.85"/>
<circle cx="552.94" cy="1987.8" r="1.85"/>
<circle cx="582.02" cy="1987.8" r="7.8"/>
<circle cx="611.1" cy="1987.8" r="2.1"/>
<circle cx="640.18" cy="1987.8" r="11.8"/>
<circle cx="669.26" cy="1987.8" r="2.4"/>
<circle cx="698.34" cy="1987.8" r="2.95"/>
<circle cx="727.42" cy="1987.8" r="2.95"/>
<circle cx="756.5" cy="1987.8" r="3.55"/>
<circle cx="785.58" cy="1987.8" r="1.85"/>
<circle cx="814.66" cy="1987.8" r="4.1"/>
<circle cx="843.74" cy="1987.8" r="1.85"/>
<circle cx="872.82" cy="1987.8" r="3.85"/>
<circle cx="901.9" cy="1987.8" r="2.7"/>
<circle cx="930.98" cy="1987.8" r="4.7"/>
<circle cx="960.06" cy="1987.8" r="1.85"/>
<circle cx="989.14" cy="1987.8" r="2.1"/>
<circle cx="1018.22" cy="1987.8" r="3.25"/>
<circle cx="1047.3" cy="1987.8" r="1.8"/>
<circle cx="1076.38" cy="1987.8" r="4"/>
<circle cx="1105.46" cy="1987.8" r="2.05"/>
<circle cx="1134.54" cy="1987.8" r="2.05"/>
<circle cx="1163.62" cy="1987.8" r="4"/>
<circle cx="1192.7" cy="1987.8" r="3.55"/>
<circle cx="1221.78" cy="1987.8" r="3.55"/>
<circle cx="1250.86" cy="1987.8" r="3.3"/>
<circle cx="1279.94" cy="1987.8" r="2.05"/>
<circle cx="1309.02" cy="1987.8" r="1.8"/>
<circle cx="1338.1" cy="1987.8" r="1.8"/>
<circle cx="1367.18" cy="1987.8" r="2.05"/>
<circle cx="1396.26" cy="1987.8" r="2.05"/>
</g>
<g fill="#d85712" stroke="#b5490f" stroke-width="0.55">
<circle cx="174.9" cy="2016.2" r="8.1"/>
<circle cx="203.98" cy="2016.2" r="1.85"/>
<circle cx="233.06" cy="2016.2" r="6.1"/>
<circle cx="262.14" cy="2016.2" r="2.95"/>
<circle cx="291.22" cy="2016.2" r="5.25"/>
<circle cx="320.3" cy="2016.2" r="4.95"/>
<circle cx="349.38" cy="2016.2" r="4.7"/>
<circle cx="378.46" cy="2016.2" r="3.55"/>
<circle cx="407.54" cy="2016.2" r="2.95"/>
<circle cx="436.62" cy="2016.2" r="2.4"/>
<circle cx="465.7" cy="2016.2" r="3.55"/>
<circle cx="494.78" cy="2016.2" r="1.85"/>
<circle cx="523.86" cy="2016.2" r="1.85"/>
<circle cx="552.94" cy="2016.2" r="1.85"/>
<circle cx="582.02" cy="2016.2" r="7.8"/>
<circle cx="611.1" cy="2016.2" r="2.4"/>
<circle cx="640.18" cy="2016.2" r="11.8"/>
<circle cx="669.26" cy="2016.2" r="2.7"/>
<circle cx="698.34" cy="2016.2" r="3.25"/>
<circle cx="727.42" cy="2016.2" r="3.25"/>
<circle cx="756.5" cy="2016.2" r="4.1"/>
<circle cx="785.58" cy="2016.2" r="1.85"/>
<circle cx="814.66" cy="2016.2" r="4.4"/>
<circle cx="843.74" cy="2016.2" r="2.1"/>
<circle cx="872.82" cy="2016.2" r="4.1"/>
<circle cx="901.9" cy="2016.2" r="3.25"/>
<circle cx="930.98" cy="2016.2" r="4.95"/>
<circle cx="960.06" cy="2016.2" r="2.1"/>
<circle cx="989.14" cy="2016.2" r="2.1"/>
<circle cx="1018.22" cy="2016.2" r="3.25"/>
<circle cx="1047.3" cy="2016.2" r="2.05"/>
<circle cx="1076.38" cy="2016.2" r="3.05"/>
<circle cx="1105.46" cy="2016.2" r="2.05"/>
<circle cx="1134.54" cy="2016.2" r="2.3"/>
<circle cx="1163.62" cy="2016.2" r="4.25"/>
<circle cx="1192.7" cy="2016.2" r="3.8"/>
<circle cx="1221.78" cy="2016.2" r="3.55"/>
<circle cx="1250.86" cy="2016.2" r="3.55"/>
<circle cx="1279.94" cy="2016.2" r="2.3"/>
<circle cx="1309.02" cy="2016.2" r="2.3"/>
<circle cx="1338.1" cy="2016.2" r="2.05"/>
<circle cx="1367.18" cy="2016.2" r="2.3"/>
<circle cx="1396.26" cy="2016.2" r="2.05"/>
</g>
<g fill="#fde1b0" stroke="#f5daaa" stroke-width="0.55">
<circle cx="174.9" cy="2044.6" r="7.25"/>
<circle cx="203.98" cy="2044.6" r="3.25"/>
<circle cx="233.06" cy="2044.6" r="11.2"/>
<circle cx="262.14" cy="2044.6" r="3.25"/>
<circle cx="291.22" cy="2044.6" r="4.7"/>
<circle cx="320.3" cy="2044.6" r="4.95"/>
<circle cx="349.38" cy="2044.6" r="2.4"/>
<circle cx="378.46" cy="2044.6" r="2.1"/>
<circle cx="407.54" cy="2044.6" r="2.4"/>
<circle cx="436.62" cy="2044.6" r="2.1"/>
<circle cx="465.7" cy="2044.6" r="2.1"/>
<circle cx="494.78" cy="2044.6" r="4.95"/>
<circle cx="523.86" cy="2044.6" r="8.35"/>
<circle cx="552.94" cy="2044.6" r="9.5"/>
<circle cx="582.02" cy="2044.6" r="1.55"/>
<circle cx="611.1" cy="2044.6" r="1.55"/>
<circle cx="640.18" cy="2044.6" r="1.55"/>
<circle cx="669.26" cy="2044.6" r="1.55"/>
<circle cx="698.34" cy="2044.6" r="1.55"/>
<circle cx="727.42" cy="2044.6" r="1.55"/>
<circle cx="756.5" cy="2044.6" r="1.55"/>
<circle cx="785.58" cy="2044.6" r="1.55"/>
<circle cx="814.66" cy="2044.6" r="1.55"/>
<circle cx="843.74" cy="2044.6" r="1.55"/>
<circle cx="872.82" cy="2044.6" r="1.55"/>
<circle cx="901.9" cy="2044.6" r="1.55"/>
<circle cx="930.98" cy="2044.6" r="1.55"/>
<circle cx="960.06" cy="2044.6" r="1.55"/>
<circle cx="989.14" cy="2044.6" r="2.1"/>
<circle cx="1018.22" cy="2044.6" r="2.4"/>
<circle cx="1047.3" cy="2044.6" r="1.8"/>
<circle cx="1076.38" cy="2044.6" r="1.8"/>
<circle cx="1105.46" cy="2044.6" r="1.8"/>
<circle cx="1134.54" cy="2044.6" r="1.8"/>
<circle cx="1163.62" cy="2044.6" r="3.05"/>
<circle cx="1192.7" cy="2044.6" r="3.05"/>
<circle cx="1221.78" cy="2044.6" r="3.05"/>
<circle cx="1250.86" cy="2044.6" r="3.05"/>
<circle cx="1279.94" cy="2044.6" r="1.8"/>
<circle cx="1309.02" cy="2044.6" r="1.8"/>
<circle cx="1338.1" cy="2044.6" r="1.8"/>
<circle cx="1367.18" cy="2044.6" r="1.8"/>
<circle cx="1396.26" cy="2044.6" r="1.8"/>
</g>
<g fill="#df8812" stroke="#bb720f" stroke-width="0.55">
<circle cx="174.9" cy="2073" r="7.8"/>
<circle cx="203.98" cy="2073" r="3.55"/>
<circle cx="233.06" cy="2073" r="10.35"/>
<circle cx="262.14" cy="2073" r="2.95"/>
<circle cx="291.22" cy="2073" r="5.25"/>
<circle cx="320.3" cy="2073" r="5.25"/>
<circle cx="349.38" cy="2073" r="3.25"/>
<circle cx="378.46" cy="2073" r="2.7"/>
<circle cx="407.54" cy="2073" r="2.7"/>
<circle cx="436.62" cy="2073" r="2.7"/>
<circle cx="465.7" cy="2073" r="2.4"/>
<circle cx="494.78" cy="2073" r="4.95"/>
<circle cx="523.86" cy="2073" r="11.2"/>
<circle cx="552.94" cy="2073" r="7.25"/>
<circle cx="582.02" cy="2073" r="1.55"/>
<circle cx="611.1" cy="2073" r="2.1"/>
<circle cx="640.18" cy="2073" r="2.1"/>
<circle cx="669.26" cy="2073" r="2.7"/>
<circle cx="698.34" cy="2073" r="2.1"/>
<circle cx="727.42" cy="2073" r="2.4"/>
<circle cx="756.5" cy="2073" r="2.1"/>
<circle cx="785.58" cy="2073" r="2.1"/>
<circle cx="814.66" cy="2073" r="2.1"/>
<circle cx="843.74" cy="2073" r="2.1"/>
<circle cx="872.82" cy="2073" r="2.1"/>
<circle cx="901.9" cy="2073" r="2.1"/>
<circle cx="930.98" cy="2073" r="2.1"/>
<circle cx="960.06" cy="2073" r="2.1"/>
<circle cx="989.14" cy="2073" r="2.1"/>
<circle cx="1018.22" cy="2073" r="2.4"/>
<circle cx="1047.3" cy="2073" r="2.05"/>
<circle cx="1076.38" cy="2073" r="1.8"/>
<circle cx="1105.46" cy="2073" r="1.8"/>
<circle cx="1134.54" cy="2073" r="1.8"/>
<circle cx="1163.62" cy="2073" r="3.3"/>
<circle cx="1192.7" cy="2073" r="3.3"/>
<circle cx="1221.78" cy="2073" r="3.05"/>
<circle cx="1250.86" cy="2073" r="3.05"/>
<circle cx="1279.94" cy="2073" r="2.55"/>
<circle cx="1309.02" cy="2073" r="1.8"/>
<circle cx="1338.1" cy="2073" r="1.8"/>
<circle cx="1367.18" cy="2073" r="1.8"/>
<circle cx="1396.26" cy="2073" r="2.55"/>
</g>
<g fill="#f26848" stroke="#cb573c" stroke-width="0.55">
<circle cx="174.9" cy="2101.4" r="7.8"/>
<circle cx="203.98" cy="2101.4" r="3.55"/>
<circle cx="233.06" cy="2101.4" r="9.5"/>
<circle cx="262.14" cy="2101.4" r="2.95"/>
<circle cx="291.22" cy="2101.4" r="5.55"/>
<circle cx="320.3" cy="2101.4" r="5.55"/>
<circle cx="349.38" cy="2101.4" r="3.25"/>
<circle cx="378.46" cy="2101.4" r="2.4"/>
<circle cx="407.54" cy="2101.4" r="2.95"/>
<circle cx="436.62" cy="2101.4" r="2.7"/>
<circle cx="465.7" cy="2101.4" r="2.4"/>
<circle cx="494.78" cy="2101.4" r="3.85"/>
<circle cx="523.86" cy="2101.4" r="10.65"/>
<circle cx="552.94" cy="2101.4" r="7.8"/>
<circle cx="582.02" cy="2101.4" r="1.55"/>
<circle cx="611.1" cy="2101.4" r="2.1"/>
<circle cx="640.18" cy="2101.4" r="2.1"/>
<circle cx="669.26" cy="2101.4" r="3.55"/>
<circle cx="698.34" cy="2101.4" r="2.4"/>
<circle cx="727.42" cy="2101.4" r="2.7"/>
<circle cx="756.5" cy="2101.4" r="2.1"/>
<circle cx="785.58" cy="2101.4" r="3.25"/>
<circle cx="814.66" cy="2101.4" r="1.85"/>
<circle cx="843.74" cy="2101.4" r="1.85"/>
<circle cx="872.82" cy="2101.4" r="2.1"/>
<circle cx="901.9" cy="2101.4" r="2.4"/>
<circle cx="930.98" cy="2101.4" r="1.85"/>
<circle cx="960.06" cy="2101.4" r="1.85"/>
<circle cx="989.14" cy="2101.4" r="1.85"/>
<circle cx="1018.22" cy="2101.4" r="2.7"/>
<circle cx="1047.3" cy="2101.4" r="1.8"/>
<circle cx="1076.38" cy="2101.4" r="1.8"/>
<circle cx="1105.46" cy="2101.4" r="1.8"/>
<circle cx="1134.54" cy="2101.4" r="1.8"/>
<circle cx="1163.62" cy="2101.4" r="4"/>
<circle cx="1192.7" cy="2101.4" r="4"/>
<circle cx="1221.78" cy="2101.4" r="3.55"/>
<circle cx="1250.86" cy="2101.4" r="3.8"/>
<circle cx="1279.94" cy="2101.4" r="2.3"/>
<circle cx="1309.02" cy="2101.4" r="1.8"/>
<circle cx="1338.1" cy="2101.4" r="1.8"/>
<circle cx="1367.18" cy="2101.4" r="1.8"/>
<circle cx="1396.26" cy="2101.4" r="2.3"/>
</g>
<g fill="#3a1919" stroke="#301515" stroke-width="0.55">
<circle cx="174.9" cy="2129.8" r="8.1"/>
<circle cx="203.98" cy="2129.8" r="3.55"/>
<circle cx="233.06" cy="2129.8" r="7.25"/>
<circle cx="262.14" cy="2129.8" r="2.95"/>
<circle cx="291.22" cy="2129.8" r="6.1"/>
<circle cx="320.3" cy="2129.8" r="4.1"/>
<circle cx="349.38" cy="2129.8" r="2.95"/>
<circle cx="378.46" cy="2129.8" r="2.4"/>
<circle cx="407.54" cy="2129.8" r="2.7"/>
<circle cx="436.62" cy="2129.8" r="2.4"/>
<circle cx="465.7" cy="2129.8" r="2.95"/>
<circle cx="494.78" cy="2129.8" r="7.25"/>
<circle cx="523.86" cy="2129.8" r="10.65"/>
<circle cx="552.94" cy="2129.8" r="7.8"/>
<circle cx="582.02" cy="2129.8" r="1.85"/>
<circle cx="611.1" cy="2129.8" r="2.1"/>
<circle cx="640.18" cy="2129.8" r="2.1"/>
<circle cx="669.26" cy="2129.8" r="4.4"/>
<circle cx="698.34" cy="2129.8" r="2.95"/>
<circle cx="727.42" cy="2129.8" r="3.55"/>
<circle cx="756.5" cy="2129.8" r="2.7"/>
<circle cx="785.58" cy="2129.8" r="4.7"/>
<circle cx="814.66" cy="2129.8" r="1.85"/>
<circle cx="843.74" cy="2129.8" r="1.85"/>
<circle cx="872.82" cy="2129.8" r="2.7"/>
<circle cx="901.9" cy="2129.8" r="2.4"/>
<circle cx="930.98" cy="2129.8" r="2.4"/>
<circle cx="960.06" cy="2129.8" r="2.1"/>
<circle cx="989.14" cy="2129.8" r="1.85"/>
<circle cx="1018.22" cy="2129.8" r="2.4"/>
<circle cx="1047.3" cy="2129.8" r="2.05"/>
<circle cx="1076.38" cy="2129.8" r="2.05"/>
<circle cx="1105.46" cy="2129.8" r="2.05"/>
<circle cx="1134.54" cy="2129.8" r="2.05"/>
<circle cx="1163.62" cy="2129.8" r="4.5"/>
<circle cx="1192.7" cy="2129.8" r="4.75"/>
<circle cx="1221.78" cy="2129.8" r="4.25"/>
<circle cx="1250.86" cy="2129.8" r="4"/>
<circle cx="1279.94" cy="2129.8" r="2.8"/>
<circle cx="1309.02" cy="2129.8" r="1.8"/>
<circle cx="1338.1" cy="2129.8" r="1.8"/>
<circle cx="1367.18" cy="2129.8" r="1.8"/>
<circle cx="1396.26" cy="2129.8" r="2.05"/>
</g>
<g fill="#fdb2ba" stroke="#f5acb4" stroke-width="0.55">
<circle cx="174.9" cy="2158.2" r="6.35"/>
<circle cx="203.98" cy="2158.2" r="3.55"/>
<circle cx="233.06" cy="2158.2" r="6.95"/>
<circle cx="262.14" cy="2158.2" r="2.7"/>
<circle cx="291.22" cy="2158.2" r="4.1"/>
<circle cx="320.3" cy="2158.2" r="4.4"/>
<circle cx="349.38" cy="2158.2" r="4.1"/>
<circle cx="378.46" cy="2158.2" r="3.55"/>
<circle cx="407.54" cy="2158.2" r="2.7"/>
<circle cx="436.62" cy="2158.2" r="2.7"/>
<circle cx="465.7" cy="2158.2" r="4.7"/>
<circle cx="494.78" cy="2158.2" r="14.6"/>
<circle cx="523.86" cy="2158.2" r="2.1"/>
<circle cx="552.94" cy="2158.2" r="6.35"/>
<circle cx="582.02" cy="2158.2" r="1.55"/>
<circle cx="611.1" cy="2158.2" r="1.55"/>
<circle cx="640.18" cy="2158.2" r="1.55"/>
<circle cx="669.26" cy="2158.2" r="1.55"/>
<circle cx="698.34" cy="2158.2" r="1.55"/>
<circle cx="727.42" cy="2158.2" r="1.55"/>
<circle cx="756.5" cy="2158.2" r="1.55"/>
<circle cx="785.58" cy="2158.2" r="1.55"/>
<circle cx="814.66" cy="2158.2" r="1.55"/>
<circle cx="843.74" cy="2158.2" r="1.55"/>
<circle cx="872.82" cy="2158.2" r="1.55"/>
<circle cx="901.9" cy="2158.2" r="1.55"/>
<circle cx="930.98" cy="2158.2" r="1.55"/>
<circle cx="960.06" cy="2158.2" r="1.55"/>
<circle cx="989.14" cy="2158.2" r="2.4"/>
<circle cx="1018.22" cy="2158.2" r="2.4"/>
<circle cx="1047.3" cy="2158.2" r="1.8"/>
<circle cx="1076.38" cy="2158.2" r="1.8"/>
<circle cx="1105.46" cy="2158.2" r="1.8"/>
<circle cx="1134.54" cy="2158.2" r="2.05"/>
<circle cx="1163.62" cy="2158.2" r="2.55"/>
<circle cx="1192.7" cy="2158.2" r="2.55"/>
<circle cx="1221.78" cy="2158.2" r="3.05"/>
<circle cx="1250.86" cy="2158.2" r="3.05"/>
<circle cx="1279.94" cy="2158.2" r="3.05"/>
<circle cx="1309.02" cy="2158.2" r="1.8"/>
<circle cx="1338.1" cy="2158.2" r="1.8"/>
<circle cx="1367.18" cy="2158.2" r="1.8"/>
<circle cx="1396.26" cy="2158.2" r="1.8"/>
</g>
<g fill="#f0406e" stroke="#c9355c" stroke-width="0.55">
<circle cx="174.9" cy="2186.6" r="5.85"/>
<circle cx="203.98" cy="2186.6" r="4.4"/>
<circle cx="233.06" cy="2186.6" r="4.4"/>
<circle cx="262.14" cy="2186.6" r="2.95"/>
<circle cx="291.22" cy="2186.6" r="4.4"/>
<circle cx="320.3" cy="2186.6" r="4.7"/>
<circle cx="349.38" cy="2186.6" r="3.25"/>
<circle cx="378.46" cy="2186.6" r="2.7"/>
<circle cx="407.54" cy="2186.6" r="2.7"/>
<circle cx="436.62" cy="2186.6" r="2.4"/>
<circle cx="465.7" cy="2186.6" r="5.85"/>
<circle cx="494.78" cy="2186.6" r="15.75"/>
<circle cx="523.86" cy="2186.6" r="2.4"/>
<circle cx="552.94" cy="2186.6" r="4.7"/>
<circle cx="582.02" cy="2186.6" r="1.55"/>
<circle cx="611.1" cy="2186.6" r="1.85"/>
<circle cx="640.18" cy="2186.6" r="1.85"/>
<circle cx="669.26" cy="2186.6" r="1.85"/>
<circle cx="698.34" cy="2186.6" r="1.85"/>
<circle cx="727.42" cy="2186.6" r="1.85"/>
<circle cx="756.5" cy="2186.6" r="1.85"/>
<circle cx="785.58" cy="2186.6" r="1.85"/>
<circle cx="814.66" cy="2186.6" r="1.85"/>
<circle cx="843.74" cy="2186.6" r="1.85"/>
<circle cx="872.82" cy="2186.6" r="1.85"/>
<circle cx="901.9" cy="2186.6" r="1.85"/>
<circle cx="930.98" cy="2186.6" r="1.85"/>
<circle cx="960.06" cy="2186.6" r="1.85"/>
<circle cx="989.14" cy="2186.6" r="1.85"/>
<circle cx="1018.22" cy="2186.6" r="2.4"/>
<circle cx="1047.3" cy="2186.6" r="1.8"/>
<circle cx="1076.38" cy="2186.6" r="1.8"/>
<circle cx="1105.46" cy="2186.6" r="1.8"/>
<circle cx="1134.54" cy="2186.6" r="1.8"/>
<circle cx="1163.62" cy="2186.6" r="2.55"/>
<circle cx="1192.7" cy="2186.6" r="2.55"/>
<circle cx="1221.78" cy="2186.6" r="3.05"/>
<circle cx="1250.86" cy="2186.6" r="2.8"/>
<circle cx="1279.94" cy="2186.6" r="3.05"/>
<circle cx="1309.02" cy="2186.6" r="1.8"/>
<circle cx="1338.1" cy="2186.6" r="1.8"/>
<circle cx="1367.18" cy="2186.6" r="1.8"/>
<circle cx="1396.26" cy="2186.6" r="2.3"/>
</g>
<g fill="#d52a18" stroke="#b22314" stroke-width="0.55">
<circle cx="174.9" cy="2215" r="6.95"/>
<circle cx="203.98" cy="2215" r="4.7"/>
<circle cx="233.06" cy="2215" r="4.95"/>
<circle cx="262.14" cy="2215" r="2.95"/>
<circle cx="291.22" cy="2215" r="4.7"/>
<circle cx="320.3" cy="2215" r="5.25"/>
<circle cx="349.38" cy="2215" r="3.85"/>
<circle cx="378.46" cy="2215" r="1.85"/>
<circle cx="407.54" cy="2215" r="2.7"/>
<circle cx="436.62" cy="2215" r="2.4"/>
<circle cx="465.7" cy="2215" r="5.55"/>
<circle cx="494.78" cy="2215" r="15.2"/>
<circle cx="523.86" cy="2215" r="2.95"/>
<circle cx="552.94" cy="2215" r="5.55"/>
<circle cx="582.02" cy="2215" r="1.85"/>
<circle cx="611.1" cy="2215" r="1.95"/>
<circle cx="640.18" cy="2215" r="1.95"/>
<circle cx="669.26" cy="2215" r="2.4"/>
<circle cx="698.34" cy="2215" r="1.95"/>
<circle cx="727.42" cy="2215" r="1.95"/>
<circle cx="756.5" cy="2215" r="1.95"/>
<circle cx="785.58" cy="2215" r="1.95"/>
<circle cx="814.66" cy="2215" r="1.95"/>
<circle cx="843.74" cy="2215" r="1.95"/>
<circle cx="872.82" cy="2215" r="1.95"/>
<circle cx="901.9" cy="2215" r="1.95"/>
<circle cx="930.98" cy="2215" r="1.95"/>
<circle cx="960.06" cy="2215" r="1.95"/>
<circle cx="989.14" cy="2215" r="1.95"/>
<circle cx="1018.22" cy="2215" r="2.4"/>
<circle cx="1047.3" cy="2215" r="2.05"/>
<circle cx="1076.38" cy="2215" r="2.05"/>
<circle cx="1105.46" cy="2215" r="2.05"/>
<circle cx="1134.54" cy="2215" r="2.05"/>
<circle cx="1163.62" cy="2215" r="2.8"/>
<circle cx="1192.7" cy="2215" r="3.05"/>
<circle cx="1221.78" cy="2215" r="3.55"/>
<circle cx="1250.86" cy="2215" r="3.05"/>
<circle cx="1279.94" cy="2215" r="3.3"/>
<circle cx="1309.02" cy="2215" r="2.05"/>
<circle cx="1338.1" cy="2215" r="2.05"/>
<circle cx="1367.18" cy="2215" r="2.05"/>
<circle cx="1396.26" cy="2215" r="2.3"/>
</g>
<g fill="#861b16" stroke="#701612" stroke-width="0.55">
<circle cx="174.9" cy="2243.4" r="7.5"/>
<circle cx="203.98" cy="2243.4" r="4.7"/>
<circle cx="233.06" cy="2243.4" r="4.95"/>
<circle cx="262.14" cy="2243.4" r="2.95"/>
<circle cx="291.22" cy="2243.4" r="5.25"/>
<circle cx="320.3" cy="2243.4" r="4.7"/>
<circle cx="349.38" cy="2243.4" r="4.1"/>
<circle cx="378.46" cy="2243.4" r="2.4"/>
<circle cx="407.54" cy="2243.4" r="2.95"/>
<circle cx="436.62" cy="2243.4" r="2.7"/>
<circle cx="465.7" cy="2243.4" r="5.55"/>
<circle cx="494.78" cy="2243.4" r="15.2"/>
<circle cx="523.86" cy="2243.4" r="3.25"/>
<circle cx="552.94" cy="2243.4" r="5.25"/>
<circle cx="582.02" cy="2243.4" r="1.85"/>
<circle cx="611.1" cy="2243.4" r="1.85"/>
<circle cx="640.18" cy="2243.4" r="1.85"/>
<circle cx="669.26" cy="2243.4" r="2.7"/>
<circle cx="698.34" cy="2243.4" r="2.4"/>
<circle cx="727.42" cy="2243.4" r="2.7"/>
<circle cx="756.5" cy="2243.4" r="1.85"/>
<circle cx="785.58" cy="2243.4" r="4.7"/>
<circle cx="814.66" cy="2243.4" r="1.85"/>
<circle cx="843.74" cy="2243.4" r="1.85"/>
<circle cx="872.82" cy="2243.4" r="2.1"/>
<circle cx="901.9" cy="2243.4" r="1.85"/>
<circle cx="930.98" cy="2243.4" r="1.85"/>
<circle cx="960.06" cy="2243.4" r="1.85"/>
<circle cx="989.14" cy="2243.4" r="1.85"/>
<circle cx="1018.22" cy="2243.4" r="2.4"/>
<circle cx="1047.3" cy="2243.4" r="2.05"/>
<circle cx="1076.38" cy="2243.4" r="2.05"/>
<circle cx="1105.46" cy="2243.4" r="2.05"/>
<circle cx="1134.54" cy="2243.4" r="2.05"/>
<circle cx="1163.62" cy="2243.4" r="3.05"/>
<circle cx="1192.7" cy="2243.4" r="3.3"/>
<circle cx="1221.78" cy="2243.4" r="3.8"/>
<circle cx="1250.86" cy="2243.4" r="3.55"/>
<circle cx="1279.94" cy="2243.4" r="3.3"/>
<circle cx="1309.02" cy="2243.4" r="2.05"/>
<circle cx="1338.1" cy="2243.4" r="2.05"/>
<circle cx="1367.18" cy="2243.4" r="2.05"/>
<circle cx="1396.26" cy="2243.4" r="2.3"/>
</g>
<g fill="#ebdff7" stroke="#e3d8ef" stroke-width="0.55">
<circle cx="174.9" cy="2271.8" r="5.55"/>
<circle cx="203.98" cy="2271.8" r="3.55"/>
<circle cx="233.06" cy="2271.8" r="6.95"/>
<circle cx="262.14" cy="2271.8" r="2.7"/>
<circle cx="291.22" cy="2271.8" r="4.4"/>
<circle cx="320.3" cy="2271.8" r="4.1"/>
<circle cx="349.38" cy="2271.8" r="1.85"/>
<circle cx="378.46" cy="2271.8" r="1.85"/>
<circle cx="407.54" cy="2271.8" r="1.85"/>
<circle cx="436.62" cy="2271.8" r="1.85"/>
<circle cx="465.7" cy="2271.8" r="1.85"/>
<circle cx="494.78" cy="2271.8" r="1.85"/>
<circle cx="523.86" cy="2271.8" r="1.85"/>
<circle cx="552.94" cy="2271.8" r="1.85"/>
<circle cx="582.02" cy="2271.8" r="2.7"/>
<circle cx="611.1" cy="2271.8" r="3.85"/>
<circle cx="640.18" cy="2271.8" r="4.7"/>
<circle cx="669.26" cy="2271.8" r="2.1"/>
<circle cx="698.34" cy="2271.8" r="2.1"/>
<circle cx="727.42" cy="2271.8" r="2.4"/>
<circle cx="756.5" cy="2271.8" r="3.55"/>
<circle cx="785.58" cy="2271.8" r="1.85"/>
<circle cx="814.66" cy="2271.8" r="2.7"/>
<circle cx="843.74" cy="2271.8" r="1.85"/>
<circle cx="872.82" cy="2271.8" r="1.85"/>
<circle cx="901.9" cy="2271.8" r="1.85"/>
<circle cx="930.98" cy="2271.8" r="3.25"/>
<circle cx="960.06" cy="2271.8" r="1.85"/>
<circle cx="989.14" cy="2271.8" r="2.1"/>
<circle cx="1018.22" cy="2271.8" r="3.25"/>
<circle cx="1047.3" cy="2271.8" r="3.05"/>
<circle cx="1076.38" cy="2271.8" r="7.95"/>
<circle cx="1105.46" cy="2271.8" r="11.65"/>
<circle cx="1134.54" cy="2271.8" r="6.45"/>
<circle cx="1163.62" cy="2271.8" r="3.55"/>
<circle cx="1192.7" cy="2271.8" r="3.05"/>
<circle cx="1221.78" cy="2271.8" r="2.3"/>
<circle cx="1250.86" cy="2271.8" r="2.05"/>
<circle cx="1279.94" cy="2271.8" r="2.05"/>
<circle cx="1309.02" cy="2271.8" r="2.55"/>
<circle cx="1338.1" cy="2271.8" r="2.05"/>
<circle cx="1367.18" cy="2271.8" r="2.05"/>
<circle cx="1396.26" cy="2271.8" r="3.3"/>
</g>
<g fill="#f9d8f0" stroke="#f1d1e8" stroke-width="0.55">
<circle cx="174.9" cy="2300.2" r="5.55"/>
<circle cx="203.98" cy="2300.2" r="3.85"/>
<circle cx="233.06" cy="2300.2" r="6.95"/>
<circle cx="262.14" cy="2300.2" r="2.7"/>
<circle cx="291.22" cy="2300.2" r="3.85"/>
<circle cx="320.3" cy="2300.2" r="4.4"/>
<circle cx="349.38" cy="2300.2" r="1.85"/>
<circle cx="378.46" cy="2300.2" r="1.85"/>
<circle cx="407.54" cy="2300.2" r="1.85"/>
<circle cx="436.62" cy="2300.2" r="1.85"/>
<circle cx="465.7" cy="2300.2" r="1.85"/>
<circle cx="494.78" cy="2300.2" r="1.85"/>
<circle cx="523.86" cy="2300.2" r="1.85"/>
<circle cx="552.94" cy="2300.2" r="1.85"/>
<circle cx="582.02" cy="2300.2" r="1.85"/>
<circle cx="611.1" cy="2300.2" r="1.55"/>
<circle cx="640.18" cy="2300.2" r="1.85"/>
<circle cx="669.26" cy="2300.2" r="1.85"/>
<circle cx="698.34" cy="2300.2" r="1.85"/>
<circle cx="727.42" cy="2300.2" r="2.7"/>
<circle cx="756.5" cy="2300.2" r="2.95"/>
<circle cx="785.58" cy="2300.2" r="1.85"/>
<circle cx="814.66" cy="2300.2" r="2.7"/>
<circle cx="843.74" cy="2300.2" r="1.55"/>
<circle cx="872.82" cy="2300.2" r="1.55"/>
<circle cx="901.9" cy="2300.2" r="1.55"/>
<circle cx="930.98" cy="2300.2" r="2.95"/>
<circle cx="960.06" cy="2300.2" r="1.85"/>
<circle cx="989.14" cy="2300.2" r="1.85"/>
<circle cx="1018.22" cy="2300.2" r="3.25"/>
<circle cx="1047.3" cy="2300.2" r="1.8"/>
<circle cx="1076.38" cy="2300.2" r="4.75"/>
<circle cx="1105.46" cy="2300.2" r="6.25"/>
<circle cx="1134.54" cy="2300.2" r="14.35"/>
<circle cx="1163.62" cy="2300.2" r="3.3"/>
<circle cx="1192.7" cy="2300.2" r="2.3"/>
<circle cx="1221.78" cy="2300.2" r="1.8"/>
<circle cx="1250.86" cy="2300.2" r="2.05"/>
<circle cx="1279.94" cy="2300.2" r="1.8"/>
<circle cx="1309.02" cy="2300.2" r="2.3"/>
<circle cx="1338.1" cy="2300.2" r="1.8"/>
<circle cx="1367.18" cy="2300.2" r="2.3"/>
<circle cx="1396.26" cy="2300.2" r="3.8"/>
</g>
<g fill="#e07ab8" stroke="#bc669a" stroke-width="0.55">
<circle cx="174.9" cy="2328.6" r="6.65"/>
<circle cx="203.98" cy="2328.6" r="2.4"/>
<circle cx="233.06" cy="2328.6" r="7.25"/>
<circle cx="262.14" cy="2328.6" r="2.95"/>
<circle cx="291.22" cy="2328.6" r="4.95"/>
<circle cx="320.3" cy="2328.6" r="5.55"/>
<circle cx="349.38" cy="2328.6" r="2.95"/>
<circle cx="378.46" cy="2328.6" r="2.4"/>
<circle cx="407.54" cy="2328.6" r="2.95"/>
<circle cx="436.62" cy="2328.6" r="2.95"/>
<circle cx="465.7" cy="2328.6" r="2.7"/>
<circle cx="494.78" cy="2328.6" r="2.1"/>
<circle cx="523.86" cy="2328.6" r="2.1"/>
<circle cx="552.94" cy="2328.6" r="2.1"/>
<circle cx="582.02" cy="2328.6" r="2.7"/>
<circle cx="611.1" cy="2328.6" r="1.85"/>
<circle cx="640.18" cy="2328.6" r="4.95"/>
<circle cx="669.26" cy="2328.6" r="1.85"/>
<circle cx="698.34" cy="2328.6" r="2.1"/>
<circle cx="727.42" cy="2328.6" r="2.4"/>
<circle cx="756.5" cy="2328.6" r="2.7"/>
<circle cx="785.58" cy="2328.6" r="1.85"/>
<circle cx="814.66" cy="2328.6" r="2.7"/>
<circle cx="843.74" cy="2328.6" r="1.85"/>
<circle cx="872.82" cy="2328.6" r="2.1"/>
<circle cx="901.9" cy="2328.6" r="1.85"/>
<circle cx="930.98" cy="2328.6" r="2.7"/>
<circle cx="960.06" cy="2328.6" r="1.85"/>
<circle cx="989.14" cy="2328.6" r="2.1"/>
<circle cx="1018.22" cy="2328.6" r="4.95"/>
<circle cx="1047.3" cy="2328.6" r="2.55"/>
<circle cx="1076.38" cy="2328.6" r="7.45"/>
<circle cx="1105.46" cy="2328.6" r="11.4"/>
<circle cx="1134.54" cy="2328.6" r="7.45"/>
<circle cx="1163.62" cy="2328.6" r="3.55"/>
<circle cx="1192.7" cy="2328.6" r="3.3"/>
<circle cx="1221.78" cy="2328.6" r="2.55"/>
<circle cx="1250.86" cy="2328.6" r="2.55"/>
<circle cx="1279.94" cy="2328.6" r="2.05"/>
<circle cx="1309.02" cy="2328.6" r="2.55"/>
<circle cx="1338.1" cy="2328.6" r="2.05"/>
<circle cx="1367.18" cy="2328.6" r="2.3"/>
<circle cx="1396.26" cy="2328.6" r="2.55"/>
</g>
<g fill="#c58adc" stroke="#a573b8" stroke-width="0.55">
<circle cx="174.9" cy="2357" r="5.85"/>
<circle cx="203.98" cy="2357" r="3.85"/>
<circle cx="233.06" cy="2357" r="6.35"/>
<circle cx="262.14" cy="2357" r="2.95"/>
<circle cx="291.22" cy="2357" r="4.7"/>
<circle cx="320.3" cy="2357" r="4.4"/>
<circle cx="349.38" cy="2357" r="2.4"/>
<circle cx="378.46" cy="2357" r="2.1"/>
<circle cx="407.54" cy="2357" r="2.95"/>
<circle cx="436.62" cy="2357" r="2.7"/>
<circle cx="465.7" cy="2357" r="2.4"/>
<circle cx="494.78" cy="2357" r="2.1"/>
<circle cx="523.86" cy="2357" r="2.1"/>
<circle cx="552.94" cy="2357" r="2.4"/>
<circle cx="582.02" cy="2357" r="2.4"/>
<circle cx="611.1" cy="2357" r="1.85"/>
<circle cx="640.18" cy="2357" r="3.55"/>
<circle cx="669.26" cy="2357" r="1.85"/>
<circle cx="698.34" cy="2357" r="2.1"/>
<circle cx="727.42" cy="2357" r="2.1"/>
<circle cx="756.5" cy="2357" r="2.1"/>
<circle cx="785.58" cy="2357" r="1.85"/>
<circle cx="814.66" cy="2357" r="2.4"/>
<circle cx="843.74" cy="2357" r="1.85"/>
<circle cx="872.82" cy="2357" r="1.85"/>
<circle cx="901.9" cy="2357" r="1.85"/>
<circle cx="930.98" cy="2357" r="2.4"/>
<circle cx="960.06" cy="2357" r="2.4"/>
<circle cx="989.14" cy="2357" r="3.25"/>
<circle cx="1018.22" cy="2357" r="5.85"/>
<circle cx="1047.3" cy="2357" r="5.5"/>
<circle cx="1076.38" cy="2357" r="7.95"/>
<circle cx="1105.46" cy="2357" r="13.1"/>
<circle cx="1134.54" cy="2357" r="5"/>
<circle cx="1163.62" cy="2357" r="3.3"/>
<circle cx="1192.7" cy="2357" r="2.8"/>
<circle cx="1221.78" cy="2357" r="2.3"/>
<circle cx="1250.86" cy="2357" r="2.3"/>
<circle cx="1279.94" cy="2357" r="2.05"/>
<circle cx="1309.02" cy="2357" r="2.8"/>
<circle cx="1338.1" cy="2357" r="1.8"/>
<circle cx="1367.18" cy="2357" r="2.3"/>
<circle cx="1396.26" cy="2357" r="3.55"/>
</g>
<g fill="#8448b8" stroke="#6e3c9a" stroke-width="0.55">
<circle cx="174.9" cy="2385.4" r="6.1"/>
<circle cx="203.98" cy="2385.4" r="4.1"/>
<circle cx="233.06" cy="2385.4" r="7.5"/>
<circle cx="262.14" cy="2385.4" r="2.95"/>
<circle cx="291.22" cy="2385.4" r="4.1"/>
<circle cx="320.3" cy="2385.4" r="4.95"/>
<circle cx="349.38" cy="2385.4" r="2.7"/>
<circle cx="378.46" cy="2385.4" r="2.1"/>
<circle cx="407.54" cy="2385.4" r="2.95"/>
<circle cx="436.62" cy="2385.4" r="2.7"/>
<circle cx="465.7" cy="2385.4" r="2.1"/>
<circle cx="494.78" cy="2385.4" r="1.85"/>
<circle cx="523.86" cy="2385.4" r="1.85"/>
<circle cx="552.94" cy="2385.4" r="1.85"/>
<circle cx="582.02" cy="2385.4" r="1.85"/>
<circle cx="611.1" cy="2385.4" r="1.85"/>
<circle cx="640.18" cy="2385.4" r="2.4"/>
<circle cx="669.26" cy="2385.4" r="1.85"/>
<circle cx="698.34" cy="2385.4" r="1.85"/>
<circle cx="727.42" cy="2385.4" r="2.7"/>
<circle cx="756.5" cy="2385.4" r="2.95"/>
<circle cx="785.58" cy="2385.4" r="1.85"/>
<circle cx="814.66" cy="2385.4" r="2.7"/>
<circle cx="843.74" cy="2385.4" r="1.85"/>
<circle cx="872.82" cy="2385.4" r="1.85"/>
<circle cx="901.9" cy="2385.4" r="1.85"/>
<circle cx="930.98" cy="2385.4" r="2.95"/>
<circle cx="960.06" cy="2385.4" r="2.4"/>
<circle cx="989.14" cy="2385.4" r="1.85"/>
<circle cx="1018.22" cy="2385.4" r="3.55"/>
<circle cx="1047.3" cy="2385.4" r="2.05"/>
<circle cx="1076.38" cy="2385.4" r="4.25"/>
<circle cx="1105.46" cy="2385.4" r="6.45"/>
<circle cx="1134.54" cy="2385.4" r="14.55"/>
<circle cx="1163.62" cy="2385.4" r="3.55"/>
<circle cx="1192.7" cy="2385.4" r="2.55"/>
<circle cx="1221.78" cy="2385.4" r="2.3"/>
<circle cx="1250.86" cy="2385.4" r="2.3"/>
<circle cx="1279.94" cy="2385.4" r="2.05"/>
<circle cx="1309.02" cy="2385.4" r="2.8"/>
<circle cx="1338.1" cy="2385.4" r="2.05"/>
<circle cx="1367.18" cy="2385.4" r="2.3"/>
<circle cx="1396.26" cy="2385.4" r="4"/>
</g>
<g fill="#a97fd3" stroke="#8d6ab1" stroke-width="0.55">
<circle cx="174.9" cy="2413.8" r="7.5"/>
<circle cx="203.98" cy="2413.8" r="5.25"/>
<circle cx="233.06" cy="2413.8" r="7.8"/>
<circle cx="262.14" cy="2413.8" r="2.7"/>
<circle cx="291.22" cy="2413.8" r="5.55"/>
<circle cx="320.3" cy="2413.8" r="4.95"/>
<circle cx="349.38" cy="2413.8" r="2.7"/>
<circle cx="378.46" cy="2413.8" r="2.1"/>
<circle cx="407.54" cy="2413.8" r="2.95"/>
<circle cx="436.62" cy="2413.8" r="2.4"/>
<circle cx="465.7" cy="2413.8" r="2.1"/>
<circle cx="494.78" cy="2413.8" r="1.85"/>
<circle cx="523.86" cy="2413.8" r="1.85"/>
<circle cx="552.94" cy="2413.8" r="3.85"/>
<circle cx="582.02" cy="2413.8" r="1.85"/>
<circle cx="611.1" cy="2413.8" r="1.85"/>
<circle cx="640.18" cy="2413.8" r="2.1"/>
<circle cx="669.26" cy="2413.8" r="3.25"/>
<circle cx="698.34" cy="2413.8" r="4.1"/>
<circle cx="727.42" cy="2413.8" r="2.1"/>
<circle cx="756.5" cy="2413.8" r="3.25"/>
<circle cx="785.58" cy="2413.8" r="1.85"/>
<circle cx="814.66" cy="2413.8" r="1.85"/>
<circle cx="843.74" cy="2413.8" r="1.85"/>
<circle cx="872.82" cy="2413.8" r="1.85"/>
<circle cx="901.9" cy="2413.8" r="1.85"/>
<circle cx="930.98" cy="2413.8" r="1.85"/>
<circle cx="960.06" cy="2413.8" r="1.85"/>
<circle cx="989.14" cy="2413.8" r="11.8"/>
<circle cx="1018.22" cy="2413.8" r="6.35"/>
<circle cx="1047.3" cy="2413.8" r="4.5"/>
<circle cx="1076.38" cy="2413.8" r="4.5"/>
<circle cx="1105.46" cy="2413.8" r="4.75"/>
<circle cx="1134.54" cy="2413.8" r="2.05"/>
<circle cx="1163.62" cy="2413.8" r="3.05"/>
<circle cx="1192.7" cy="2413.8" r="2.55"/>
<circle cx="1221.78" cy="2413.8" r="2.55"/>
<circle cx="1250.86" cy="2413.8" r="2.55"/>
<circle cx="1279.94" cy="2413.8" r="2.05"/>
<circle cx="1309.02" cy="2413.8" r="2.55"/>
<circle cx="1338.1" cy="2413.8" r="2.05"/>
<circle cx="1367.18" cy="2413.8" r="2.3"/>
<circle cx="1396.26" cy="2413.8" r="4.75"/>
</g>
<g fill="#b31c6b" stroke="#961759" stroke-width="0.55">
<circle cx="174.9" cy="2442.2" r="9.25"/>
<circle cx="203.98" cy="2442.2" r="4.7"/>
<circle cx="233.06" cy="2442.2" r="7.8"/>
<circle cx="262.14" cy="2442.2" r="2.95"/>
<circle cx="291.22" cy="2442.2" r="6.1"/>
<circle cx="320.3" cy="2442.2" r="4.95"/>
<circle cx="349.38" cy="2442.2" r="2.4"/>
<circle cx="378.46" cy="2442.2" r="2.1"/>
<circle cx="407.54" cy="2442.2" r="2.4"/>
<circle cx="436.62" cy="2442.2" r="2.7"/>
<circle cx="465.7" cy="2442.2" r="2.1"/>
<circle cx="494.78" cy="2442.2" r="1.85"/>
<circle cx="523.86" cy="2442.2" r="1.85"/>
<circle cx="552.94" cy="2442.2" r="1.85"/>
<circle cx="582.02" cy="2442.2" r="1.85"/>
<circle cx="611.1" cy="2442.2" r="1.85"/>
<circle cx="640.18" cy="2442.2" r="2.1"/>
<circle cx="669.26" cy="2442.2" r="2.1"/>
<circle cx="698.34" cy="2442.2" r="2.1"/>
<circle cx="727.42" cy="2442.2" r="2.1"/>
<circle cx="756.5" cy="2442.2" r="2.1"/>
<circle cx="785.58" cy="2442.2" r="2.1"/>
<circle cx="814.66" cy="2442.2" r="2.1"/>
<circle cx="843.74" cy="2442.2" r="1.85"/>
<circle cx="872.82" cy="2442.2" r="2.1"/>
<circle cx="901.9" cy="2442.2" r="1.85"/>
<circle cx="930.98" cy="2442.2" r="1.85"/>
<circle cx="960.06" cy="2442.2" r="1.85"/>
<circle cx="989.14" cy="2442.2" r="12.05"/>
<circle cx="1018.22" cy="2442.2" r="8.65"/>
<circle cx="1047.3" cy="2442.2" r="3.05"/>
<circle cx="1076.38" cy="2442.2" r="3.55"/>
<circle cx="1105.46" cy="2442.2" r="2.8"/>
<circle cx="1134.54" cy="2442.2" r="2.3"/>
<circle cx="1163.62" cy="2442.2" r="2.05"/>
<circle cx="1192.7" cy="2442.2" r="2.3"/>
<circle cx="1221.78" cy="2442.2" r="2.3"/>
<circle cx="1250.86" cy="2442.2" r="2.05"/>
<circle cx="1279.94" cy="2442.2" r="2.05"/>
<circle cx="1309.02" cy="2442.2" r="2.55"/>
<circle cx="1338.1" cy="2442.2" r="2.05"/>
<circle cx="1367.18" cy="2442.2" r="2.3"/>
<circle cx="1396.26" cy="2442.2" r="3.05"/>
</g>
<g fill="#aa68cc" stroke="#8e57ab" stroke-width="0.55">
<circle cx="174.9" cy="2470.6" r="8.1"/>
<circle cx="203.98" cy="2470.6" r="1.85"/>
<circle cx="233.06" cy="2470.6" r="8.65"/>
<circle cx="262.14" cy="2470.6" r="2.7"/>
<circle cx="291.22" cy="2470.6" r="4.95"/>
<circle cx="320.3" cy="2470.6" r="4.4"/>
<circle cx="349.38" cy="2470.6" r="3.85"/>
<circle cx="378.46" cy="2470.6" r="2.7"/>
<circle cx="407.54" cy="2470.6" r="2.95"/>
<circle cx="436.62" cy="2470.6" r="2.4"/>
<circle cx="465.7" cy="2470.6" r="1.85"/>
<circle cx="494.78" cy="2470.6" r="1.85"/>
<circle cx="523.86" cy="2470.6" r="1.85"/>
<circle cx="552.94" cy="2470.6" r="1.85"/>
<circle cx="582.02" cy="2470.6" r="1.85"/>
<circle cx="611.1" cy="2470.6" r="1.85"/>
<circle cx="640.18" cy="2470.6" r="2.1"/>
<circle cx="669.26" cy="2470.6" r="1.85"/>
<circle cx="698.34" cy="2470.6" r="1.85"/>
<circle cx="727.42" cy="2470.6" r="1.85"/>
<circle cx="756.5" cy="2470.6" r="1.85"/>
<circle cx="785.58" cy="2470.6" r="1.85"/>
<circle cx="814.66" cy="2470.6" r="1.85"/>
<circle cx="843.74" cy="2470.6" r="1.85"/>
<circle cx="872.82" cy="2470.6" r="1.85"/>
<circle cx="901.9" cy="2470.6" r="1.85"/>
<circle cx="930.98" cy="2470.6" r="1.85"/>
<circle cx="960.06" cy="2470.6" r="2.1"/>
<circle cx="989.14" cy="2470.6" r="3.25"/>
<circle cx="1018.22" cy="2470.6" r="10.95"/>
<circle cx="1047.3" cy="2470.6" r="8.45"/>
<circle cx="1076.38" cy="2470.6" r="5.5"/>
<circle cx="1105.46" cy="2470.6" r="6.25"/>
<circle cx="1134.54" cy="2470.6" r="2.05"/>
<circle cx="1163.62" cy="2470.6" r="2.3"/>
<circle cx="1192.7" cy="2470.6" r="2.3"/>
<circle cx="1221.78" cy="2470.6" r="2.3"/>
<circle cx="1250.86" cy="2470.6" r="2.3"/>
<circle cx="1279.94" cy="2470.6" r="2.3"/>
<circle cx="1309.02" cy="2470.6" r="2.3"/>
<circle cx="1338.1" cy="2470.6" r="2.05"/>
<circle cx="1367.18" cy="2470.6" r="2.3"/>
<circle cx="1396.26" cy="2470.6" r="2.3"/>
</g>
<g fill="#b052c6" stroke="#9344a6" stroke-width="0.55">
<circle cx="174.9" cy="2499" r="8.1"/>
<circle cx="203.98" cy="2499" r="3.55"/>
<circle cx="233.06" cy="2499" r="8.95"/>
<circle cx="262.14" cy="2499" r="2.7"/>
<circle cx="291.22" cy="2499" r="5.55"/>
<circle cx="320.3" cy="2499" r="5.55"/>
<circle cx="349.38" cy="2499" r="2.4"/>
<circle cx="378.46" cy="2499" r="1.85"/>
<circle cx="407.54" cy="2499" r="2.95"/>
<circle cx="436.62" cy="2499" r="2.7"/>
<circle cx="465.7" cy="2499" r="1.85"/>
<circle cx="494.78" cy="2499" r="1.85"/>
<circle cx="523.86" cy="2499" r="1.85"/>
<circle cx="552.94" cy="2499" r="1.85"/>
<circle cx="582.02" cy="2499" r="1.85"/>
<circle cx="611.1" cy="2499" r="1.85"/>
<circle cx="640.18" cy="2499" r="2.1"/>
<circle cx="669.26" cy="2499" r="1.85"/>
<circle cx="698.34" cy="2499" r="1.85"/>
<circle cx="727.42" cy="2499" r="1.85"/>
<circle cx="756.5" cy="2499" r="1.85"/>
<circle cx="785.58" cy="2499" r="1.85"/>
<circle cx="814.66" cy="2499" r="1.85"/>
<circle cx="843.74" cy="2499" r="1.85"/>
<circle cx="872.82" cy="2499" r="1.85"/>
<circle cx="901.9" cy="2499" r="1.85"/>
<circle cx="930.98" cy="2499" r="1.85"/>
<circle cx="960.06" cy="2499" r="1.85"/>
<circle cx="989.14" cy="2499" r="4.1"/>
<circle cx="1018.22" cy="2499" r="9.8"/>
<circle cx="1047.3" cy="2499" r="3.55"/>
<circle cx="1076.38" cy="2499" r="5.75"/>
<circle cx="1105.46" cy="2499" r="8.95"/>
<circle cx="1134.54" cy="2499" r="2.3"/>
<circle cx="1163.62" cy="2499" r="2.55"/>
<circle cx="1192.7" cy="2499" r="2.55"/>
<circle cx="1221.78" cy="2499" r="2.3"/>
<circle cx="1250.86" cy="2499" r="2.3"/>
<circle cx="1279.94" cy="2499" r="1.8"/>
<circle cx="1309.02" cy="2499" r="2.3"/>
<circle cx="1338.1" cy="2499" r="1.8"/>
<circle cx="1367.18" cy="2499" r="2.05"/>
<circle cx="1396.26" cy="2499" r="3.3"/>
</g>
<text x="154.7" y="1224.1" font-size="22.3" textLength="398" lengthAdjust="spacingAndGlyphs">Dissection region (normalized by row)</text>
<text x="1089.5" y="1220.4" font-size="23" textLength="32.6" lengthAdjust="spacingAndGlyphs">Pct</text>
<circle cx="1149.6" cy="1212.9" r="8.1" fill="#000"/>
<text x="1181" y="1221.1" font-size="23.5">20</text>
<circle cx="1240.1" cy="1212.9" r="10.3" fill="#000"/>
<text x="1271" y="1221.1" font-size="23.5">40</text>
<circle cx="1335.1" cy="1212.9" r="12.2" fill="#000"/>
<text x="1366.3" y="1221.1" font-size="23.5">60</text>
<path d="M1485.75 1234.6V2514M1550.8 1234.6V2514M1615.85 1234.6V2514" stroke="#e2e2e8" stroke-width="1.25"/>
<rect x="1420.7" y="1237.6" width="73.51" height="23.6" fill="#c9a39a"/>
<rect x="1420.7" y="1266" width="117.09" height="23.6" fill="#f8d47c"/>
<rect x="1420.7" y="1294.4" width="100.83" height="23.6" fill="#a67760"/>
<rect x="1420.7" y="1322.8" width="91.72" height="23.6" fill="#8a5142"/>
<rect x="1420.7" y="1351.2" width="82.61" height="23.6" fill="#5c3a2c"/>
<rect x="1420.7" y="1379.6" width="150.27" height="23.6" fill="#1e1512"/>
<rect x="1420.7" y="1408" width="113.19" height="23.6" fill="#c3d4f0"/>
<rect x="1420.7" y="1436.4" width="111.24" height="23.6" fill="#b3e3f3"/>
<rect x="1420.7" y="1464.8" width="117.09" height="23.6" fill="#9ce0e3"/>
<rect x="1420.7" y="1493.2" width="124.25" height="23.6" fill="#5ca2d6"/>
<rect x="1420.7" y="1521.6" width="104.08" height="23.6" fill="#4869b8"/>
<rect x="1420.7" y="1550" width="87.82" height="23.6" fill="#3b5193"/>
<rect x="1420.7" y="1578.4" width="128.47" height="23.6" fill="#223a78"/>
<rect x="1420.7" y="1606.8" width="120.34" height="23.6" fill="#b0ecb6"/>
<rect x="1420.7" y="1635.2" width="107.98" height="23.6" fill="#8adca6"/>
<rect x="1420.7" y="1663.6" width="151.57" height="23.6" fill="#4cc03c"/>
<rect x="1420.7" y="1692" width="144.41" height="23.6" fill="#2aa726"/>
<rect x="1420.7" y="1720.4" width="107.98" height="23.6" fill="#2f6142"/>
<rect x="1420.7" y="1748.8" width="148.31" height="23.6" fill="#86c92a"/>
<rect x="1420.7" y="1777.2" width="144.41" height="23.6" fill="#2bb822"/>
<rect x="1420.7" y="1805.6" width="144.41" height="23.6" fill="#c2dc0a"/>
<rect x="1420.7" y="1834" width="80.66" height="23.6" fill="#f8dc68"/>
<rect x="1420.7" y="1862.4" width="111.89" height="23.6" fill="#f28005"/>
<rect x="1420.7" y="1890.8" width="87.82" height="23.6" fill="#f4e18f"/>
<rect x="1420.7" y="1919.2" width="100.18" height="23.6" fill="#f4c14e"/>
<rect x="1420.7" y="1947.6" width="117.09" height="23.6" fill="#f0b722"/>
<rect x="1420.7" y="1976" width="152.22" height="23.6" fill="#c8852a"/>
<rect x="1420.7" y="2004.4" width="149.94" height="23.6" fill="#d85712"/>
<rect x="1420.7" y="2032.8" width="96.92" height="23.6" fill="#fde1b0"/>
<rect x="1420.7" y="2061.2" width="122.94" height="23.6" fill="#df8812"/>
<rect x="1420.7" y="2089.6" width="134.98" height="23.6" fill="#f26848"/>
<rect x="1420.7" y="2118" width="117.09" height="23.6" fill="#3a1919"/>
<rect x="1420.7" y="2146.4" width="137.26" height="23.6" fill="#fdb2ba"/>
<rect x="1420.7" y="2174.8" width="150.27" height="23.6" fill="#f0406e"/>
<rect x="1420.7" y="2203.2" width="150.27" height="23.6" fill="#d52a18"/>
<rect x="1420.7" y="2231.6" width="143.11" height="23.6" fill="#861b16"/>
<rect x="1420.7" y="2260" width="78.71" height="23.6" fill="#ebdff7"/>
<rect x="1420.7" y="2288.4" width="72.86" height="23.6" fill="#f9d8f0"/>
<rect x="1420.7" y="2316.8" width="144.41" height="23.6" fill="#e07ab8"/>
<rect x="1420.7" y="2345.2" width="83.91" height="23.6" fill="#c58adc"/>
<rect x="1420.7" y="2373.6" width="102.45" height="23.6" fill="#8448b8"/>
<rect x="1420.7" y="2402" width="140.51" height="23.6" fill="#a97fd3"/>
<rect x="1420.7" y="2430.4" width="98.88" height="23.6" fill="#b31c6b"/>
<rect x="1420.7" y="2458.8" width="109.93" height="23.6" fill="#aa68cc"/>
<rect x="1420.7" y="2487.2" width="128.15" height="23.6" fill="#b052c6"/>
<path d="M1420.7 1230.3V2512M1420.7 1234.6H1615.85M1485.75 1234.6V1230.3M1550.8 1234.6V1230.3M1615.85 1234.6V1230.3" stroke="#111" stroke-width="1.8" fill="none"/>
<text x="1422.6" y="1223.9" font-size="23.6" text-anchor="middle">0</text>
<text x="1488" y="1223.9" font-size="23.6" text-anchor="middle">10</text>
<text x="1552.1" y="1223.9" font-size="23.6" text-anchor="middle">20</text>
<text x="1617.2" y="1223.9" font-size="23.6" text-anchor="middle">30</text>
<text transform="translate(1438.3 1201.1) scale(1.12 1)" font-size="21"># of nuclei (x 10<tspan dy="-7.2" font-size="12.5">3</tspan><tspan dy="7.2">)</tspan></text>
<text x="-0.7" y="22.4" font-size="38" font-weight="bold">a</text>
<text x="-1.6" y="291.6" font-size="40" font-weight="bold">b</text>
<text x="-0.6" y="546.2" font-size="40" font-weight="bold">c</text>
<text x="-0.6" y="1196.2" font-size="40" font-weight="bold">d</text>
</svg>
</body></html>
